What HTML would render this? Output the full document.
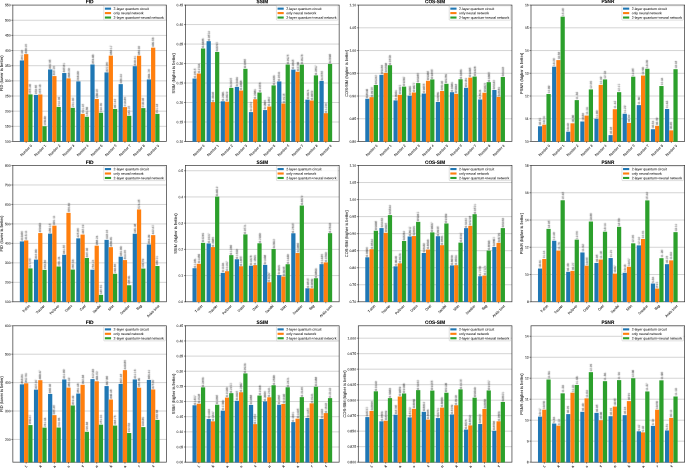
<!DOCTYPE html>
<html><head><meta charset="utf-8"><title>Metrics comparison</title>
<style>
html,body{margin:0;padding:0;background:#fff;}
body{width:685px;height:468px;overflow:hidden;font-family:"Liberation Sans",sans-serif;}
svg{display:block;will-change:transform;transform:translateZ(0);}
text{text-rendering:geometricPrecision;}
</style></head><body>
<svg width="685" height="468" viewBox="0 0 685 468" font-family="'Liberation Sans', sans-serif" fill="#111">
<defs><filter id="tb" x="-5%" y="-5%" width="110%" height="110%"><feConvolveMatrix order="3" kernelMatrix="0 1 0 1 5 1 0 1 0" edgeMode="none"/></filter></defs>
<g>
<line x1="12.85" x2="166.5" y1="126.34" y2="126.34" stroke="#000" stroke-opacity="0.25" stroke-width="0.7"/>
<line x1="12.85" x2="166.5" y1="111.18" y2="111.18" stroke="#000" stroke-opacity="0.25" stroke-width="0.7"/>
<line x1="12.85" x2="166.5" y1="96.03" y2="96.03" stroke="#000" stroke-opacity="0.25" stroke-width="0.7"/>
<line x1="12.85" x2="166.5" y1="80.87" y2="80.87" stroke="#000" stroke-opacity="0.25" stroke-width="0.7"/>
<line x1="12.85" x2="166.5" y1="65.71" y2="65.71" stroke="#000" stroke-opacity="0.25" stroke-width="0.7"/>
<line x1="12.85" x2="166.5" y1="50.55" y2="50.55" stroke="#000" stroke-opacity="0.25" stroke-width="0.7"/>
<line x1="12.85" x2="166.5" y1="35.4" y2="35.4" stroke="#000" stroke-opacity="0.25" stroke-width="0.7"/>
<line x1="12.85" x2="166.5" y1="20.24" y2="20.24" stroke="#000" stroke-opacity="0.25" stroke-width="0.7"/>
<rect x="12.85" y="5.08" width="153.65" height="136.42" fill="none" stroke="#000" stroke-opacity="0.8" stroke-width="0.7"/>
<rect x="19.83" y="60.43" width="4.23" height="81.32" fill="#1f77b4"/>
<rect x="24.07" y="54.14" width="4.23" height="87.61" fill="#ff7f0e"/>
<rect x="28.3" y="94.39" width="4.23" height="47.36" fill="#2ca02c"/>
<rect x="33.94" y="94.92" width="4.23" height="46.83" fill="#1f77b4"/>
<rect x="38.18" y="94.47" width="4.23" height="47.28" fill="#ff7f0e"/>
<rect x="42.41" y="126.24" width="4.23" height="15.51" fill="#2ca02c"/>
<rect x="48.05" y="69.46" width="4.23" height="72.29" fill="#1f77b4"/>
<rect x="52.29" y="76.09" width="4.23" height="65.66" fill="#ff7f0e"/>
<rect x="56.52" y="106.91" width="4.23" height="34.84" fill="#2ca02c"/>
<rect x="62.16" y="73.04" width="4.23" height="68.71" fill="#1f77b4"/>
<rect x="66.39" y="78.37" width="4.23" height="63.38" fill="#ff7f0e"/>
<rect x="70.63" y="107.82" width="4.23" height="33.93" fill="#2ca02c"/>
<rect x="76.27" y="81.38" width="4.23" height="60.37" fill="#1f77b4"/>
<rect x="80.5" y="113.87" width="4.23" height="27.88" fill="#ff7f0e"/>
<rect x="84.74" y="116.79" width="4.23" height="24.96" fill="#2ca02c"/>
<rect x="90.38" y="64.49" width="4.23" height="77.26" fill="#1f77b4"/>
<rect x="94.61" y="99.01" width="4.23" height="42.74" fill="#ff7f0e"/>
<rect x="98.85" y="112.76" width="4.23" height="28.99" fill="#2ca02c"/>
<rect x="104.49" y="72.42" width="4.23" height="69.33" fill="#1f77b4"/>
<rect x="108.72" y="55.66" width="4.23" height="86.09" fill="#ff7f0e"/>
<rect x="112.96" y="108.94" width="4.23" height="32.81" fill="#2ca02c"/>
<rect x="118.6" y="84.13" width="4.23" height="57.62" fill="#1f77b4"/>
<rect x="122.83" y="107.13" width="4.23" height="34.62" fill="#ff7f0e"/>
<rect x="127.06" y="115.81" width="4.23" height="25.94" fill="#2ca02c"/>
<rect x="132.71" y="66.19" width="4.23" height="75.56" fill="#1f77b4"/>
<rect x="136.94" y="55.73" width="4.23" height="86.02" fill="#ff7f0e"/>
<rect x="141.17" y="108.12" width="4.23" height="33.63" fill="#2ca02c"/>
<rect x="146.82" y="79.43" width="4.23" height="62.32" fill="#1f77b4"/>
<rect x="151.05" y="47.66" width="4.23" height="94.09" fill="#ff7f0e"/>
<rect x="155.28" y="113.87" width="4.23" height="27.88" fill="#2ca02c"/>
<line x1="11.35" x2="12.85" y1="141.5" y2="141.5" stroke="#000" stroke-width="0.45"/>
<line x1="11.35" x2="12.85" y1="126.34" y2="126.34" stroke="#000" stroke-width="0.45"/>
<line x1="11.35" x2="12.85" y1="111.18" y2="111.18" stroke="#000" stroke-width="0.45"/>
<line x1="11.35" x2="12.85" y1="96.03" y2="96.03" stroke="#000" stroke-width="0.45"/>
<line x1="11.35" x2="12.85" y1="80.87" y2="80.87" stroke="#000" stroke-width="0.45"/>
<line x1="11.35" x2="12.85" y1="65.71" y2="65.71" stroke="#000" stroke-width="0.45"/>
<line x1="11.35" x2="12.85" y1="50.55" y2="50.55" stroke="#000" stroke-width="0.45"/>
<line x1="11.35" x2="12.85" y1="35.4" y2="35.4" stroke="#000" stroke-width="0.45"/>
<line x1="11.35" x2="12.85" y1="20.24" y2="20.24" stroke="#000" stroke-width="0.45"/>
<line x1="11.35" x2="12.85" y1="5.08" y2="5.08" stroke="#000" stroke-width="0.45"/>
<line x1="26.18" x2="26.18" y1="141.5" y2="143" stroke="#000" stroke-width="0.45"/>
<line x1="40.29" x2="40.29" y1="141.5" y2="143" stroke="#000" stroke-width="0.45"/>
<line x1="54.4" x2="54.4" y1="141.5" y2="143" stroke="#000" stroke-width="0.45"/>
<line x1="68.51" x2="68.51" y1="141.5" y2="143" stroke="#000" stroke-width="0.45"/>
<line x1="82.62" x2="82.62" y1="141.5" y2="143" stroke="#000" stroke-width="0.45"/>
<line x1="96.73" x2="96.73" y1="141.5" y2="143" stroke="#000" stroke-width="0.45"/>
<line x1="110.84" x2="110.84" y1="141.5" y2="143" stroke="#000" stroke-width="0.45"/>
<line x1="124.95" x2="124.95" y1="141.5" y2="143" stroke="#000" stroke-width="0.45"/>
<line x1="139.06" x2="139.06" y1="141.5" y2="143" stroke="#000" stroke-width="0.45"/>
<line x1="153.17" x2="153.17" y1="141.5" y2="143" stroke="#000" stroke-width="0.45"/>
<text x="89.67" y="3.15" font-size="5.04" text-anchor="middle" textLength="7.92" lengthAdjust="spacingAndGlyphs" transform="rotate(0.03 89.67 3.15)" font-weight="bold" stroke="#000" stroke-width="0.1" fill="#000">FID</text>
<rect x="103.78" y="5.8" width="61.52" height="14.35" rx="0.6" fill="#fff" fill-opacity="0.8" stroke="#bbb" stroke-opacity="0.9" stroke-width="0.5"/>
<rect x="104.88" y="7.6" width="6.2" height="2.1" fill="#1f77b4"/>
<rect x="104.88" y="12.05" width="6.2" height="2.1" fill="#ff7f0e"/>
<rect x="104.88" y="16.5" width="6.2" height="2.1" fill="#2ca02c"/>
</g>
<g>
<line x1="185.5" x2="339.15" y1="122.01" y2="122.01" stroke="#000" stroke-opacity="0.25" stroke-width="0.7"/>
<line x1="185.5" x2="339.15" y1="102.52" y2="102.52" stroke="#000" stroke-opacity="0.25" stroke-width="0.7"/>
<line x1="185.5" x2="339.15" y1="83.03" y2="83.03" stroke="#000" stroke-opacity="0.25" stroke-width="0.7"/>
<line x1="185.5" x2="339.15" y1="63.55" y2="63.55" stroke="#000" stroke-opacity="0.25" stroke-width="0.7"/>
<line x1="185.5" x2="339.15" y1="44.06" y2="44.06" stroke="#000" stroke-opacity="0.25" stroke-width="0.7"/>
<line x1="185.5" x2="339.15" y1="24.57" y2="24.57" stroke="#000" stroke-opacity="0.25" stroke-width="0.7"/>
<rect x="185.5" y="5.08" width="153.65" height="136.42" fill="none" stroke="#000" stroke-opacity="0.8" stroke-width="0.7"/>
<rect x="192.48" y="78.55" width="4.23" height="63.2" fill="#1f77b4"/>
<rect x="196.72" y="73.52" width="4.23" height="68.23" fill="#ff7f0e"/>
<rect x="200.95" y="48.5" width="4.23" height="93.25" fill="#2ca02c"/>
<rect x="206.59" y="41.17" width="4.23" height="100.58" fill="#1f77b4"/>
<rect x="210.83" y="102.13" width="4.23" height="39.62" fill="#ff7f0e"/>
<rect x="215.06" y="51.97" width="4.23" height="89.78" fill="#2ca02c"/>
<rect x="220.7" y="101.31" width="4.23" height="40.44" fill="#1f77b4"/>
<rect x="224.94" y="101.67" width="4.23" height="40.08" fill="#ff7f0e"/>
<rect x="229.17" y="87.91" width="4.23" height="53.84" fill="#2ca02c"/>
<rect x="234.81" y="86.89" width="4.23" height="54.86" fill="#1f77b4"/>
<rect x="239.04" y="90.52" width="4.23" height="51.23" fill="#ff7f0e"/>
<rect x="243.28" y="68.81" width="4.23" height="72.94" fill="#2ca02c"/>
<rect x="248.92" y="112.11" width="4.23" height="29.64" fill="#1f77b4"/>
<rect x="253.15" y="99.25" width="4.23" height="42.5" fill="#ff7f0e"/>
<rect x="257.39" y="92.54" width="4.23" height="49.21" fill="#2ca02c"/>
<rect x="263.03" y="110.08" width="4.23" height="31.67" fill="#1f77b4"/>
<rect x="267.26" y="106.54" width="4.23" height="35.21" fill="#ff7f0e"/>
<rect x="271.5" y="85.41" width="4.23" height="56.34" fill="#2ca02c"/>
<rect x="277.14" y="81.44" width="4.23" height="60.31" fill="#1f77b4"/>
<rect x="281.37" y="103.5" width="4.23" height="38.25" fill="#ff7f0e"/>
<rect x="285.61" y="64.52" width="4.23" height="77.23" fill="#2ca02c"/>
<rect x="291.25" y="69.59" width="4.23" height="72.16" fill="#1f77b4"/>
<rect x="295.48" y="71.73" width="4.23" height="70.02" fill="#ff7f0e"/>
<rect x="299.71" y="64.6" width="4.23" height="77.15" fill="#2ca02c"/>
<rect x="305.36" y="99.64" width="4.23" height="42.11" fill="#1f77b4"/>
<rect x="309.59" y="100.5" width="4.23" height="41.25" fill="#ff7f0e"/>
<rect x="313.82" y="75.36" width="4.23" height="66.39" fill="#2ca02c"/>
<rect x="319.47" y="80.89" width="4.23" height="60.86" fill="#1f77b4"/>
<rect x="323.7" y="113.2" width="4.23" height="28.55" fill="#ff7f0e"/>
<rect x="327.93" y="63.94" width="4.23" height="77.81" fill="#2ca02c"/>
<line x1="184" x2="185.5" y1="141.5" y2="141.5" stroke="#000" stroke-width="0.45"/>
<line x1="184" x2="185.5" y1="122.01" y2="122.01" stroke="#000" stroke-width="0.45"/>
<line x1="184" x2="185.5" y1="102.52" y2="102.52" stroke="#000" stroke-width="0.45"/>
<line x1="184" x2="185.5" y1="83.03" y2="83.03" stroke="#000" stroke-width="0.45"/>
<line x1="184" x2="185.5" y1="63.55" y2="63.55" stroke="#000" stroke-width="0.45"/>
<line x1="184" x2="185.5" y1="44.06" y2="44.06" stroke="#000" stroke-width="0.45"/>
<line x1="184" x2="185.5" y1="24.57" y2="24.57" stroke="#000" stroke-width="0.45"/>
<line x1="184" x2="185.5" y1="5.08" y2="5.08" stroke="#000" stroke-width="0.45"/>
<line x1="198.83" x2="198.83" y1="141.5" y2="143" stroke="#000" stroke-width="0.45"/>
<line x1="212.94" x2="212.94" y1="141.5" y2="143" stroke="#000" stroke-width="0.45"/>
<line x1="227.05" x2="227.05" y1="141.5" y2="143" stroke="#000" stroke-width="0.45"/>
<line x1="241.16" x2="241.16" y1="141.5" y2="143" stroke="#000" stroke-width="0.45"/>
<line x1="255.27" x2="255.27" y1="141.5" y2="143" stroke="#000" stroke-width="0.45"/>
<line x1="269.38" x2="269.38" y1="141.5" y2="143" stroke="#000" stroke-width="0.45"/>
<line x1="283.49" x2="283.49" y1="141.5" y2="143" stroke="#000" stroke-width="0.45"/>
<line x1="297.6" x2="297.6" y1="141.5" y2="143" stroke="#000" stroke-width="0.45"/>
<line x1="311.71" x2="311.71" y1="141.5" y2="143" stroke="#000" stroke-width="0.45"/>
<line x1="325.82" x2="325.82" y1="141.5" y2="143" stroke="#000" stroke-width="0.45"/>
<text x="262.32" y="3.15" font-size="5.04" text-anchor="middle" textLength="11.6" lengthAdjust="spacingAndGlyphs" transform="rotate(0.03 262.32 3.15)" font-weight="bold" stroke="#000" stroke-width="0.1" fill="#000">SSIM</text>
<rect x="276.43" y="5.8" width="61.52" height="14.35" rx="0.6" fill="#fff" fill-opacity="0.8" stroke="#bbb" stroke-opacity="0.9" stroke-width="0.5"/>
<rect x="277.53" y="7.6" width="6.2" height="2.1" fill="#1f77b4"/>
<rect x="277.53" y="12.05" width="6.2" height="2.1" fill="#ff7f0e"/>
<rect x="277.53" y="16.5" width="6.2" height="2.1" fill="#2ca02c"/>
</g>
<g>
<line x1="358.3" x2="511.95" y1="118.76" y2="118.76" stroke="#000" stroke-opacity="0.25" stroke-width="0.7"/>
<line x1="358.3" x2="511.95" y1="96.03" y2="96.03" stroke="#000" stroke-opacity="0.25" stroke-width="0.7"/>
<line x1="358.3" x2="511.95" y1="73.29" y2="73.29" stroke="#000" stroke-opacity="0.25" stroke-width="0.7"/>
<line x1="358.3" x2="511.95" y1="50.55" y2="50.55" stroke="#000" stroke-opacity="0.25" stroke-width="0.7"/>
<line x1="358.3" x2="511.95" y1="27.82" y2="27.82" stroke="#000" stroke-opacity="0.25" stroke-width="0.7"/>
<rect x="358.3" y="5.08" width="153.65" height="136.42" fill="none" stroke="#000" stroke-opacity="0.8" stroke-width="0.7"/>
<rect x="365.28" y="98.76" width="4.23" height="42.99" fill="#1f77b4"/>
<rect x="369.52" y="97.16" width="4.23" height="44.59" fill="#ff7f0e"/>
<rect x="373.75" y="85.02" width="4.23" height="56.73" fill="#2ca02c"/>
<rect x="379.39" y="74.84" width="4.23" height="66.91" fill="#1f77b4"/>
<rect x="383.63" y="72.93" width="4.23" height="68.82" fill="#ff7f0e"/>
<rect x="387.86" y="65.2" width="4.23" height="76.55" fill="#2ca02c"/>
<rect x="393.5" y="100.39" width="4.23" height="41.36" fill="#1f77b4"/>
<rect x="397.74" y="94.8" width="4.23" height="46.95" fill="#ff7f0e"/>
<rect x="401.97" y="86.61" width="4.23" height="55.14" fill="#2ca02c"/>
<rect x="407.61" y="95.71" width="4.23" height="46.04" fill="#1f77b4"/>
<rect x="411.84" y="92.53" width="4.23" height="49.22" fill="#ff7f0e"/>
<rect x="416.08" y="83.07" width="4.23" height="58.68" fill="#2ca02c"/>
<rect x="421.72" y="93.53" width="4.23" height="48.22" fill="#1f77b4"/>
<rect x="425.95" y="80.79" width="4.23" height="60.96" fill="#ff7f0e"/>
<rect x="430.19" y="79.43" width="4.23" height="62.32" fill="#2ca02c"/>
<rect x="435.83" y="101.98" width="4.23" height="39.77" fill="#1f77b4"/>
<rect x="440.06" y="91.02" width="4.23" height="50.73" fill="#ff7f0e"/>
<rect x="444.3" y="83.79" width="4.23" height="57.96" fill="#2ca02c"/>
<rect x="449.94" y="92.21" width="4.23" height="49.54" fill="#1f77b4"/>
<rect x="454.17" y="93.84" width="4.23" height="47.91" fill="#ff7f0e"/>
<rect x="458.41" y="79.25" width="4.23" height="62.5" fill="#2ca02c"/>
<rect x="464.05" y="87.8" width="4.23" height="53.95" fill="#1f77b4"/>
<rect x="468.28" y="77.61" width="4.23" height="64.14" fill="#ff7f0e"/>
<rect x="472.51" y="76.56" width="4.23" height="65.19" fill="#2ca02c"/>
<rect x="478.16" y="99.48" width="4.23" height="42.27" fill="#1f77b4"/>
<rect x="482.39" y="92.75" width="4.23" height="49" fill="#ff7f0e"/>
<rect x="486.62" y="82.16" width="4.23" height="59.59" fill="#2ca02c"/>
<rect x="492.27" y="90.02" width="4.23" height="51.73" fill="#1f77b4"/>
<rect x="496.5" y="96.89" width="4.23" height="44.86" fill="#ff7f0e"/>
<rect x="500.73" y="77.02" width="4.23" height="64.73" fill="#2ca02c"/>
<line x1="356.8" x2="358.3" y1="141.5" y2="141.5" stroke="#000" stroke-width="0.45"/>
<line x1="356.8" x2="358.3" y1="118.76" y2="118.76" stroke="#000" stroke-width="0.45"/>
<line x1="356.8" x2="358.3" y1="96.03" y2="96.03" stroke="#000" stroke-width="0.45"/>
<line x1="356.8" x2="358.3" y1="73.29" y2="73.29" stroke="#000" stroke-width="0.45"/>
<line x1="356.8" x2="358.3" y1="50.55" y2="50.55" stroke="#000" stroke-width="0.45"/>
<line x1="356.8" x2="358.3" y1="27.82" y2="27.82" stroke="#000" stroke-width="0.45"/>
<line x1="356.8" x2="358.3" y1="5.08" y2="5.08" stroke="#000" stroke-width="0.45"/>
<line x1="371.63" x2="371.63" y1="141.5" y2="143" stroke="#000" stroke-width="0.45"/>
<line x1="385.74" x2="385.74" y1="141.5" y2="143" stroke="#000" stroke-width="0.45"/>
<line x1="399.85" x2="399.85" y1="141.5" y2="143" stroke="#000" stroke-width="0.45"/>
<line x1="413.96" x2="413.96" y1="141.5" y2="143" stroke="#000" stroke-width="0.45"/>
<line x1="428.07" x2="428.07" y1="141.5" y2="143" stroke="#000" stroke-width="0.45"/>
<line x1="442.18" x2="442.18" y1="141.5" y2="143" stroke="#000" stroke-width="0.45"/>
<line x1="456.29" x2="456.29" y1="141.5" y2="143" stroke="#000" stroke-width="0.45"/>
<line x1="470.4" x2="470.4" y1="141.5" y2="143" stroke="#000" stroke-width="0.45"/>
<line x1="484.51" x2="484.51" y1="141.5" y2="143" stroke="#000" stroke-width="0.45"/>
<line x1="498.62" x2="498.62" y1="141.5" y2="143" stroke="#000" stroke-width="0.45"/>
<text x="435.12" y="3.15" font-size="5.04" text-anchor="middle" textLength="20.19" lengthAdjust="spacingAndGlyphs" transform="rotate(0.03 435.12 3.15)" font-weight="bold" stroke="#000" stroke-width="0.1" fill="#000">COS-SIM</text>
<rect x="449.23" y="5.8" width="61.52" height="14.35" rx="0.6" fill="#fff" fill-opacity="0.8" stroke="#bbb" stroke-opacity="0.9" stroke-width="0.5"/>
<rect x="450.33" y="7.6" width="6.2" height="2.1" fill="#1f77b4"/>
<rect x="450.33" y="12.05" width="6.2" height="2.1" fill="#ff7f0e"/>
<rect x="450.33" y="16.5" width="6.2" height="2.1" fill="#2ca02c"/>
</g>
<g>
<line x1="531" x2="684.65" y1="118.76" y2="118.76" stroke="#000" stroke-opacity="0.25" stroke-width="0.7"/>
<line x1="531" x2="684.65" y1="96.03" y2="96.03" stroke="#000" stroke-opacity="0.25" stroke-width="0.7"/>
<line x1="531" x2="684.65" y1="73.29" y2="73.29" stroke="#000" stroke-opacity="0.25" stroke-width="0.7"/>
<line x1="531" x2="684.65" y1="50.55" y2="50.55" stroke="#000" stroke-opacity="0.25" stroke-width="0.7"/>
<line x1="531" x2="684.65" y1="27.82" y2="27.82" stroke="#000" stroke-opacity="0.25" stroke-width="0.7"/>
<rect x="531" y="5.08" width="153.65" height="136.42" fill="none" stroke="#000" stroke-opacity="0.8" stroke-width="0.7"/>
<rect x="537.98" y="126.27" width="4.23" height="15.48" fill="#1f77b4"/>
<rect x="542.22" y="124.67" width="4.23" height="17.08" fill="#ff7f0e"/>
<rect x="546.45" y="93.98" width="4.23" height="47.77" fill="#2ca02c"/>
<rect x="552.09" y="66.7" width="4.23" height="75.05" fill="#1f77b4"/>
<rect x="556.33" y="60.1" width="4.23" height="81.65" fill="#ff7f0e"/>
<rect x="560.56" y="16.68" width="4.23" height="125.07" fill="#2ca02c"/>
<rect x="566.2" y="131.72" width="4.23" height="10.03" fill="#1f77b4"/>
<rect x="570.44" y="123.31" width="4.23" height="18.44" fill="#ff7f0e"/>
<rect x="574.67" y="100.12" width="4.23" height="41.63" fill="#2ca02c"/>
<rect x="580.31" y="121.49" width="4.23" height="20.26" fill="#1f77b4"/>
<rect x="584.54" y="115.58" width="4.23" height="26.17" fill="#ff7f0e"/>
<rect x="588.78" y="89.43" width="4.23" height="52.32" fill="#2ca02c"/>
<rect x="594.42" y="118.76" width="4.23" height="22.99" fill="#1f77b4"/>
<rect x="598.65" y="84.89" width="4.23" height="56.86" fill="#ff7f0e"/>
<rect x="602.89" y="79.43" width="4.23" height="62.32" fill="#2ca02c"/>
<rect x="608.53" y="135.13" width="4.23" height="6.62" fill="#1f77b4"/>
<rect x="612.76" y="109.21" width="4.23" height="32.54" fill="#ff7f0e"/>
<rect x="617" y="92.16" width="4.23" height="49.59" fill="#2ca02c"/>
<rect x="622.64" y="113.76" width="4.23" height="27.99" fill="#1f77b4"/>
<rect x="626.87" y="122.86" width="4.23" height="18.89" fill="#ff7f0e"/>
<rect x="631.11" y="76.7" width="4.23" height="65.05" fill="#2ca02c"/>
<rect x="636.75" y="105.12" width="4.23" height="36.63" fill="#1f77b4"/>
<rect x="640.98" y="75.56" width="4.23" height="66.19" fill="#ff7f0e"/>
<rect x="645.21" y="68.74" width="4.23" height="73.01" fill="#2ca02c"/>
<rect x="650.86" y="129.22" width="4.23" height="12.53" fill="#1f77b4"/>
<rect x="655.09" y="125.81" width="4.23" height="15.94" fill="#ff7f0e"/>
<rect x="659.32" y="86.02" width="4.23" height="55.73" fill="#2ca02c"/>
<rect x="664.97" y="108.99" width="4.23" height="32.76" fill="#1f77b4"/>
<rect x="669.2" y="130.36" width="4.23" height="11.39" fill="#ff7f0e"/>
<rect x="673.43" y="69.2" width="4.23" height="72.55" fill="#2ca02c"/>
<line x1="529.5" x2="531" y1="141.5" y2="141.5" stroke="#000" stroke-width="0.45"/>
<line x1="529.5" x2="531" y1="118.76" y2="118.76" stroke="#000" stroke-width="0.45"/>
<line x1="529.5" x2="531" y1="96.03" y2="96.03" stroke="#000" stroke-width="0.45"/>
<line x1="529.5" x2="531" y1="73.29" y2="73.29" stroke="#000" stroke-width="0.45"/>
<line x1="529.5" x2="531" y1="50.55" y2="50.55" stroke="#000" stroke-width="0.45"/>
<line x1="529.5" x2="531" y1="27.82" y2="27.82" stroke="#000" stroke-width="0.45"/>
<line x1="529.5" x2="531" y1="5.08" y2="5.08" stroke="#000" stroke-width="0.45"/>
<line x1="544.33" x2="544.33" y1="141.5" y2="143" stroke="#000" stroke-width="0.45"/>
<line x1="558.44" x2="558.44" y1="141.5" y2="143" stroke="#000" stroke-width="0.45"/>
<line x1="572.55" x2="572.55" y1="141.5" y2="143" stroke="#000" stroke-width="0.45"/>
<line x1="586.66" x2="586.66" y1="141.5" y2="143" stroke="#000" stroke-width="0.45"/>
<line x1="600.77" x2="600.77" y1="141.5" y2="143" stroke="#000" stroke-width="0.45"/>
<line x1="614.88" x2="614.88" y1="141.5" y2="143" stroke="#000" stroke-width="0.45"/>
<line x1="628.99" x2="628.99" y1="141.5" y2="143" stroke="#000" stroke-width="0.45"/>
<line x1="643.1" x2="643.1" y1="141.5" y2="143" stroke="#000" stroke-width="0.45"/>
<line x1="657.21" x2="657.21" y1="141.5" y2="143" stroke="#000" stroke-width="0.45"/>
<line x1="671.32" x2="671.32" y1="141.5" y2="143" stroke="#000" stroke-width="0.45"/>
<text x="607.83" y="3.15" font-size="5.04" text-anchor="middle" textLength="12.85" lengthAdjust="spacingAndGlyphs" transform="rotate(0.03 607.83 3.15)" font-weight="bold" stroke="#000" stroke-width="0.1" fill="#000">PSNR</text>
<rect x="621.93" y="5.8" width="61.52" height="14.35" rx="0.6" fill="#fff" fill-opacity="0.8" stroke="#bbb" stroke-opacity="0.9" stroke-width="0.5"/>
<rect x="623.03" y="7.6" width="6.2" height="2.1" fill="#1f77b4"/>
<rect x="623.03" y="12.05" width="6.2" height="2.1" fill="#ff7f0e"/>
<rect x="623.03" y="16.5" width="6.2" height="2.1" fill="#2ca02c"/>
</g>
<g>
<line x1="12.85" x2="166.5" y1="282.33" y2="282.33" stroke="#000" stroke-opacity="0.25" stroke-width="0.7"/>
<line x1="12.85" x2="166.5" y1="262.86" y2="262.86" stroke="#000" stroke-opacity="0.25" stroke-width="0.7"/>
<line x1="12.85" x2="166.5" y1="243.39" y2="243.39" stroke="#000" stroke-opacity="0.25" stroke-width="0.7"/>
<line x1="12.85" x2="166.5" y1="223.91" y2="223.91" stroke="#000" stroke-opacity="0.25" stroke-width="0.7"/>
<line x1="12.85" x2="166.5" y1="204.44" y2="204.44" stroke="#000" stroke-opacity="0.25" stroke-width="0.7"/>
<line x1="12.85" x2="166.5" y1="184.97" y2="184.97" stroke="#000" stroke-opacity="0.25" stroke-width="0.7"/>
<rect x="12.85" y="165.5" width="153.65" height="136.3" fill="none" stroke="#000" stroke-opacity="0.8" stroke-width="0.7"/>
<rect x="19.83" y="241.43" width="4.23" height="60.62" fill="#1f77b4"/>
<rect x="24.07" y="240.44" width="4.23" height="61.61" fill="#ff7f0e"/>
<rect x="28.3" y="268.4" width="4.23" height="33.65" fill="#2ca02c"/>
<rect x="33.94" y="259.59" width="4.23" height="42.46" fill="#1f77b4"/>
<rect x="38.18" y="233.06" width="4.23" height="68.99" fill="#ff7f0e"/>
<rect x="42.41" y="269.9" width="4.23" height="32.15" fill="#2ca02c"/>
<rect x="48.05" y="233.62" width="4.23" height="68.43" fill="#1f77b4"/>
<rect x="52.29" y="225.65" width="4.23" height="76.4" fill="#ff7f0e"/>
<rect x="56.52" y="266.51" width="4.23" height="35.54" fill="#2ca02c"/>
<rect x="62.16" y="254.77" width="4.23" height="47.28" fill="#1f77b4"/>
<rect x="66.39" y="212.85" width="4.23" height="89.2" fill="#ff7f0e"/>
<rect x="70.63" y="269.57" width="4.23" height="32.48" fill="#2ca02c"/>
<rect x="76.27" y="238.35" width="4.23" height="63.7" fill="#1f77b4"/>
<rect x="80.5" y="234.59" width="4.23" height="67.46" fill="#ff7f0e"/>
<rect x="84.74" y="257.97" width="4.23" height="44.08" fill="#2ca02c"/>
<rect x="90.38" y="269.72" width="4.23" height="32.33" fill="#1f77b4"/>
<rect x="94.61" y="245.68" width="4.23" height="56.37" fill="#ff7f0e"/>
<rect x="98.85" y="294.85" width="4.23" height="7.2" fill="#2ca02c"/>
<rect x="104.49" y="239.85" width="4.23" height="62.2" fill="#1f77b4"/>
<rect x="108.72" y="247.18" width="4.23" height="54.87" fill="#ff7f0e"/>
<rect x="112.96" y="273.79" width="4.23" height="28.26" fill="#2ca02c"/>
<rect x="118.6" y="256.67" width="4.23" height="45.38" fill="#1f77b4"/>
<rect x="122.83" y="260.08" width="4.23" height="41.97" fill="#ff7f0e"/>
<rect x="127.06" y="285.25" width="4.23" height="16.8" fill="#2ca02c"/>
<rect x="132.71" y="233.75" width="4.23" height="68.3" fill="#1f77b4"/>
<rect x="136.94" y="209.46" width="4.23" height="92.59" fill="#ff7f0e"/>
<rect x="141.17" y="268.58" width="4.23" height="33.47" fill="#2ca02c"/>
<rect x="146.82" y="244.48" width="4.23" height="57.57" fill="#1f77b4"/>
<rect x="151.05" y="235.12" width="4.23" height="66.93" fill="#ff7f0e"/>
<rect x="155.28" y="266.03" width="4.23" height="36.02" fill="#2ca02c"/>
<line x1="11.35" x2="12.85" y1="301.8" y2="301.8" stroke="#000" stroke-width="0.45"/>
<line x1="11.35" x2="12.85" y1="282.33" y2="282.33" stroke="#000" stroke-width="0.45"/>
<line x1="11.35" x2="12.85" y1="262.86" y2="262.86" stroke="#000" stroke-width="0.45"/>
<line x1="11.35" x2="12.85" y1="243.39" y2="243.39" stroke="#000" stroke-width="0.45"/>
<line x1="11.35" x2="12.85" y1="223.91" y2="223.91" stroke="#000" stroke-width="0.45"/>
<line x1="11.35" x2="12.85" y1="204.44" y2="204.44" stroke="#000" stroke-width="0.45"/>
<line x1="11.35" x2="12.85" y1="184.97" y2="184.97" stroke="#000" stroke-width="0.45"/>
<line x1="11.35" x2="12.85" y1="165.5" y2="165.5" stroke="#000" stroke-width="0.45"/>
<line x1="26.18" x2="26.18" y1="301.8" y2="303.3" stroke="#000" stroke-width="0.45"/>
<line x1="40.29" x2="40.29" y1="301.8" y2="303.3" stroke="#000" stroke-width="0.45"/>
<line x1="54.4" x2="54.4" y1="301.8" y2="303.3" stroke="#000" stroke-width="0.45"/>
<line x1="68.51" x2="68.51" y1="301.8" y2="303.3" stroke="#000" stroke-width="0.45"/>
<line x1="82.62" x2="82.62" y1="301.8" y2="303.3" stroke="#000" stroke-width="0.45"/>
<line x1="96.73" x2="96.73" y1="301.8" y2="303.3" stroke="#000" stroke-width="0.45"/>
<line x1="110.84" x2="110.84" y1="301.8" y2="303.3" stroke="#000" stroke-width="0.45"/>
<line x1="124.95" x2="124.95" y1="301.8" y2="303.3" stroke="#000" stroke-width="0.45"/>
<line x1="139.06" x2="139.06" y1="301.8" y2="303.3" stroke="#000" stroke-width="0.45"/>
<line x1="153.17" x2="153.17" y1="301.8" y2="303.3" stroke="#000" stroke-width="0.45"/>
<text x="89.67" y="164" font-size="5.04" text-anchor="middle" textLength="7.92" lengthAdjust="spacingAndGlyphs" transform="rotate(0.03 89.67 164)" font-weight="bold" stroke="#000" stroke-width="0.1" fill="#000">FID</text>
<rect x="103.78" y="166.22" width="61.52" height="14.35" rx="0.6" fill="#fff" fill-opacity="0.8" stroke="#bbb" stroke-opacity="0.9" stroke-width="0.5"/>
<rect x="104.88" y="168.02" width="6.2" height="2.1" fill="#1f77b4"/>
<rect x="104.88" y="172.47" width="6.2" height="2.1" fill="#ff7f0e"/>
<rect x="104.88" y="176.92" width="6.2" height="2.1" fill="#2ca02c"/>
</g>
<g>
<line x1="185.5" x2="339.15" y1="275.59" y2="275.59" stroke="#000" stroke-opacity="0.25" stroke-width="0.7"/>
<line x1="185.5" x2="339.15" y1="249.38" y2="249.38" stroke="#000" stroke-opacity="0.25" stroke-width="0.7"/>
<line x1="185.5" x2="339.15" y1="223.17" y2="223.17" stroke="#000" stroke-opacity="0.25" stroke-width="0.7"/>
<line x1="185.5" x2="339.15" y1="196.95" y2="196.95" stroke="#000" stroke-opacity="0.25" stroke-width="0.7"/>
<line x1="185.5" x2="339.15" y1="170.74" y2="170.74" stroke="#000" stroke-opacity="0.25" stroke-width="0.7"/>
<rect x="185.5" y="165.5" width="153.65" height="136.3" fill="none" stroke="#000" stroke-opacity="0.8" stroke-width="0.7"/>
<rect x="192.48" y="268.22" width="4.23" height="33.83" fill="#1f77b4"/>
<rect x="196.72" y="263.79" width="4.23" height="38.26" fill="#ff7f0e"/>
<rect x="200.95" y="242.85" width="4.23" height="59.2" fill="#2ca02c"/>
<rect x="206.59" y="243.43" width="4.23" height="58.62" fill="#1f77b4"/>
<rect x="210.83" y="247.12" width="4.23" height="54.93" fill="#ff7f0e"/>
<rect x="215.06" y="196.64" width="4.23" height="105.41" fill="#2ca02c"/>
<rect x="220.7" y="272.86" width="4.23" height="29.19" fill="#1f77b4"/>
<rect x="224.94" y="271.21" width="4.23" height="30.84" fill="#ff7f0e"/>
<rect x="229.17" y="255.14" width="4.23" height="46.91" fill="#2ca02c"/>
<rect x="234.81" y="259.26" width="4.23" height="42.79" fill="#1f77b4"/>
<rect x="239.04" y="266.28" width="4.23" height="35.77" fill="#ff7f0e"/>
<rect x="243.28" y="234.41" width="4.23" height="67.64" fill="#2ca02c"/>
<rect x="248.92" y="265.68" width="4.23" height="36.37" fill="#1f77b4"/>
<rect x="253.15" y="265.13" width="4.23" height="36.92" fill="#ff7f0e"/>
<rect x="257.39" y="243.27" width="4.23" height="58.78" fill="#2ca02c"/>
<rect x="263.03" y="264.89" width="4.23" height="37.16" fill="#1f77b4"/>
<rect x="267.26" y="282.22" width="4.23" height="19.83" fill="#ff7f0e"/>
<rect x="271.5" y="249.06" width="4.23" height="52.99" fill="#2ca02c"/>
<rect x="277.14" y="275.09" width="4.23" height="26.96" fill="#1f77b4"/>
<rect x="281.37" y="276.51" width="4.23" height="25.54" fill="#ff7f0e"/>
<rect x="285.61" y="264.24" width="4.23" height="37.81" fill="#2ca02c"/>
<rect x="291.25" y="233.26" width="4.23" height="68.79" fill="#1f77b4"/>
<rect x="295.48" y="253.05" width="4.23" height="49" fill="#ff7f0e"/>
<rect x="299.71" y="205.55" width="4.23" height="96.5" fill="#2ca02c"/>
<rect x="305.36" y="288.3" width="4.23" height="13.75" fill="#1f77b4"/>
<rect x="309.59" y="288.46" width="4.23" height="13.59" fill="#ff7f0e"/>
<rect x="313.82" y="278.24" width="4.23" height="23.81" fill="#2ca02c"/>
<rect x="319.47" y="264.16" width="4.23" height="37.89" fill="#1f77b4"/>
<rect x="323.7" y="262.4" width="4.23" height="39.65" fill="#ff7f0e"/>
<rect x="327.93" y="233.18" width="4.23" height="68.87" fill="#2ca02c"/>
<line x1="184" x2="185.5" y1="301.8" y2="301.8" stroke="#000" stroke-width="0.45"/>
<line x1="184" x2="185.5" y1="275.59" y2="275.59" stroke="#000" stroke-width="0.45"/>
<line x1="184" x2="185.5" y1="249.38" y2="249.38" stroke="#000" stroke-width="0.45"/>
<line x1="184" x2="185.5" y1="223.17" y2="223.17" stroke="#000" stroke-width="0.45"/>
<line x1="184" x2="185.5" y1="196.95" y2="196.95" stroke="#000" stroke-width="0.45"/>
<line x1="184" x2="185.5" y1="170.74" y2="170.74" stroke="#000" stroke-width="0.45"/>
<line x1="198.83" x2="198.83" y1="301.8" y2="303.3" stroke="#000" stroke-width="0.45"/>
<line x1="212.94" x2="212.94" y1="301.8" y2="303.3" stroke="#000" stroke-width="0.45"/>
<line x1="227.05" x2="227.05" y1="301.8" y2="303.3" stroke="#000" stroke-width="0.45"/>
<line x1="241.16" x2="241.16" y1="301.8" y2="303.3" stroke="#000" stroke-width="0.45"/>
<line x1="255.27" x2="255.27" y1="301.8" y2="303.3" stroke="#000" stroke-width="0.45"/>
<line x1="269.38" x2="269.38" y1="301.8" y2="303.3" stroke="#000" stroke-width="0.45"/>
<line x1="283.49" x2="283.49" y1="301.8" y2="303.3" stroke="#000" stroke-width="0.45"/>
<line x1="297.6" x2="297.6" y1="301.8" y2="303.3" stroke="#000" stroke-width="0.45"/>
<line x1="311.71" x2="311.71" y1="301.8" y2="303.3" stroke="#000" stroke-width="0.45"/>
<line x1="325.82" x2="325.82" y1="301.8" y2="303.3" stroke="#000" stroke-width="0.45"/>
<text x="262.32" y="164" font-size="5.04" text-anchor="middle" textLength="11.6" lengthAdjust="spacingAndGlyphs" transform="rotate(0.03 262.32 164)" font-weight="bold" stroke="#000" stroke-width="0.1" fill="#000">SSIM</text>
<rect x="276.43" y="166.22" width="61.52" height="14.35" rx="0.6" fill="#fff" fill-opacity="0.8" stroke="#bbb" stroke-opacity="0.9" stroke-width="0.5"/>
<rect x="277.53" y="168.02" width="6.2" height="2.1" fill="#1f77b4"/>
<rect x="277.53" y="172.47" width="6.2" height="2.1" fill="#ff7f0e"/>
<rect x="277.53" y="176.92" width="6.2" height="2.1" fill="#2ca02c"/>
</g>
<g>
<line x1="358.3" x2="511.95" y1="284.76" y2="284.76" stroke="#000" stroke-opacity="0.25" stroke-width="0.7"/>
<line x1="358.3" x2="511.95" y1="267.72" y2="267.72" stroke="#000" stroke-opacity="0.25" stroke-width="0.7"/>
<line x1="358.3" x2="511.95" y1="250.69" y2="250.69" stroke="#000" stroke-opacity="0.25" stroke-width="0.7"/>
<line x1="358.3" x2="511.95" y1="233.65" y2="233.65" stroke="#000" stroke-opacity="0.25" stroke-width="0.7"/>
<line x1="358.3" x2="511.95" y1="216.61" y2="216.61" stroke="#000" stroke-opacity="0.25" stroke-width="0.7"/>
<line x1="358.3" x2="511.95" y1="199.58" y2="199.58" stroke="#000" stroke-opacity="0.25" stroke-width="0.7"/>
<line x1="358.3" x2="511.95" y1="182.54" y2="182.54" stroke="#000" stroke-opacity="0.25" stroke-width="0.7"/>
<rect x="358.3" y="165.5" width="153.65" height="136.3" fill="none" stroke="#000" stroke-opacity="0.8" stroke-width="0.7"/>
<rect x="365.28" y="257.3" width="4.23" height="44.75" fill="#1f77b4"/>
<rect x="369.52" y="249.19" width="4.23" height="52.86" fill="#ff7f0e"/>
<rect x="373.75" y="230.75" width="4.23" height="71.3" fill="#2ca02c"/>
<rect x="379.39" y="228.1" width="4.23" height="73.95" fill="#1f77b4"/>
<rect x="383.63" y="232.8" width="4.23" height="69.25" fill="#ff7f0e"/>
<rect x="387.86" y="215.11" width="4.23" height="86.94" fill="#2ca02c"/>
<rect x="393.5" y="266.36" width="4.23" height="35.69" fill="#1f77b4"/>
<rect x="397.74" y="263.33" width="4.23" height="38.72" fill="#ff7f0e"/>
<rect x="401.97" y="241.01" width="4.23" height="61.04" fill="#2ca02c"/>
<rect x="407.61" y="236.48" width="4.23" height="65.57" fill="#1f77b4"/>
<rect x="411.84" y="236.07" width="4.23" height="65.98" fill="#ff7f0e"/>
<rect x="416.08" y="221.83" width="4.23" height="80.22" fill="#2ca02c"/>
<rect x="421.72" y="253" width="4.23" height="49.05" fill="#1f77b4"/>
<rect x="425.95" y="249.56" width="4.23" height="52.49" fill="#ff7f0e"/>
<rect x="430.19" y="232.39" width="4.23" height="69.66" fill="#2ca02c"/>
<rect x="435.83" y="236.21" width="4.23" height="65.84" fill="#1f77b4"/>
<rect x="440.06" y="245.2" width="4.23" height="56.85" fill="#ff7f0e"/>
<rect x="444.3" y="223.46" width="4.23" height="78.59" fill="#2ca02c"/>
<rect x="449.94" y="265.41" width="4.23" height="36.64" fill="#1f77b4"/>
<rect x="454.17" y="265.2" width="4.23" height="36.85" fill="#ff7f0e"/>
<rect x="458.41" y="242.61" width="4.23" height="59.44" fill="#2ca02c"/>
<rect x="464.05" y="228.13" width="4.23" height="73.92" fill="#1f77b4"/>
<rect x="468.28" y="225.88" width="4.23" height="76.17" fill="#ff7f0e"/>
<rect x="472.51" y="214.19" width="4.23" height="87.86" fill="#2ca02c"/>
<rect x="478.16" y="276.24" width="4.23" height="25.81" fill="#1f77b4"/>
<rect x="482.39" y="275.53" width="4.23" height="26.52" fill="#ff7f0e"/>
<rect x="486.62" y="250.59" width="4.23" height="51.46" fill="#2ca02c"/>
<rect x="492.27" y="247.04" width="4.23" height="55.01" fill="#1f77b4"/>
<rect x="496.5" y="242.88" width="4.23" height="59.17" fill="#ff7f0e"/>
<rect x="500.73" y="228.1" width="4.23" height="73.95" fill="#2ca02c"/>
<line x1="356.8" x2="358.3" y1="301.8" y2="301.8" stroke="#000" stroke-width="0.45"/>
<line x1="356.8" x2="358.3" y1="284.76" y2="284.76" stroke="#000" stroke-width="0.45"/>
<line x1="356.8" x2="358.3" y1="267.72" y2="267.72" stroke="#000" stroke-width="0.45"/>
<line x1="356.8" x2="358.3" y1="250.69" y2="250.69" stroke="#000" stroke-width="0.45"/>
<line x1="356.8" x2="358.3" y1="233.65" y2="233.65" stroke="#000" stroke-width="0.45"/>
<line x1="356.8" x2="358.3" y1="216.61" y2="216.61" stroke="#000" stroke-width="0.45"/>
<line x1="356.8" x2="358.3" y1="199.58" y2="199.58" stroke="#000" stroke-width="0.45"/>
<line x1="356.8" x2="358.3" y1="182.54" y2="182.54" stroke="#000" stroke-width="0.45"/>
<line x1="356.8" x2="358.3" y1="165.5" y2="165.5" stroke="#000" stroke-width="0.45"/>
<line x1="371.63" x2="371.63" y1="301.8" y2="303.3" stroke="#000" stroke-width="0.45"/>
<line x1="385.74" x2="385.74" y1="301.8" y2="303.3" stroke="#000" stroke-width="0.45"/>
<line x1="399.85" x2="399.85" y1="301.8" y2="303.3" stroke="#000" stroke-width="0.45"/>
<line x1="413.96" x2="413.96" y1="301.8" y2="303.3" stroke="#000" stroke-width="0.45"/>
<line x1="428.07" x2="428.07" y1="301.8" y2="303.3" stroke="#000" stroke-width="0.45"/>
<line x1="442.18" x2="442.18" y1="301.8" y2="303.3" stroke="#000" stroke-width="0.45"/>
<line x1="456.29" x2="456.29" y1="301.8" y2="303.3" stroke="#000" stroke-width="0.45"/>
<line x1="470.4" x2="470.4" y1="301.8" y2="303.3" stroke="#000" stroke-width="0.45"/>
<line x1="484.51" x2="484.51" y1="301.8" y2="303.3" stroke="#000" stroke-width="0.45"/>
<line x1="498.62" x2="498.62" y1="301.8" y2="303.3" stroke="#000" stroke-width="0.45"/>
<text x="435.12" y="164" font-size="5.04" text-anchor="middle" textLength="20.19" lengthAdjust="spacingAndGlyphs" transform="rotate(0.03 435.12 164)" font-weight="bold" stroke="#000" stroke-width="0.1" fill="#000">COS-SIM</text>
<rect x="449.23" y="166.22" width="61.52" height="14.35" rx="0.6" fill="#fff" fill-opacity="0.8" stroke="#bbb" stroke-opacity="0.9" stroke-width="0.5"/>
<rect x="450.33" y="168.02" width="6.2" height="2.1" fill="#1f77b4"/>
<rect x="450.33" y="172.47" width="6.2" height="2.1" fill="#ff7f0e"/>
<rect x="450.33" y="176.92" width="6.2" height="2.1" fill="#2ca02c"/>
</g>
<g>
<line x1="531" x2="684.65" y1="274.54" y2="274.54" stroke="#000" stroke-opacity="0.25" stroke-width="0.7"/>
<line x1="531" x2="684.65" y1="247.28" y2="247.28" stroke="#000" stroke-opacity="0.25" stroke-width="0.7"/>
<line x1="531" x2="684.65" y1="220.02" y2="220.02" stroke="#000" stroke-opacity="0.25" stroke-width="0.7"/>
<line x1="531" x2="684.65" y1="192.76" y2="192.76" stroke="#000" stroke-opacity="0.25" stroke-width="0.7"/>
<rect x="531" y="165.5" width="153.65" height="136.3" fill="none" stroke="#000" stroke-opacity="0.8" stroke-width="0.7"/>
<rect x="537.98" y="268.54" width="4.23" height="33.51" fill="#1f77b4"/>
<rect x="542.22" y="259" width="4.23" height="43.05" fill="#ff7f0e"/>
<rect x="546.45" y="228.88" width="4.23" height="73.17" fill="#2ca02c"/>
<rect x="552.09" y="240.74" width="4.23" height="61.31" fill="#1f77b4"/>
<rect x="556.33" y="250.55" width="4.23" height="51.5" fill="#ff7f0e"/>
<rect x="560.56" y="200.26" width="4.23" height="101.79" fill="#2ca02c"/>
<rect x="566.2" y="271.81" width="4.23" height="30.24" fill="#1f77b4"/>
<rect x="570.44" y="270.86" width="4.23" height="31.19" fill="#ff7f0e"/>
<rect x="574.67" y="239.65" width="4.23" height="62.4" fill="#2ca02c"/>
<rect x="580.31" y="252.46" width="4.23" height="49.59" fill="#1f77b4"/>
<rect x="584.54" y="265.68" width="4.23" height="36.37" fill="#ff7f0e"/>
<rect x="588.78" y="221.52" width="4.23" height="80.53" fill="#2ca02c"/>
<rect x="594.42" y="262.95" width="4.23" height="39.1" fill="#1f77b4"/>
<rect x="598.65" y="259.55" width="4.23" height="42.5" fill="#ff7f0e"/>
<rect x="602.89" y="231.74" width="4.23" height="70.31" fill="#2ca02c"/>
<rect x="608.53" y="258.05" width="4.23" height="44" fill="#1f77b4"/>
<rect x="612.76" y="273.59" width="4.23" height="28.46" fill="#ff7f0e"/>
<rect x="617" y="226.84" width="4.23" height="75.22" fill="#2ca02c"/>
<rect x="622.64" y="272.77" width="4.23" height="29.28" fill="#1f77b4"/>
<rect x="626.87" y="266.77" width="4.23" height="35.28" fill="#ff7f0e"/>
<rect x="631.11" y="243.33" width="4.23" height="58.72" fill="#2ca02c"/>
<rect x="636.75" y="245.37" width="4.23" height="56.68" fill="#1f77b4"/>
<rect x="640.98" y="238.97" width="4.23" height="63.08" fill="#ff7f0e"/>
<rect x="645.21" y="200.39" width="4.23" height="101.66" fill="#2ca02c"/>
<rect x="650.86" y="283.54" width="4.23" height="18.51" fill="#1f77b4"/>
<rect x="655.09" y="288.58" width="4.23" height="13.47" fill="#ff7f0e"/>
<rect x="659.32" y="258.18" width="4.23" height="43.87" fill="#2ca02c"/>
<rect x="664.97" y="264.18" width="4.23" height="37.87" fill="#1f77b4"/>
<rect x="669.2" y="260.36" width="4.23" height="41.69" fill="#ff7f0e"/>
<rect x="673.43" y="232.15" width="4.23" height="69.9" fill="#2ca02c"/>
<line x1="529.5" x2="531" y1="301.8" y2="301.8" stroke="#000" stroke-width="0.45"/>
<line x1="529.5" x2="531" y1="274.54" y2="274.54" stroke="#000" stroke-width="0.45"/>
<line x1="529.5" x2="531" y1="247.28" y2="247.28" stroke="#000" stroke-width="0.45"/>
<line x1="529.5" x2="531" y1="220.02" y2="220.02" stroke="#000" stroke-width="0.45"/>
<line x1="529.5" x2="531" y1="192.76" y2="192.76" stroke="#000" stroke-width="0.45"/>
<line x1="529.5" x2="531" y1="165.5" y2="165.5" stroke="#000" stroke-width="0.45"/>
<line x1="544.33" x2="544.33" y1="301.8" y2="303.3" stroke="#000" stroke-width="0.45"/>
<line x1="558.44" x2="558.44" y1="301.8" y2="303.3" stroke="#000" stroke-width="0.45"/>
<line x1="572.55" x2="572.55" y1="301.8" y2="303.3" stroke="#000" stroke-width="0.45"/>
<line x1="586.66" x2="586.66" y1="301.8" y2="303.3" stroke="#000" stroke-width="0.45"/>
<line x1="600.77" x2="600.77" y1="301.8" y2="303.3" stroke="#000" stroke-width="0.45"/>
<line x1="614.88" x2="614.88" y1="301.8" y2="303.3" stroke="#000" stroke-width="0.45"/>
<line x1="628.99" x2="628.99" y1="301.8" y2="303.3" stroke="#000" stroke-width="0.45"/>
<line x1="643.1" x2="643.1" y1="301.8" y2="303.3" stroke="#000" stroke-width="0.45"/>
<line x1="657.21" x2="657.21" y1="301.8" y2="303.3" stroke="#000" stroke-width="0.45"/>
<line x1="671.32" x2="671.32" y1="301.8" y2="303.3" stroke="#000" stroke-width="0.45"/>
<text x="607.83" y="164" font-size="5.04" text-anchor="middle" textLength="12.85" lengthAdjust="spacingAndGlyphs" transform="rotate(0.03 607.83 164)" font-weight="bold" stroke="#000" stroke-width="0.1" fill="#000">PSNR</text>
<rect x="621.93" y="166.22" width="61.52" height="14.35" rx="0.6" fill="#fff" fill-opacity="0.8" stroke="#bbb" stroke-opacity="0.9" stroke-width="0.5"/>
<rect x="623.03" y="168.02" width="6.2" height="2.1" fill="#1f77b4"/>
<rect x="623.03" y="172.47" width="6.2" height="2.1" fill="#ff7f0e"/>
<rect x="623.03" y="176.92" width="6.2" height="2.1" fill="#2ca02c"/>
</g>
<g>
<line x1="12.85" x2="166.5" y1="439.42" y2="439.42" stroke="#000" stroke-opacity="0.25" stroke-width="0.7"/>
<line x1="12.85" x2="166.5" y1="411.02" y2="411.02" stroke="#000" stroke-opacity="0.25" stroke-width="0.7"/>
<line x1="12.85" x2="166.5" y1="382.61" y2="382.61" stroke="#000" stroke-opacity="0.25" stroke-width="0.7"/>
<line x1="12.85" x2="166.5" y1="354.21" y2="354.21" stroke="#000" stroke-opacity="0.25" stroke-width="0.7"/>
<rect x="12.85" y="325.8" width="153.65" height="136.35" fill="none" stroke="#000" stroke-opacity="0.8" stroke-width="0.7"/>
<rect x="19.83" y="384.36" width="4.23" height="78.04" fill="#1f77b4"/>
<rect x="24.07" y="383.28" width="4.23" height="79.12" fill="#ff7f0e"/>
<rect x="28.3" y="425.09" width="4.23" height="37.31" fill="#2ca02c"/>
<rect x="33.94" y="389.61" width="4.23" height="72.79" fill="#1f77b4"/>
<rect x="38.18" y="380.21" width="4.23" height="82.19" fill="#ff7f0e"/>
<rect x="42.41" y="427.65" width="4.23" height="34.75" fill="#2ca02c"/>
<rect x="48.05" y="393.95" width="4.23" height="68.45" fill="#1f77b4"/>
<rect x="52.29" y="415.15" width="4.23" height="47.25" fill="#ff7f0e"/>
<rect x="56.52" y="427.54" width="4.23" height="34.86" fill="#2ca02c"/>
<rect x="62.16" y="379.46" width="4.23" height="82.94" fill="#1f77b4"/>
<rect x="66.39" y="387.61" width="4.23" height="74.79" fill="#ff7f0e"/>
<rect x="70.63" y="405.48" width="4.23" height="56.92" fill="#2ca02c"/>
<rect x="76.27" y="393.55" width="4.23" height="68.85" fill="#1f77b4"/>
<rect x="80.5" y="384.79" width="4.23" height="77.61" fill="#ff7f0e"/>
<rect x="84.74" y="431.8" width="4.23" height="30.6" fill="#2ca02c"/>
<rect x="90.38" y="379.11" width="4.23" height="83.29" fill="#1f77b4"/>
<rect x="94.61" y="381.33" width="4.23" height="81.07" fill="#ff7f0e"/>
<rect x="98.85" y="424.68" width="4.23" height="37.72" fill="#2ca02c"/>
<rect x="104.49" y="386.08" width="4.23" height="76.32" fill="#1f77b4"/>
<rect x="108.72" y="399.52" width="4.23" height="62.88" fill="#ff7f0e"/>
<rect x="112.96" y="425.57" width="4.23" height="36.83" fill="#2ca02c"/>
<rect x="118.6" y="383.9" width="4.23" height="78.5" fill="#1f77b4"/>
<rect x="122.83" y="370.15" width="4.23" height="92.25" fill="#ff7f0e"/>
<rect x="127.06" y="433.03" width="4.23" height="29.37" fill="#2ca02c"/>
<rect x="132.71" y="379.44" width="4.23" height="82.96" fill="#1f77b4"/>
<rect x="136.94" y="387.7" width="4.23" height="74.7" fill="#ff7f0e"/>
<rect x="141.17" y="427.1" width="4.23" height="35.3" fill="#2ca02c"/>
<rect x="146.82" y="379.94" width="4.23" height="82.46" fill="#1f77b4"/>
<rect x="151.05" y="389.47" width="4.23" height="72.93" fill="#ff7f0e"/>
<rect x="155.28" y="419.92" width="4.23" height="42.48" fill="#2ca02c"/>
<line x1="11.35" x2="12.85" y1="439.42" y2="439.42" stroke="#000" stroke-width="0.45"/>
<line x1="11.35" x2="12.85" y1="411.02" y2="411.02" stroke="#000" stroke-width="0.45"/>
<line x1="11.35" x2="12.85" y1="382.61" y2="382.61" stroke="#000" stroke-width="0.45"/>
<line x1="11.35" x2="12.85" y1="354.21" y2="354.21" stroke="#000" stroke-width="0.45"/>
<line x1="11.35" x2="12.85" y1="325.8" y2="325.8" stroke="#000" stroke-width="0.45"/>
<line x1="26.18" x2="26.18" y1="462.15" y2="463.65" stroke="#000" stroke-width="0.45"/>
<line x1="40.29" x2="40.29" y1="462.15" y2="463.65" stroke="#000" stroke-width="0.45"/>
<line x1="54.4" x2="54.4" y1="462.15" y2="463.65" stroke="#000" stroke-width="0.45"/>
<line x1="68.51" x2="68.51" y1="462.15" y2="463.65" stroke="#000" stroke-width="0.45"/>
<line x1="82.62" x2="82.62" y1="462.15" y2="463.65" stroke="#000" stroke-width="0.45"/>
<line x1="96.73" x2="96.73" y1="462.15" y2="463.65" stroke="#000" stroke-width="0.45"/>
<line x1="110.84" x2="110.84" y1="462.15" y2="463.65" stroke="#000" stroke-width="0.45"/>
<line x1="124.95" x2="124.95" y1="462.15" y2="463.65" stroke="#000" stroke-width="0.45"/>
<line x1="139.06" x2="139.06" y1="462.15" y2="463.65" stroke="#000" stroke-width="0.45"/>
<line x1="153.17" x2="153.17" y1="462.15" y2="463.65" stroke="#000" stroke-width="0.45"/>
<text x="89.67" y="324.05" font-size="5.04" text-anchor="middle" textLength="7.92" lengthAdjust="spacingAndGlyphs" transform="rotate(0.03 89.67 324.05)" font-weight="bold" stroke="#000" stroke-width="0.1" fill="#000">FID</text>
<rect x="103.78" y="326.52" width="61.52" height="14.35" rx="0.6" fill="#fff" fill-opacity="0.8" stroke="#bbb" stroke-opacity="0.9" stroke-width="0.5"/>
<rect x="104.88" y="328.32" width="6.2" height="2.1" fill="#1f77b4"/>
<rect x="104.88" y="332.77" width="6.2" height="2.1" fill="#ff7f0e"/>
<rect x="104.88" y="337.22" width="6.2" height="2.1" fill="#2ca02c"/>
</g>
<g>
<line x1="185.5" x2="339.15" y1="447" y2="447" stroke="#000" stroke-opacity="0.25" stroke-width="0.7"/>
<line x1="185.5" x2="339.15" y1="431.85" y2="431.85" stroke="#000" stroke-opacity="0.25" stroke-width="0.7"/>
<line x1="185.5" x2="339.15" y1="416.7" y2="416.7" stroke="#000" stroke-opacity="0.25" stroke-width="0.7"/>
<line x1="185.5" x2="339.15" y1="401.55" y2="401.55" stroke="#000" stroke-opacity="0.25" stroke-width="0.7"/>
<line x1="185.5" x2="339.15" y1="386.4" y2="386.4" stroke="#000" stroke-opacity="0.25" stroke-width="0.7"/>
<line x1="185.5" x2="339.15" y1="371.25" y2="371.25" stroke="#000" stroke-opacity="0.25" stroke-width="0.7"/>
<line x1="185.5" x2="339.15" y1="356.1" y2="356.1" stroke="#000" stroke-opacity="0.25" stroke-width="0.7"/>
<line x1="185.5" x2="339.15" y1="340.95" y2="340.95" stroke="#000" stroke-opacity="0.25" stroke-width="0.7"/>
<rect x="185.5" y="325.8" width="153.65" height="136.35" fill="none" stroke="#000" stroke-opacity="0.8" stroke-width="0.7"/>
<rect x="192.48" y="405.28" width="4.23" height="57.12" fill="#1f77b4"/>
<rect x="196.72" y="403.73" width="4.23" height="58.67" fill="#ff7f0e"/>
<rect x="200.95" y="387.34" width="4.23" height="75.06" fill="#2ca02c"/>
<rect x="206.59" y="419.03" width="4.23" height="43.37" fill="#1f77b4"/>
<rect x="210.83" y="421.34" width="4.23" height="41.06" fill="#ff7f0e"/>
<rect x="215.06" y="404.73" width="4.23" height="57.67" fill="#2ca02c"/>
<rect x="220.7" y="410.64" width="4.23" height="51.76" fill="#1f77b4"/>
<rect x="224.94" y="397.61" width="4.23" height="64.79" fill="#ff7f0e"/>
<rect x="229.17" y="393.16" width="4.23" height="69.24" fill="#2ca02c"/>
<rect x="234.81" y="400.79" width="4.23" height="61.61" fill="#1f77b4"/>
<rect x="239.04" y="392.25" width="4.23" height="70.15" fill="#ff7f0e"/>
<rect x="243.28" y="373.4" width="4.23" height="89" fill="#2ca02c"/>
<rect x="248.92" y="404.94" width="4.23" height="57.46" fill="#1f77b4"/>
<rect x="253.15" y="424.15" width="4.23" height="38.25" fill="#ff7f0e"/>
<rect x="257.39" y="395.55" width="4.23" height="66.85" fill="#2ca02c"/>
<rect x="263.03" y="401.37" width="4.23" height="61.03" fill="#1f77b4"/>
<rect x="267.26" y="397.28" width="4.23" height="65.12" fill="#ff7f0e"/>
<rect x="271.5" y="385.25" width="4.23" height="77.15" fill="#2ca02c"/>
<rect x="277.14" y="404.73" width="4.23" height="57.67" fill="#1f77b4"/>
<rect x="281.37" y="403.97" width="4.23" height="58.43" fill="#ff7f0e"/>
<rect x="285.61" y="387.28" width="4.23" height="75.12" fill="#2ca02c"/>
<rect x="291.25" y="422.12" width="4.23" height="40.28" fill="#1f77b4"/>
<rect x="295.48" y="418.67" width="4.23" height="43.73" fill="#ff7f0e"/>
<rect x="299.71" y="397.13" width="4.23" height="65.27" fill="#2ca02c"/>
<rect x="305.36" y="418" width="4.23" height="44.4" fill="#1f77b4"/>
<rect x="309.59" y="403.34" width="4.23" height="59.06" fill="#ff7f0e"/>
<rect x="313.82" y="386.76" width="4.23" height="75.64" fill="#2ca02c"/>
<rect x="319.47" y="419.03" width="4.23" height="43.37" fill="#1f77b4"/>
<rect x="323.7" y="413.12" width="4.23" height="49.28" fill="#ff7f0e"/>
<rect x="327.93" y="398.13" width="4.23" height="64.27" fill="#2ca02c"/>
<line x1="184" x2="185.5" y1="462.15" y2="462.15" stroke="#000" stroke-width="0.45"/>
<line x1="184" x2="185.5" y1="447" y2="447" stroke="#000" stroke-width="0.45"/>
<line x1="184" x2="185.5" y1="431.85" y2="431.85" stroke="#000" stroke-width="0.45"/>
<line x1="184" x2="185.5" y1="416.7" y2="416.7" stroke="#000" stroke-width="0.45"/>
<line x1="184" x2="185.5" y1="401.55" y2="401.55" stroke="#000" stroke-width="0.45"/>
<line x1="184" x2="185.5" y1="386.4" y2="386.4" stroke="#000" stroke-width="0.45"/>
<line x1="184" x2="185.5" y1="371.25" y2="371.25" stroke="#000" stroke-width="0.45"/>
<line x1="184" x2="185.5" y1="356.1" y2="356.1" stroke="#000" stroke-width="0.45"/>
<line x1="184" x2="185.5" y1="340.95" y2="340.95" stroke="#000" stroke-width="0.45"/>
<line x1="184" x2="185.5" y1="325.8" y2="325.8" stroke="#000" stroke-width="0.45"/>
<line x1="198.83" x2="198.83" y1="462.15" y2="463.65" stroke="#000" stroke-width="0.45"/>
<line x1="212.94" x2="212.94" y1="462.15" y2="463.65" stroke="#000" stroke-width="0.45"/>
<line x1="227.05" x2="227.05" y1="462.15" y2="463.65" stroke="#000" stroke-width="0.45"/>
<line x1="241.16" x2="241.16" y1="462.15" y2="463.65" stroke="#000" stroke-width="0.45"/>
<line x1="255.27" x2="255.27" y1="462.15" y2="463.65" stroke="#000" stroke-width="0.45"/>
<line x1="269.38" x2="269.38" y1="462.15" y2="463.65" stroke="#000" stroke-width="0.45"/>
<line x1="283.49" x2="283.49" y1="462.15" y2="463.65" stroke="#000" stroke-width="0.45"/>
<line x1="297.6" x2="297.6" y1="462.15" y2="463.65" stroke="#000" stroke-width="0.45"/>
<line x1="311.71" x2="311.71" y1="462.15" y2="463.65" stroke="#000" stroke-width="0.45"/>
<line x1="325.82" x2="325.82" y1="462.15" y2="463.65" stroke="#000" stroke-width="0.45"/>
<text x="262.32" y="324.05" font-size="5.04" text-anchor="middle" textLength="11.6" lengthAdjust="spacingAndGlyphs" transform="rotate(0.03 262.32 324.05)" font-weight="bold" stroke="#000" stroke-width="0.1" fill="#000">SSIM</text>
<rect x="276.43" y="326.52" width="61.52" height="14.35" rx="0.6" fill="#fff" fill-opacity="0.8" stroke="#bbb" stroke-opacity="0.9" stroke-width="0.5"/>
<rect x="277.53" y="328.32" width="6.2" height="2.1" fill="#1f77b4"/>
<rect x="277.53" y="332.77" width="6.2" height="2.1" fill="#ff7f0e"/>
<rect x="277.53" y="337.22" width="6.2" height="2.1" fill="#2ca02c"/>
</g>
<g>
<line x1="358.3" x2="511.95" y1="446.66" y2="446.66" stroke="#000" stroke-opacity="0.25" stroke-width="0.7"/>
<line x1="358.3" x2="511.95" y1="431.16" y2="431.16" stroke="#000" stroke-opacity="0.25" stroke-width="0.7"/>
<line x1="358.3" x2="511.95" y1="415.67" y2="415.67" stroke="#000" stroke-opacity="0.25" stroke-width="0.7"/>
<line x1="358.3" x2="511.95" y1="400.17" y2="400.17" stroke="#000" stroke-opacity="0.25" stroke-width="0.7"/>
<line x1="358.3" x2="511.95" y1="384.68" y2="384.68" stroke="#000" stroke-opacity="0.25" stroke-width="0.7"/>
<line x1="358.3" x2="511.95" y1="369.18" y2="369.18" stroke="#000" stroke-opacity="0.25" stroke-width="0.7"/>
<line x1="358.3" x2="511.95" y1="353.69" y2="353.69" stroke="#000" stroke-opacity="0.25" stroke-width="0.7"/>
<line x1="358.3" x2="511.95" y1="338.2" y2="338.2" stroke="#000" stroke-opacity="0.25" stroke-width="0.7"/>
<rect x="358.3" y="325.8" width="153.65" height="136.35" fill="none" stroke="#000" stroke-opacity="0.8" stroke-width="0.7"/>
<rect x="365.28" y="417.09" width="4.23" height="45.31" fill="#1f77b4"/>
<rect x="369.52" y="410.96" width="4.23" height="51.44" fill="#ff7f0e"/>
<rect x="373.75" y="391.31" width="4.23" height="71.09" fill="#2ca02c"/>
<rect x="379.39" y="421.31" width="4.23" height="41.09" fill="#1f77b4"/>
<rect x="383.63" y="420.69" width="4.23" height="41.71" fill="#ff7f0e"/>
<rect x="387.86" y="398.13" width="4.23" height="64.27" fill="#2ca02c"/>
<rect x="393.5" y="414.74" width="4.23" height="47.66" fill="#1f77b4"/>
<rect x="397.74" y="396.52" width="4.23" height="65.88" fill="#ff7f0e"/>
<rect x="401.97" y="393.48" width="4.23" height="68.92" fill="#2ca02c"/>
<rect x="407.61" y="417.4" width="4.23" height="45" fill="#1f77b4"/>
<rect x="411.84" y="408.85" width="4.23" height="53.55" fill="#ff7f0e"/>
<rect x="416.08" y="390.13" width="4.23" height="72.27" fill="#2ca02c"/>
<rect x="421.72" y="411.82" width="4.23" height="50.58" fill="#1f77b4"/>
<rect x="425.95" y="419.63" width="4.23" height="42.77" fill="#ff7f0e"/>
<rect x="430.19" y="390.57" width="4.23" height="71.83" fill="#2ca02c"/>
<rect x="435.83" y="418.08" width="4.23" height="44.32" fill="#1f77b4"/>
<rect x="440.06" y="407.61" width="4.23" height="54.79" fill="#ff7f0e"/>
<rect x="444.3" y="392.74" width="4.23" height="69.66" fill="#2ca02c"/>
<rect x="449.94" y="414.49" width="4.23" height="47.91" fill="#1f77b4"/>
<rect x="454.17" y="405.25" width="4.23" height="57.15" fill="#ff7f0e"/>
<rect x="458.41" y="389.33" width="4.23" height="73.07" fill="#2ca02c"/>
<rect x="464.05" y="429.55" width="4.23" height="32.85" fill="#1f77b4"/>
<rect x="468.28" y="425.4" width="4.23" height="37" fill="#ff7f0e"/>
<rect x="472.51" y="397.69" width="4.23" height="64.71" fill="#2ca02c"/>
<rect x="478.16" y="424.03" width="4.23" height="38.37" fill="#1f77b4"/>
<rect x="482.39" y="408.97" width="4.23" height="53.43" fill="#ff7f0e"/>
<rect x="486.62" y="390.44" width="4.23" height="71.96" fill="#2ca02c"/>
<rect x="492.27" y="430.79" width="4.23" height="31.61" fill="#1f77b4"/>
<rect x="496.5" y="421.31" width="4.23" height="41.09" fill="#ff7f0e"/>
<rect x="500.73" y="401.97" width="4.23" height="60.43" fill="#2ca02c"/>
<line x1="356.8" x2="358.3" y1="462.15" y2="462.15" stroke="#000" stroke-width="0.45"/>
<line x1="356.8" x2="358.3" y1="446.66" y2="446.66" stroke="#000" stroke-width="0.45"/>
<line x1="356.8" x2="358.3" y1="431.16" y2="431.16" stroke="#000" stroke-width="0.45"/>
<line x1="356.8" x2="358.3" y1="415.67" y2="415.67" stroke="#000" stroke-width="0.45"/>
<line x1="356.8" x2="358.3" y1="400.17" y2="400.17" stroke="#000" stroke-width="0.45"/>
<line x1="356.8" x2="358.3" y1="384.68" y2="384.68" stroke="#000" stroke-width="0.45"/>
<line x1="356.8" x2="358.3" y1="369.18" y2="369.18" stroke="#000" stroke-width="0.45"/>
<line x1="356.8" x2="358.3" y1="353.69" y2="353.69" stroke="#000" stroke-width="0.45"/>
<line x1="356.8" x2="358.3" y1="338.2" y2="338.2" stroke="#000" stroke-width="0.45"/>
<line x1="371.63" x2="371.63" y1="462.15" y2="463.65" stroke="#000" stroke-width="0.45"/>
<line x1="385.74" x2="385.74" y1="462.15" y2="463.65" stroke="#000" stroke-width="0.45"/>
<line x1="399.85" x2="399.85" y1="462.15" y2="463.65" stroke="#000" stroke-width="0.45"/>
<line x1="413.96" x2="413.96" y1="462.15" y2="463.65" stroke="#000" stroke-width="0.45"/>
<line x1="428.07" x2="428.07" y1="462.15" y2="463.65" stroke="#000" stroke-width="0.45"/>
<line x1="442.18" x2="442.18" y1="462.15" y2="463.65" stroke="#000" stroke-width="0.45"/>
<line x1="456.29" x2="456.29" y1="462.15" y2="463.65" stroke="#000" stroke-width="0.45"/>
<line x1="470.4" x2="470.4" y1="462.15" y2="463.65" stroke="#000" stroke-width="0.45"/>
<line x1="484.51" x2="484.51" y1="462.15" y2="463.65" stroke="#000" stroke-width="0.45"/>
<line x1="498.62" x2="498.62" y1="462.15" y2="463.65" stroke="#000" stroke-width="0.45"/>
<text x="435.12" y="324.05" font-size="5.04" text-anchor="middle" textLength="20.19" lengthAdjust="spacingAndGlyphs" transform="rotate(0.03 435.12 324.05)" font-weight="bold" stroke="#000" stroke-width="0.1" fill="#000">COS-SIM</text>
<rect x="449.23" y="326.52" width="61.52" height="14.35" rx="0.6" fill="#fff" fill-opacity="0.8" stroke="#bbb" stroke-opacity="0.9" stroke-width="0.5"/>
<rect x="450.33" y="328.32" width="6.2" height="2.1" fill="#1f77b4"/>
<rect x="450.33" y="332.77" width="6.2" height="2.1" fill="#ff7f0e"/>
<rect x="450.33" y="337.22" width="6.2" height="2.1" fill="#2ca02c"/>
</g>
<g>
<line x1="531" x2="684.65" y1="441.17" y2="441.17" stroke="#000" stroke-opacity="0.25" stroke-width="0.7"/>
<line x1="531" x2="684.65" y1="420.2" y2="420.2" stroke="#000" stroke-opacity="0.25" stroke-width="0.7"/>
<line x1="531" x2="684.65" y1="399.22" y2="399.22" stroke="#000" stroke-opacity="0.25" stroke-width="0.7"/>
<line x1="531" x2="684.65" y1="378.24" y2="378.24" stroke="#000" stroke-opacity="0.25" stroke-width="0.7"/>
<line x1="531" x2="684.65" y1="357.27" y2="357.27" stroke="#000" stroke-opacity="0.25" stroke-width="0.7"/>
<line x1="531" x2="684.65" y1="336.29" y2="336.29" stroke="#000" stroke-opacity="0.25" stroke-width="0.7"/>
<rect x="531" y="325.8" width="153.65" height="136.35" fill="none" stroke="#000" stroke-opacity="0.8" stroke-width="0.7"/>
<rect x="537.98" y="416.63" width="4.23" height="45.77" fill="#1f77b4"/>
<rect x="542.22" y="409.71" width="4.23" height="52.69" fill="#ff7f0e"/>
<rect x="546.45" y="379.5" width="4.23" height="82.9" fill="#2ca02c"/>
<rect x="552.09" y="423.55" width="4.23" height="38.85" fill="#1f77b4"/>
<rect x="556.33" y="425.65" width="4.23" height="36.75" fill="#ff7f0e"/>
<rect x="560.56" y="393.35" width="4.23" height="69.05" fill="#2ca02c"/>
<rect x="566.2" y="414.11" width="4.23" height="48.29" fill="#1f77b4"/>
<rect x="570.44" y="392.72" width="4.23" height="69.68" fill="#ff7f0e"/>
<rect x="574.67" y="384.95" width="4.23" height="77.45" fill="#2ca02c"/>
<rect x="580.31" y="411.81" width="4.23" height="50.59" fill="#1f77b4"/>
<rect x="584.54" y="398.38" width="4.23" height="64.02" fill="#ff7f0e"/>
<rect x="588.78" y="372.16" width="4.23" height="90.24" fill="#2ca02c"/>
<rect x="594.42" y="412.85" width="4.23" height="49.55" fill="#1f77b4"/>
<rect x="598.65" y="420.2" width="4.23" height="42.2" fill="#ff7f0e"/>
<rect x="602.89" y="381.18" width="4.23" height="81.22" fill="#2ca02c"/>
<rect x="608.53" y="416.21" width="4.23" height="46.19" fill="#1f77b4"/>
<rect x="612.76" y="406.56" width="4.23" height="55.84" fill="#ff7f0e"/>
<rect x="617" y="380.13" width="4.23" height="82.27" fill="#2ca02c"/>
<rect x="622.64" y="415.16" width="4.23" height="47.24" fill="#1f77b4"/>
<rect x="626.87" y="401.11" width="4.23" height="61.29" fill="#ff7f0e"/>
<rect x="631.11" y="378.24" width="4.23" height="84.16" fill="#2ca02c"/>
<rect x="636.75" y="431.31" width="4.23" height="31.09" fill="#1f77b4"/>
<rect x="640.98" y="432.36" width="4.23" height="30.04" fill="#ff7f0e"/>
<rect x="645.21" y="391.46" width="4.23" height="70.94" fill="#2ca02c"/>
<rect x="650.86" y="425.86" width="4.23" height="36.54" fill="#1f77b4"/>
<rect x="655.09" y="409.71" width="4.23" height="52.69" fill="#ff7f0e"/>
<rect x="659.32" y="380.34" width="4.23" height="82.06" fill="#2ca02c"/>
<rect x="664.97" y="430.47" width="4.23" height="31.93" fill="#1f77b4"/>
<rect x="669.2" y="417.89" width="4.23" height="44.51" fill="#ff7f0e"/>
<rect x="673.43" y="396.49" width="4.23" height="65.91" fill="#2ca02c"/>
<line x1="529.5" x2="531" y1="462.15" y2="462.15" stroke="#000" stroke-width="0.45"/>
<line x1="529.5" x2="531" y1="441.17" y2="441.17" stroke="#000" stroke-width="0.45"/>
<line x1="529.5" x2="531" y1="420.2" y2="420.2" stroke="#000" stroke-width="0.45"/>
<line x1="529.5" x2="531" y1="399.22" y2="399.22" stroke="#000" stroke-width="0.45"/>
<line x1="529.5" x2="531" y1="378.24" y2="378.24" stroke="#000" stroke-width="0.45"/>
<line x1="529.5" x2="531" y1="357.27" y2="357.27" stroke="#000" stroke-width="0.45"/>
<line x1="529.5" x2="531" y1="336.29" y2="336.29" stroke="#000" stroke-width="0.45"/>
<line x1="544.33" x2="544.33" y1="462.15" y2="463.65" stroke="#000" stroke-width="0.45"/>
<line x1="558.44" x2="558.44" y1="462.15" y2="463.65" stroke="#000" stroke-width="0.45"/>
<line x1="572.55" x2="572.55" y1="462.15" y2="463.65" stroke="#000" stroke-width="0.45"/>
<line x1="586.66" x2="586.66" y1="462.15" y2="463.65" stroke="#000" stroke-width="0.45"/>
<line x1="600.77" x2="600.77" y1="462.15" y2="463.65" stroke="#000" stroke-width="0.45"/>
<line x1="614.88" x2="614.88" y1="462.15" y2="463.65" stroke="#000" stroke-width="0.45"/>
<line x1="628.99" x2="628.99" y1="462.15" y2="463.65" stroke="#000" stroke-width="0.45"/>
<line x1="643.1" x2="643.1" y1="462.15" y2="463.65" stroke="#000" stroke-width="0.45"/>
<line x1="657.21" x2="657.21" y1="462.15" y2="463.65" stroke="#000" stroke-width="0.45"/>
<line x1="671.32" x2="671.32" y1="462.15" y2="463.65" stroke="#000" stroke-width="0.45"/>
<text x="607.83" y="324.05" font-size="5.04" text-anchor="middle" textLength="12.85" lengthAdjust="spacingAndGlyphs" transform="rotate(0.03 607.83 324.05)" font-weight="bold" stroke="#000" stroke-width="0.1" fill="#000">PSNR</text>
<rect x="621.93" y="326.52" width="61.52" height="14.35" rx="0.6" fill="#fff" fill-opacity="0.8" stroke="#bbb" stroke-opacity="0.9" stroke-width="0.5"/>
<rect x="623.03" y="328.32" width="6.2" height="2.1" fill="#1f77b4"/>
<rect x="623.03" y="332.77" width="6.2" height="2.1" fill="#ff7f0e"/>
<rect x="623.03" y="337.22" width="6.2" height="2.1" fill="#2ca02c"/>
</g>
<g filter="url(#tb)" stroke="#3a3a3a" stroke-width="0.06">
<text x="23.04" y="59.68" font-size="3.02" text-anchor="start" textLength="9.27" lengthAdjust="spacingAndGlyphs" transform="rotate(-90 23.04 59.68)" fill="#3a3a3a">367.43</text>
<text x="27.27" y="53.39" font-size="3.02" text-anchor="start" textLength="9.27" lengthAdjust="spacingAndGlyphs" transform="rotate(-90 27.27 53.39)" fill="#3a3a3a">388.16</text>
<text x="31.5" y="93.64" font-size="3.02" text-anchor="start" textLength="9.27" lengthAdjust="spacingAndGlyphs" transform="rotate(-90 31.5 93.64)" fill="#3a3a3a">255.40</text>
<text x="37.15" y="94.17" font-size="3.02" text-anchor="start" textLength="9.27" lengthAdjust="spacingAndGlyphs" transform="rotate(-90 37.15 94.17)" fill="#3a3a3a">253.65</text>
<text x="41.38" y="93.72" font-size="3.02" text-anchor="start" textLength="9.27" lengthAdjust="spacingAndGlyphs" transform="rotate(-90 41.38 93.72)" fill="#3a3a3a">255.13</text>
<text x="45.61" y="125.49" font-size="3.02" text-anchor="start" textLength="9.27" lengthAdjust="spacingAndGlyphs" transform="rotate(-90 45.61 125.49)" fill="#3a3a3a">150.33</text>
<text x="51.26" y="68.71" font-size="3.02" text-anchor="start" textLength="9.27" lengthAdjust="spacingAndGlyphs" transform="rotate(-90 51.26 68.71)" fill="#3a3a3a">337.65</text>
<text x="55.49" y="75.34" font-size="3.02" text-anchor="start" textLength="9.27" lengthAdjust="spacingAndGlyphs" transform="rotate(-90 55.49 75.34)" fill="#3a3a3a">315.76</text>
<text x="59.72" y="106.16" font-size="3.02" text-anchor="start" textLength="9.27" lengthAdjust="spacingAndGlyphs" transform="rotate(-90 59.72 106.16)" fill="#3a3a3a">214.10</text>
<text x="65.37" y="72.29" font-size="3.02" text-anchor="start" textLength="9.27" lengthAdjust="spacingAndGlyphs" transform="rotate(-90 65.37 72.29)" fill="#3a3a3a">325.81</text>
<text x="69.6" y="77.62" font-size="3.02" text-anchor="start" textLength="9.27" lengthAdjust="spacingAndGlyphs" transform="rotate(-90 69.6 77.62)" fill="#3a3a3a">308.23</text>
<text x="73.83" y="107.07" font-size="3.02" text-anchor="start" textLength="9.27" lengthAdjust="spacingAndGlyphs" transform="rotate(-90 73.83 107.07)" fill="#3a3a3a">211.10</text>
<text x="79.48" y="80.63" font-size="3.02" text-anchor="start" textLength="9.27" lengthAdjust="spacingAndGlyphs" transform="rotate(-90 79.48 80.63)" fill="#3a3a3a">298.33</text>
<text x="83.71" y="113.12" font-size="3.02" text-anchor="start" textLength="9.27" lengthAdjust="spacingAndGlyphs" transform="rotate(-90 83.71 113.12)" fill="#3a3a3a">191.15</text>
<text x="87.94" y="116.04" font-size="3.02" text-anchor="start" textLength="9.27" lengthAdjust="spacingAndGlyphs" transform="rotate(-90 87.94 116.04)" fill="#3a3a3a">181.50</text>
<text x="93.58" y="63.74" font-size="3.02" text-anchor="start" textLength="9.27" lengthAdjust="spacingAndGlyphs" transform="rotate(-90 93.58 63.74)" fill="#3a3a3a">354.03</text>
<text x="97.82" y="98.26" font-size="3.02" text-anchor="start" textLength="9.27" lengthAdjust="spacingAndGlyphs" transform="rotate(-90 97.82 98.26)" fill="#3a3a3a">240.15</text>
<text x="102.05" y="112.01" font-size="3.02" text-anchor="start" textLength="9.27" lengthAdjust="spacingAndGlyphs" transform="rotate(-90 102.05 112.01)" fill="#3a3a3a">194.81</text>
<text x="107.69" y="71.67" font-size="3.02" text-anchor="start" textLength="9.27" lengthAdjust="spacingAndGlyphs" transform="rotate(-90 107.69 71.67)" fill="#3a3a3a">327.86</text>
<text x="111.93" y="54.91" font-size="3.02" text-anchor="start" textLength="9.27" lengthAdjust="spacingAndGlyphs" transform="rotate(-90 111.93 54.91)" fill="#3a3a3a">383.17</text>
<text x="116.16" y="108.19" font-size="3.02" text-anchor="start" textLength="9.27" lengthAdjust="spacingAndGlyphs" transform="rotate(-90 116.16 108.19)" fill="#3a3a3a">207.42</text>
<text x="121.8" y="83.38" font-size="3.02" text-anchor="start" textLength="9.27" lengthAdjust="spacingAndGlyphs" transform="rotate(-90 121.8 83.38)" fill="#3a3a3a">289.24</text>
<text x="126.04" y="106.38" font-size="3.02" text-anchor="start" textLength="9.27" lengthAdjust="spacingAndGlyphs" transform="rotate(-90 126.04 106.38)" fill="#3a3a3a">213.36</text>
<text x="130.27" y="115.06" font-size="3.02" text-anchor="start" textLength="9.27" lengthAdjust="spacingAndGlyphs" transform="rotate(-90 130.27 115.06)" fill="#3a3a3a">184.75</text>
<text x="135.91" y="65.44" font-size="3.02" text-anchor="start" textLength="9.27" lengthAdjust="spacingAndGlyphs" transform="rotate(-90 135.91 65.44)" fill="#3a3a3a">348.41</text>
<text x="140.15" y="54.98" font-size="3.02" text-anchor="start" textLength="9.27" lengthAdjust="spacingAndGlyphs" transform="rotate(-90 140.15 54.98)" fill="#3a3a3a">382.92</text>
<text x="144.38" y="107.37" font-size="3.02" text-anchor="start" textLength="9.27" lengthAdjust="spacingAndGlyphs" transform="rotate(-90 144.38 107.37)" fill="#3a3a3a">210.10</text>
<text x="150.02" y="78.68" font-size="3.02" text-anchor="start" textLength="9.27" lengthAdjust="spacingAndGlyphs" transform="rotate(-90 150.02 78.68)" fill="#3a3a3a">304.76</text>
<text x="154.25" y="46.91" font-size="3.02" text-anchor="start" textLength="9.27" lengthAdjust="spacingAndGlyphs" transform="rotate(-90 154.25 46.91)" fill="#3a3a3a">409.53</text>
<text x="158.49" y="113.12" font-size="3.02" text-anchor="start" textLength="9.27" lengthAdjust="spacingAndGlyphs" transform="rotate(-90 158.49 113.12)" fill="#3a3a3a">191.13</text>
<text x="195.69" y="77.8" font-size="3.02" text-anchor="start" textLength="9.27" lengthAdjust="spacingAndGlyphs" transform="rotate(-90 195.69 77.8)" fill="#3a3a3a">0.2615</text>
<text x="199.92" y="72.77" font-size="3.02" text-anchor="start" textLength="9.27" lengthAdjust="spacingAndGlyphs" transform="rotate(-90 199.92 72.77)" fill="#3a3a3a">0.2744</text>
<text x="204.15" y="47.75" font-size="3.02" text-anchor="start" textLength="9.27" lengthAdjust="spacingAndGlyphs" transform="rotate(-90 204.15 47.75)" fill="#3a3a3a">0.3386</text>
<text x="209.8" y="40.42" font-size="3.02" text-anchor="start" textLength="9.27" lengthAdjust="spacingAndGlyphs" transform="rotate(-90 209.8 40.42)" fill="#3a3a3a">0.3574</text>
<text x="214.03" y="101.38" font-size="3.02" text-anchor="start" textLength="9.27" lengthAdjust="spacingAndGlyphs" transform="rotate(-90 214.03 101.38)" fill="#3a3a3a">0.2010</text>
<text x="218.26" y="51.22" font-size="3.02" text-anchor="start" textLength="9.27" lengthAdjust="spacingAndGlyphs" transform="rotate(-90 218.26 51.22)" fill="#3a3a3a">0.3297</text>
<text x="223.91" y="100.56" font-size="3.02" text-anchor="start" textLength="9.27" lengthAdjust="spacingAndGlyphs" transform="rotate(-90 223.91 100.56)" fill="#3a3a3a">0.2031</text>
<text x="228.14" y="100.92" font-size="3.02" text-anchor="start" textLength="9.27" lengthAdjust="spacingAndGlyphs" transform="rotate(-90 228.14 100.92)" fill="#3a3a3a">0.2022</text>
<text x="232.37" y="87.16" font-size="3.02" text-anchor="start" textLength="9.27" lengthAdjust="spacingAndGlyphs" transform="rotate(-90 232.37 87.16)" fill="#3a3a3a">0.2375</text>
<text x="238.02" y="86.14" font-size="3.02" text-anchor="start" textLength="9.27" lengthAdjust="spacingAndGlyphs" transform="rotate(-90 238.02 86.14)" fill="#3a3a3a">0.2401</text>
<text x="242.25" y="89.77" font-size="3.02" text-anchor="start" textLength="9.27" lengthAdjust="spacingAndGlyphs" transform="rotate(-90 242.25 89.77)" fill="#3a3a3a">0.2308</text>
<text x="246.48" y="68.06" font-size="3.02" text-anchor="start" textLength="9.27" lengthAdjust="spacingAndGlyphs" transform="rotate(-90 246.48 68.06)" fill="#3a3a3a">0.2865</text>
<text x="252.13" y="111.36" font-size="3.02" text-anchor="start" textLength="9.27" lengthAdjust="spacingAndGlyphs" transform="rotate(-90 252.13 111.36)" fill="#3a3a3a">0.1754</text>
<text x="256.36" y="98.5" font-size="3.02" text-anchor="start" textLength="9.27" lengthAdjust="spacingAndGlyphs" transform="rotate(-90 256.36 98.5)" fill="#3a3a3a">0.2084</text>
<text x="260.59" y="91.79" font-size="3.02" text-anchor="start" textLength="9.27" lengthAdjust="spacingAndGlyphs" transform="rotate(-90 260.59 91.79)" fill="#3a3a3a">0.2256</text>
<text x="266.23" y="109.33" font-size="3.02" text-anchor="start" textLength="9.27" lengthAdjust="spacingAndGlyphs" transform="rotate(-90 266.23 109.33)" fill="#3a3a3a">0.1806</text>
<text x="270.47" y="105.79" font-size="3.02" text-anchor="start" textLength="9.27" lengthAdjust="spacingAndGlyphs" transform="rotate(-90 270.47 105.79)" fill="#3a3a3a">0.1897</text>
<text x="274.7" y="84.66" font-size="3.02" text-anchor="start" textLength="9.27" lengthAdjust="spacingAndGlyphs" transform="rotate(-90 274.7 84.66)" fill="#3a3a3a">0.2439</text>
<text x="280.34" y="80.69" font-size="3.02" text-anchor="start" textLength="9.27" lengthAdjust="spacingAndGlyphs" transform="rotate(-90 280.34 80.69)" fill="#3a3a3a">0.2541</text>
<text x="284.58" y="102.75" font-size="3.02" text-anchor="start" textLength="9.27" lengthAdjust="spacingAndGlyphs" transform="rotate(-90 284.58 102.75)" fill="#3a3a3a">0.1975</text>
<text x="288.81" y="63.77" font-size="3.02" text-anchor="start" textLength="9.27" lengthAdjust="spacingAndGlyphs" transform="rotate(-90 288.81 63.77)" fill="#3a3a3a">0.2975</text>
<text x="294.45" y="68.84" font-size="3.02" text-anchor="start" textLength="9.27" lengthAdjust="spacingAndGlyphs" transform="rotate(-90 294.45 68.84)" fill="#3a3a3a">0.2845</text>
<text x="298.69" y="70.98" font-size="3.02" text-anchor="start" textLength="9.27" lengthAdjust="spacingAndGlyphs" transform="rotate(-90 298.69 70.98)" fill="#3a3a3a">0.2790</text>
<text x="302.92" y="63.85" font-size="3.02" text-anchor="start" textLength="9.27" lengthAdjust="spacingAndGlyphs" transform="rotate(-90 302.92 63.85)" fill="#3a3a3a">0.2973</text>
<text x="308.56" y="98.89" font-size="3.02" text-anchor="start" textLength="9.27" lengthAdjust="spacingAndGlyphs" transform="rotate(-90 308.56 98.89)" fill="#3a3a3a">0.2074</text>
<text x="312.8" y="99.75" font-size="3.02" text-anchor="start" textLength="9.27" lengthAdjust="spacingAndGlyphs" transform="rotate(-90 312.8 99.75)" fill="#3a3a3a">0.2052</text>
<text x="317.03" y="74.61" font-size="3.02" text-anchor="start" textLength="9.27" lengthAdjust="spacingAndGlyphs" transform="rotate(-90 317.03 74.61)" fill="#3a3a3a">0.2697</text>
<text x="322.67" y="80.14" font-size="3.02" text-anchor="start" textLength="9.27" lengthAdjust="spacingAndGlyphs" transform="rotate(-90 322.67 80.14)" fill="#3a3a3a">0.2555</text>
<text x="326.9" y="112.45" font-size="3.02" text-anchor="start" textLength="9.27" lengthAdjust="spacingAndGlyphs" transform="rotate(-90 326.9 112.45)" fill="#3a3a3a">0.1726</text>
<text x="331.14" y="63.19" font-size="3.02" text-anchor="start" textLength="9.27" lengthAdjust="spacingAndGlyphs" transform="rotate(-90 331.14 63.19)" fill="#3a3a3a">0.2990</text>
<text x="368.49" y="98.01" font-size="3.02" text-anchor="start" textLength="9.27" lengthAdjust="spacingAndGlyphs" transform="rotate(-90 368.49 98.01)" fill="#3a3a3a">0.8940</text>
<text x="372.72" y="96.41" font-size="3.02" text-anchor="start" textLength="9.27" lengthAdjust="spacingAndGlyphs" transform="rotate(-90 372.72 96.41)" fill="#3a3a3a">0.8975</text>
<text x="376.95" y="84.27" font-size="3.02" text-anchor="start" textLength="9.27" lengthAdjust="spacingAndGlyphs" transform="rotate(-90 376.95 84.27)" fill="#3a3a3a">0.9242</text>
<text x="382.6" y="74.09" font-size="3.02" text-anchor="start" textLength="9.27" lengthAdjust="spacingAndGlyphs" transform="rotate(-90 382.6 74.09)" fill="#3a3a3a">0.9466</text>
<text x="386.83" y="72.18" font-size="3.02" text-anchor="start" textLength="9.27" lengthAdjust="spacingAndGlyphs" transform="rotate(-90 386.83 72.18)" fill="#3a3a3a">0.9508</text>
<text x="391.06" y="64.45" font-size="3.02" text-anchor="start" textLength="9.27" lengthAdjust="spacingAndGlyphs" transform="rotate(-90 391.06 64.45)" fill="#3a3a3a">0.9678</text>
<text x="396.71" y="99.64" font-size="3.02" text-anchor="start" textLength="9.27" lengthAdjust="spacingAndGlyphs" transform="rotate(-90 396.71 99.64)" fill="#3a3a3a">0.8904</text>
<text x="400.94" y="94.05" font-size="3.02" text-anchor="start" textLength="9.27" lengthAdjust="spacingAndGlyphs" transform="rotate(-90 400.94 94.05)" fill="#3a3a3a">0.9027</text>
<text x="405.17" y="85.86" font-size="3.02" text-anchor="start" textLength="9.27" lengthAdjust="spacingAndGlyphs" transform="rotate(-90 405.17 85.86)" fill="#3a3a3a">0.9207</text>
<text x="410.82" y="94.96" font-size="3.02" text-anchor="start" textLength="9.27" lengthAdjust="spacingAndGlyphs" transform="rotate(-90 410.82 94.96)" fill="#3a3a3a">0.9007</text>
<text x="415.05" y="91.78" font-size="3.02" text-anchor="start" textLength="9.27" lengthAdjust="spacingAndGlyphs" transform="rotate(-90 415.05 91.78)" fill="#3a3a3a">0.9077</text>
<text x="419.28" y="82.32" font-size="3.02" text-anchor="start" textLength="9.27" lengthAdjust="spacingAndGlyphs" transform="rotate(-90 419.28 82.32)" fill="#3a3a3a">0.9285</text>
<text x="424.93" y="92.78" font-size="3.02" text-anchor="start" textLength="9.27" lengthAdjust="spacingAndGlyphs" transform="rotate(-90 424.93 92.78)" fill="#3a3a3a">0.9055</text>
<text x="429.16" y="80.04" font-size="3.02" text-anchor="start" textLength="9.27" lengthAdjust="spacingAndGlyphs" transform="rotate(-90 429.16 80.04)" fill="#3a3a3a">0.9335</text>
<text x="433.39" y="78.68" font-size="3.02" text-anchor="start" textLength="9.27" lengthAdjust="spacingAndGlyphs" transform="rotate(-90 433.39 78.68)" fill="#3a3a3a">0.9365</text>
<text x="439.03" y="101.23" font-size="3.02" text-anchor="start" textLength="9.27" lengthAdjust="spacingAndGlyphs" transform="rotate(-90 439.03 101.23)" fill="#3a3a3a">0.8869</text>
<text x="443.27" y="90.27" font-size="3.02" text-anchor="start" textLength="9.27" lengthAdjust="spacingAndGlyphs" transform="rotate(-90 443.27 90.27)" fill="#3a3a3a">0.9110</text>
<text x="447.5" y="83.04" font-size="3.02" text-anchor="start" textLength="9.27" lengthAdjust="spacingAndGlyphs" transform="rotate(-90 447.5 83.04)" fill="#3a3a3a">0.9269</text>
<text x="453.14" y="91.46" font-size="3.02" text-anchor="start" textLength="9.27" lengthAdjust="spacingAndGlyphs" transform="rotate(-90 453.14 91.46)" fill="#3a3a3a">0.9084</text>
<text x="457.38" y="93.09" font-size="3.02" text-anchor="start" textLength="9.27" lengthAdjust="spacingAndGlyphs" transform="rotate(-90 457.38 93.09)" fill="#3a3a3a">0.9048</text>
<text x="461.61" y="78.5" font-size="3.02" text-anchor="start" textLength="9.27" lengthAdjust="spacingAndGlyphs" transform="rotate(-90 461.61 78.5)" fill="#3a3a3a">0.9369</text>
<text x="467.25" y="87.05" font-size="3.02" text-anchor="start" textLength="9.27" lengthAdjust="spacingAndGlyphs" transform="rotate(-90 467.25 87.05)" fill="#3a3a3a">0.9181</text>
<text x="471.49" y="76.86" font-size="3.02" text-anchor="start" textLength="9.27" lengthAdjust="spacingAndGlyphs" transform="rotate(-90 471.49 76.86)" fill="#3a3a3a">0.9405</text>
<text x="475.72" y="75.81" font-size="3.02" text-anchor="start" textLength="9.27" lengthAdjust="spacingAndGlyphs" transform="rotate(-90 475.72 75.81)" fill="#3a3a3a">0.9428</text>
<text x="481.36" y="98.73" font-size="3.02" text-anchor="start" textLength="9.27" lengthAdjust="spacingAndGlyphs" transform="rotate(-90 481.36 98.73)" fill="#3a3a3a">0.8924</text>
<text x="485.6" y="92" font-size="3.02" text-anchor="start" textLength="9.27" lengthAdjust="spacingAndGlyphs" transform="rotate(-90 485.6 92)" fill="#3a3a3a">0.9072</text>
<text x="489.83" y="81.41" font-size="3.02" text-anchor="start" textLength="9.27" lengthAdjust="spacingAndGlyphs" transform="rotate(-90 489.83 81.41)" fill="#3a3a3a">0.9305</text>
<text x="495.47" y="89.27" font-size="3.02" text-anchor="start" textLength="9.27" lengthAdjust="spacingAndGlyphs" transform="rotate(-90 495.47 89.27)" fill="#3a3a3a">0.9132</text>
<text x="499.7" y="96.14" font-size="3.02" text-anchor="start" textLength="9.27" lengthAdjust="spacingAndGlyphs" transform="rotate(-90 499.7 96.14)" fill="#3a3a3a">0.8981</text>
<text x="503.94" y="76.27" font-size="3.02" text-anchor="start" textLength="9.27" lengthAdjust="spacingAndGlyphs" transform="rotate(-90 503.94 76.27)" fill="#3a3a3a">0.9418</text>
<text x="541.19" y="125.52" font-size="3.02" text-anchor="start" textLength="7.59" lengthAdjust="spacingAndGlyphs" transform="rotate(-90 541.19 125.52)" fill="#3a3a3a">10.67</text>
<text x="545.42" y="123.92" font-size="3.02" text-anchor="start" textLength="7.59" lengthAdjust="spacingAndGlyphs" transform="rotate(-90 545.42 123.92)" fill="#3a3a3a">10.74</text>
<text x="549.65" y="93.23" font-size="3.02" text-anchor="start" textLength="7.59" lengthAdjust="spacingAndGlyphs" transform="rotate(-90 549.65 93.23)" fill="#3a3a3a">12.09</text>
<text x="555.3" y="65.95" font-size="3.02" text-anchor="start" textLength="7.59" lengthAdjust="spacingAndGlyphs" transform="rotate(-90 555.3 65.95)" fill="#3a3a3a">13.29</text>
<text x="559.53" y="59.35" font-size="3.02" text-anchor="start" textLength="7.59" lengthAdjust="spacingAndGlyphs" transform="rotate(-90 559.53 59.35)" fill="#3a3a3a">13.58</text>
<text x="563.76" y="15.93" font-size="3.02" text-anchor="start" textLength="7.59" lengthAdjust="spacingAndGlyphs" transform="rotate(-90 563.76 15.93)" fill="#3a3a3a">15.49</text>
<text x="569.41" y="130.97" font-size="3.02" text-anchor="start" textLength="7.59" lengthAdjust="spacingAndGlyphs" transform="rotate(-90 569.41 130.97)" fill="#3a3a3a">10.43</text>
<text x="573.64" y="122.56" font-size="3.02" text-anchor="start" textLength="7.59" lengthAdjust="spacingAndGlyphs" transform="rotate(-90 573.64 122.56)" fill="#3a3a3a">10.80</text>
<text x="577.87" y="99.37" font-size="3.02" text-anchor="start" textLength="7.59" lengthAdjust="spacingAndGlyphs" transform="rotate(-90 577.87 99.37)" fill="#3a3a3a">11.82</text>
<text x="583.52" y="120.74" font-size="3.02" text-anchor="start" textLength="7.59" lengthAdjust="spacingAndGlyphs" transform="rotate(-90 583.52 120.74)" fill="#3a3a3a">10.88</text>
<text x="587.75" y="114.83" font-size="3.02" text-anchor="start" textLength="7.59" lengthAdjust="spacingAndGlyphs" transform="rotate(-90 587.75 114.83)" fill="#3a3a3a">11.14</text>
<text x="591.98" y="88.68" font-size="3.02" text-anchor="start" textLength="7.59" lengthAdjust="spacingAndGlyphs" transform="rotate(-90 591.98 88.68)" fill="#3a3a3a">12.29</text>
<text x="597.63" y="118.01" font-size="3.02" text-anchor="start" textLength="7.59" lengthAdjust="spacingAndGlyphs" transform="rotate(-90 597.63 118.01)" fill="#3a3a3a">11.00</text>
<text x="601.86" y="84.14" font-size="3.02" text-anchor="start" textLength="7.59" lengthAdjust="spacingAndGlyphs" transform="rotate(-90 601.86 84.14)" fill="#3a3a3a">12.49</text>
<text x="606.09" y="78.68" font-size="3.02" text-anchor="start" textLength="7.59" lengthAdjust="spacingAndGlyphs" transform="rotate(-90 606.09 78.68)" fill="#3a3a3a">12.73</text>
<text x="611.73" y="134.38" font-size="3.02" text-anchor="start" textLength="7.59" lengthAdjust="spacingAndGlyphs" transform="rotate(-90 611.73 134.38)" fill="#3a3a3a">10.28</text>
<text x="615.97" y="108.46" font-size="3.02" text-anchor="start" textLength="7.59" lengthAdjust="spacingAndGlyphs" transform="rotate(-90 615.97 108.46)" fill="#3a3a3a">11.42</text>
<text x="620.2" y="91.41" font-size="3.02" text-anchor="start" textLength="7.59" lengthAdjust="spacingAndGlyphs" transform="rotate(-90 620.2 91.41)" fill="#3a3a3a">12.17</text>
<text x="625.84" y="113.01" font-size="3.02" text-anchor="start" textLength="7.59" lengthAdjust="spacingAndGlyphs" transform="rotate(-90 625.84 113.01)" fill="#3a3a3a">11.22</text>
<text x="630.08" y="122.11" font-size="3.02" text-anchor="start" textLength="7.59" lengthAdjust="spacingAndGlyphs" transform="rotate(-90 630.08 122.11)" fill="#3a3a3a">10.82</text>
<text x="634.31" y="75.95" font-size="3.02" text-anchor="start" textLength="7.59" lengthAdjust="spacingAndGlyphs" transform="rotate(-90 634.31 75.95)" fill="#3a3a3a">12.85</text>
<text x="639.95" y="104.37" font-size="3.02" text-anchor="start" textLength="7.59" lengthAdjust="spacingAndGlyphs" transform="rotate(-90 639.95 104.37)" fill="#3a3a3a">11.60</text>
<text x="644.19" y="74.81" font-size="3.02" text-anchor="start" textLength="7.59" lengthAdjust="spacingAndGlyphs" transform="rotate(-90 644.19 74.81)" fill="#3a3a3a">12.90</text>
<text x="648.42" y="67.99" font-size="3.02" text-anchor="start" textLength="7.59" lengthAdjust="spacingAndGlyphs" transform="rotate(-90 648.42 67.99)" fill="#3a3a3a">13.20</text>
<text x="654.06" y="128.47" font-size="3.02" text-anchor="start" textLength="7.59" lengthAdjust="spacingAndGlyphs" transform="rotate(-90 654.06 128.47)" fill="#3a3a3a">10.54</text>
<text x="658.3" y="125.06" font-size="3.02" text-anchor="start" textLength="7.59" lengthAdjust="spacingAndGlyphs" transform="rotate(-90 658.3 125.06)" fill="#3a3a3a">10.69</text>
<text x="662.53" y="85.27" font-size="3.02" text-anchor="start" textLength="7.59" lengthAdjust="spacingAndGlyphs" transform="rotate(-90 662.53 85.27)" fill="#3a3a3a">12.44</text>
<text x="668.17" y="108.24" font-size="3.02" text-anchor="start" textLength="7.59" lengthAdjust="spacingAndGlyphs" transform="rotate(-90 668.17 108.24)" fill="#3a3a3a">11.43</text>
<text x="672.4" y="129.61" font-size="3.02" text-anchor="start" textLength="7.59" lengthAdjust="spacingAndGlyphs" transform="rotate(-90 672.4 129.61)" fill="#3a3a3a">10.49</text>
<text x="676.64" y="68.45" font-size="3.02" text-anchor="start" textLength="7.59" lengthAdjust="spacingAndGlyphs" transform="rotate(-90 676.64 68.45)" fill="#3a3a3a">13.18</text>
<text x="23.04" y="240.68" font-size="3.02" text-anchor="start" textLength="9.27" lengthAdjust="spacingAndGlyphs" transform="rotate(-90 23.04 240.68)" fill="#3a3a3a">410.06</text>
<text x="27.27" y="239.69" font-size="3.02" text-anchor="start" textLength="9.27" lengthAdjust="spacingAndGlyphs" transform="rotate(-90 27.27 239.69)" fill="#3a3a3a">415.11</text>
<text x="31.5" y="267.65" font-size="3.02" text-anchor="start" textLength="9.27" lengthAdjust="spacingAndGlyphs" transform="rotate(-90 31.5 267.65)" fill="#3a3a3a">271.55</text>
<text x="37.15" y="258.84" font-size="3.02" text-anchor="start" textLength="9.27" lengthAdjust="spacingAndGlyphs" transform="rotate(-90 37.15 258.84)" fill="#3a3a3a">316.80</text>
<text x="41.38" y="232.31" font-size="3.02" text-anchor="start" textLength="9.27" lengthAdjust="spacingAndGlyphs" transform="rotate(-90 41.38 232.31)" fill="#3a3a3a">453.03</text>
<text x="45.61" y="269.15" font-size="3.02" text-anchor="start" textLength="9.27" lengthAdjust="spacingAndGlyphs" transform="rotate(-90 45.61 269.15)" fill="#3a3a3a">263.82</text>
<text x="51.26" y="232.87" font-size="3.02" text-anchor="start" textLength="9.27" lengthAdjust="spacingAndGlyphs" transform="rotate(-90 51.26 232.87)" fill="#3a3a3a">450.15</text>
<text x="55.49" y="224.9" font-size="3.02" text-anchor="start" textLength="9.27" lengthAdjust="spacingAndGlyphs" transform="rotate(-90 55.49 224.9)" fill="#3a3a3a">491.11</text>
<text x="59.72" y="265.76" font-size="3.02" text-anchor="start" textLength="9.27" lengthAdjust="spacingAndGlyphs" transform="rotate(-90 59.72 265.76)" fill="#3a3a3a">281.24</text>
<text x="65.37" y="254.02" font-size="3.02" text-anchor="start" textLength="9.27" lengthAdjust="spacingAndGlyphs" transform="rotate(-90 65.37 254.02)" fill="#3a3a3a">341.55</text>
<text x="69.6" y="212.1" font-size="3.02" text-anchor="start" textLength="9.27" lengthAdjust="spacingAndGlyphs" transform="rotate(-90 69.6 212.1)" fill="#3a3a3a">556.82</text>
<text x="73.83" y="268.82" font-size="3.02" text-anchor="start" textLength="9.27" lengthAdjust="spacingAndGlyphs" transform="rotate(-90 73.83 268.82)" fill="#3a3a3a">265.53</text>
<text x="79.48" y="237.6" font-size="3.02" text-anchor="start" textLength="9.27" lengthAdjust="spacingAndGlyphs" transform="rotate(-90 79.48 237.6)" fill="#3a3a3a">425.86</text>
<text x="83.71" y="233.84" font-size="3.02" text-anchor="start" textLength="9.27" lengthAdjust="spacingAndGlyphs" transform="rotate(-90 83.71 233.84)" fill="#3a3a3a">445.19</text>
<text x="87.94" y="257.22" font-size="3.02" text-anchor="start" textLength="9.27" lengthAdjust="spacingAndGlyphs" transform="rotate(-90 87.94 257.22)" fill="#3a3a3a">325.10</text>
<text x="93.58" y="268.97" font-size="3.02" text-anchor="start" textLength="9.27" lengthAdjust="spacingAndGlyphs" transform="rotate(-90 93.58 268.97)" fill="#3a3a3a">264.74</text>
<text x="97.82" y="244.93" font-size="3.02" text-anchor="start" textLength="9.27" lengthAdjust="spacingAndGlyphs" transform="rotate(-90 97.82 244.93)" fill="#3a3a3a">388.24</text>
<text x="102.05" y="294.1" font-size="3.02" text-anchor="start" textLength="9.27" lengthAdjust="spacingAndGlyphs" transform="rotate(-90 102.05 294.1)" fill="#3a3a3a">135.67</text>
<text x="107.69" y="239.1" font-size="3.02" text-anchor="start" textLength="9.27" lengthAdjust="spacingAndGlyphs" transform="rotate(-90 107.69 239.1)" fill="#3a3a3a">418.16</text>
<text x="111.93" y="246.43" font-size="3.02" text-anchor="start" textLength="9.27" lengthAdjust="spacingAndGlyphs" transform="rotate(-90 111.93 246.43)" fill="#3a3a3a">380.49</text>
<text x="116.16" y="273.04" font-size="3.02" text-anchor="start" textLength="9.27" lengthAdjust="spacingAndGlyphs" transform="rotate(-90 116.16 273.04)" fill="#3a3a3a">243.86</text>
<text x="121.8" y="255.92" font-size="3.02" text-anchor="start" textLength="9.27" lengthAdjust="spacingAndGlyphs" transform="rotate(-90 121.8 255.92)" fill="#3a3a3a">331.80</text>
<text x="126.04" y="259.33" font-size="3.02" text-anchor="start" textLength="9.27" lengthAdjust="spacingAndGlyphs" transform="rotate(-90 126.04 259.33)" fill="#3a3a3a">314.26</text>
<text x="130.27" y="284.5" font-size="3.02" text-anchor="start" textLength="9.27" lengthAdjust="spacingAndGlyphs" transform="rotate(-90 130.27 284.5)" fill="#3a3a3a">185.01</text>
<text x="135.91" y="233" font-size="3.02" text-anchor="start" textLength="9.27" lengthAdjust="spacingAndGlyphs" transform="rotate(-90 135.91 233)" fill="#3a3a3a">449.48</text>
<text x="140.15" y="208.71" font-size="3.02" text-anchor="start" textLength="9.27" lengthAdjust="spacingAndGlyphs" transform="rotate(-90 140.15 208.71)" fill="#3a3a3a">574.25</text>
<text x="144.38" y="267.83" font-size="3.02" text-anchor="start" textLength="9.27" lengthAdjust="spacingAndGlyphs" transform="rotate(-90 144.38 267.83)" fill="#3a3a3a">270.59</text>
<text x="150.02" y="243.73" font-size="3.02" text-anchor="start" textLength="9.27" lengthAdjust="spacingAndGlyphs" transform="rotate(-90 150.02 243.73)" fill="#3a3a3a">394.39</text>
<text x="154.25" y="234.37" font-size="3.02" text-anchor="start" textLength="9.27" lengthAdjust="spacingAndGlyphs" transform="rotate(-90 154.25 234.37)" fill="#3a3a3a">442.47</text>
<text x="158.49" y="265.28" font-size="3.02" text-anchor="start" textLength="9.27" lengthAdjust="spacingAndGlyphs" transform="rotate(-90 158.49 265.28)" fill="#3a3a3a">283.71</text>
<text x="195.69" y="267.47" font-size="3.02" text-anchor="start" textLength="9.27" lengthAdjust="spacingAndGlyphs" transform="rotate(-90 195.69 267.47)" fill="#3a3a3a">0.1281</text>
<text x="199.92" y="263.04" font-size="3.02" text-anchor="start" textLength="9.27" lengthAdjust="spacingAndGlyphs" transform="rotate(-90 199.92 263.04)" fill="#3a3a3a">0.1450</text>
<text x="204.15" y="242.1" font-size="3.02" text-anchor="start" textLength="9.27" lengthAdjust="spacingAndGlyphs" transform="rotate(-90 204.15 242.1)" fill="#3a3a3a">0.2249</text>
<text x="209.8" y="242.68" font-size="3.02" text-anchor="start" textLength="9.27" lengthAdjust="spacingAndGlyphs" transform="rotate(-90 209.8 242.68)" fill="#3a3a3a">0.2227</text>
<text x="214.03" y="246.37" font-size="3.02" text-anchor="start" textLength="9.27" lengthAdjust="spacingAndGlyphs" transform="rotate(-90 214.03 246.37)" fill="#3a3a3a">0.2086</text>
<text x="218.26" y="195.89" font-size="3.02" text-anchor="start" textLength="9.27" lengthAdjust="spacingAndGlyphs" transform="rotate(-90 218.26 195.89)" fill="#3a3a3a">0.4012</text>
<text x="223.91" y="272.11" font-size="3.02" text-anchor="start" textLength="9.27" lengthAdjust="spacingAndGlyphs" transform="rotate(-90 223.91 272.11)" fill="#3a3a3a">0.1104</text>
<text x="228.14" y="270.46" font-size="3.02" text-anchor="start" textLength="9.27" lengthAdjust="spacingAndGlyphs" transform="rotate(-90 228.14 270.46)" fill="#3a3a3a">0.1167</text>
<text x="232.37" y="254.39" font-size="3.02" text-anchor="start" textLength="9.27" lengthAdjust="spacingAndGlyphs" transform="rotate(-90 232.37 254.39)" fill="#3a3a3a">0.1780</text>
<text x="238.02" y="258.51" font-size="3.02" text-anchor="start" textLength="9.27" lengthAdjust="spacingAndGlyphs" transform="rotate(-90 238.02 258.51)" fill="#3a3a3a">0.1623</text>
<text x="242.25" y="265.53" font-size="3.02" text-anchor="start" textLength="9.27" lengthAdjust="spacingAndGlyphs" transform="rotate(-90 242.25 265.53)" fill="#3a3a3a">0.1355</text>
<text x="246.48" y="233.66" font-size="3.02" text-anchor="start" textLength="9.27" lengthAdjust="spacingAndGlyphs" transform="rotate(-90 246.48 233.66)" fill="#3a3a3a">0.2571</text>
<text x="252.13" y="264.93" font-size="3.02" text-anchor="start" textLength="9.27" lengthAdjust="spacingAndGlyphs" transform="rotate(-90 252.13 264.93)" fill="#3a3a3a">0.1378</text>
<text x="256.36" y="264.38" font-size="3.02" text-anchor="start" textLength="9.27" lengthAdjust="spacingAndGlyphs" transform="rotate(-90 256.36 264.38)" fill="#3a3a3a">0.1399</text>
<text x="260.59" y="242.52" font-size="3.02" text-anchor="start" textLength="9.27" lengthAdjust="spacingAndGlyphs" transform="rotate(-90 260.59 242.52)" fill="#3a3a3a">0.2233</text>
<text x="266.23" y="264.14" font-size="3.02" text-anchor="start" textLength="9.27" lengthAdjust="spacingAndGlyphs" transform="rotate(-90 266.23 264.14)" fill="#3a3a3a">0.1408</text>
<text x="270.47" y="281.47" font-size="3.02" text-anchor="start" textLength="9.27" lengthAdjust="spacingAndGlyphs" transform="rotate(-90 270.47 281.47)" fill="#3a3a3a">0.0747</text>
<text x="274.7" y="248.31" font-size="3.02" text-anchor="start" textLength="9.27" lengthAdjust="spacingAndGlyphs" transform="rotate(-90 274.7 248.31)" fill="#3a3a3a">0.2012</text>
<text x="280.34" y="274.34" font-size="3.02" text-anchor="start" textLength="9.27" lengthAdjust="spacingAndGlyphs" transform="rotate(-90 280.34 274.34)" fill="#3a3a3a">0.1019</text>
<text x="284.58" y="275.76" font-size="3.02" text-anchor="start" textLength="9.27" lengthAdjust="spacingAndGlyphs" transform="rotate(-90 284.58 275.76)" fill="#3a3a3a">0.0965</text>
<text x="288.81" y="263.49" font-size="3.02" text-anchor="start" textLength="9.27" lengthAdjust="spacingAndGlyphs" transform="rotate(-90 288.81 263.49)" fill="#3a3a3a">0.1433</text>
<text x="294.45" y="232.51" font-size="3.02" text-anchor="start" textLength="9.27" lengthAdjust="spacingAndGlyphs" transform="rotate(-90 294.45 232.51)" fill="#3a3a3a">0.2615</text>
<text x="298.69" y="252.3" font-size="3.02" text-anchor="start" textLength="9.27" lengthAdjust="spacingAndGlyphs" transform="rotate(-90 298.69 252.3)" fill="#3a3a3a">0.1860</text>
<text x="302.92" y="204.8" font-size="3.02" text-anchor="start" textLength="9.27" lengthAdjust="spacingAndGlyphs" transform="rotate(-90 302.92 204.8)" fill="#3a3a3a">0.3672</text>
<text x="308.56" y="287.55" font-size="3.02" text-anchor="start" textLength="9.27" lengthAdjust="spacingAndGlyphs" transform="rotate(-90 308.56 287.55)" fill="#3a3a3a">0.0515</text>
<text x="312.8" y="287.71" font-size="3.02" text-anchor="start" textLength="9.27" lengthAdjust="spacingAndGlyphs" transform="rotate(-90 312.8 287.71)" fill="#3a3a3a">0.0509</text>
<text x="317.03" y="277.49" font-size="3.02" text-anchor="start" textLength="9.27" lengthAdjust="spacingAndGlyphs" transform="rotate(-90 317.03 277.49)" fill="#3a3a3a">0.0899</text>
<text x="322.67" y="263.41" font-size="3.02" text-anchor="start" textLength="9.27" lengthAdjust="spacingAndGlyphs" transform="rotate(-90 322.67 263.41)" fill="#3a3a3a">0.1436</text>
<text x="326.9" y="261.65" font-size="3.02" text-anchor="start" textLength="9.27" lengthAdjust="spacingAndGlyphs" transform="rotate(-90 326.9 261.65)" fill="#3a3a3a">0.1503</text>
<text x="331.14" y="232.43" font-size="3.02" text-anchor="start" textLength="9.27" lengthAdjust="spacingAndGlyphs" transform="rotate(-90 331.14 232.43)" fill="#3a3a3a">0.2618</text>
<text x="368.49" y="256.55" font-size="3.02" text-anchor="start" textLength="9.27" lengthAdjust="spacingAndGlyphs" transform="rotate(-90 368.49 256.55)" fill="#3a3a3a">0.8306</text>
<text x="372.72" y="248.44" font-size="3.02" text-anchor="start" textLength="9.27" lengthAdjust="spacingAndGlyphs" transform="rotate(-90 372.72 248.44)" fill="#3a3a3a">0.8544</text>
<text x="376.95" y="230" font-size="3.02" text-anchor="start" textLength="9.27" lengthAdjust="spacingAndGlyphs" transform="rotate(-90 376.95 230)" fill="#3a3a3a">0.9085</text>
<text x="382.6" y="227.35" font-size="3.02" text-anchor="start" textLength="9.27" lengthAdjust="spacingAndGlyphs" transform="rotate(-90 382.6 227.35)" fill="#3a3a3a">0.9163</text>
<text x="386.83" y="232.05" font-size="3.02" text-anchor="start" textLength="9.27" lengthAdjust="spacingAndGlyphs" transform="rotate(-90 386.83 232.05)" fill="#3a3a3a">0.9025</text>
<text x="391.06" y="214.36" font-size="3.02" text-anchor="start" textLength="9.27" lengthAdjust="spacingAndGlyphs" transform="rotate(-90 391.06 214.36)" fill="#3a3a3a">0.9544</text>
<text x="396.71" y="265.61" font-size="3.02" text-anchor="start" textLength="9.27" lengthAdjust="spacingAndGlyphs" transform="rotate(-90 396.71 265.61)" fill="#3a3a3a">0.8040</text>
<text x="400.94" y="262.58" font-size="3.02" text-anchor="start" textLength="9.27" lengthAdjust="spacingAndGlyphs" transform="rotate(-90 400.94 262.58)" fill="#3a3a3a">0.8129</text>
<text x="405.17" y="240.26" font-size="3.02" text-anchor="start" textLength="9.27" lengthAdjust="spacingAndGlyphs" transform="rotate(-90 405.17 240.26)" fill="#3a3a3a">0.8784</text>
<text x="410.82" y="235.73" font-size="3.02" text-anchor="start" textLength="9.27" lengthAdjust="spacingAndGlyphs" transform="rotate(-90 410.82 235.73)" fill="#3a3a3a">0.8917</text>
<text x="415.05" y="235.32" font-size="3.02" text-anchor="start" textLength="9.27" lengthAdjust="spacingAndGlyphs" transform="rotate(-90 415.05 235.32)" fill="#3a3a3a">0.8929</text>
<text x="419.28" y="221.08" font-size="3.02" text-anchor="start" textLength="9.27" lengthAdjust="spacingAndGlyphs" transform="rotate(-90 419.28 221.08)" fill="#3a3a3a">0.9347</text>
<text x="424.93" y="252.25" font-size="3.02" text-anchor="start" textLength="9.27" lengthAdjust="spacingAndGlyphs" transform="rotate(-90 424.93 252.25)" fill="#3a3a3a">0.8432</text>
<text x="429.16" y="248.81" font-size="3.02" text-anchor="start" textLength="9.27" lengthAdjust="spacingAndGlyphs" transform="rotate(-90 429.16 248.81)" fill="#3a3a3a">0.8533</text>
<text x="433.39" y="231.64" font-size="3.02" text-anchor="start" textLength="9.27" lengthAdjust="spacingAndGlyphs" transform="rotate(-90 433.39 231.64)" fill="#3a3a3a">0.9037</text>
<text x="439.03" y="235.46" font-size="3.02" text-anchor="start" textLength="9.27" lengthAdjust="spacingAndGlyphs" transform="rotate(-90 439.03 235.46)" fill="#3a3a3a">0.8925</text>
<text x="443.27" y="244.45" font-size="3.02" text-anchor="start" textLength="9.27" lengthAdjust="spacingAndGlyphs" transform="rotate(-90 443.27 244.45)" fill="#3a3a3a">0.8661</text>
<text x="447.5" y="222.71" font-size="3.02" text-anchor="start" textLength="9.27" lengthAdjust="spacingAndGlyphs" transform="rotate(-90 447.5 222.71)" fill="#3a3a3a">0.9299</text>
<text x="453.14" y="264.66" font-size="3.02" text-anchor="start" textLength="9.27" lengthAdjust="spacingAndGlyphs" transform="rotate(-90 453.14 264.66)" fill="#3a3a3a">0.8068</text>
<text x="457.38" y="264.45" font-size="3.02" text-anchor="start" textLength="9.27" lengthAdjust="spacingAndGlyphs" transform="rotate(-90 457.38 264.45)" fill="#3a3a3a">0.8074</text>
<text x="461.61" y="241.86" font-size="3.02" text-anchor="start" textLength="9.27" lengthAdjust="spacingAndGlyphs" transform="rotate(-90 461.61 241.86)" fill="#3a3a3a">0.8737</text>
<text x="467.25" y="227.38" font-size="3.02" text-anchor="start" textLength="9.27" lengthAdjust="spacingAndGlyphs" transform="rotate(-90 467.25 227.38)" fill="#3a3a3a">0.9162</text>
<text x="471.49" y="225.13" font-size="3.02" text-anchor="start" textLength="9.27" lengthAdjust="spacingAndGlyphs" transform="rotate(-90 471.49 225.13)" fill="#3a3a3a">0.9228</text>
<text x="475.72" y="213.44" font-size="3.02" text-anchor="start" textLength="9.27" lengthAdjust="spacingAndGlyphs" transform="rotate(-90 475.72 213.44)" fill="#3a3a3a">0.9571</text>
<text x="481.36" y="275.49" font-size="3.02" text-anchor="start" textLength="9.27" lengthAdjust="spacingAndGlyphs" transform="rotate(-90 481.36 275.49)" fill="#3a3a3a">0.7750</text>
<text x="485.6" y="274.78" font-size="3.02" text-anchor="start" textLength="9.27" lengthAdjust="spacingAndGlyphs" transform="rotate(-90 485.6 274.78)" fill="#3a3a3a">0.7771</text>
<text x="489.83" y="249.84" font-size="3.02" text-anchor="start" textLength="9.27" lengthAdjust="spacingAndGlyphs" transform="rotate(-90 489.83 249.84)" fill="#3a3a3a">0.8503</text>
<text x="495.47" y="246.29" font-size="3.02" text-anchor="start" textLength="9.27" lengthAdjust="spacingAndGlyphs" transform="rotate(-90 495.47 246.29)" fill="#3a3a3a">0.8607</text>
<text x="499.7" y="242.13" font-size="3.02" text-anchor="start" textLength="9.27" lengthAdjust="spacingAndGlyphs" transform="rotate(-90 499.7 242.13)" fill="#3a3a3a">0.8729</text>
<text x="503.94" y="227.35" font-size="3.02" text-anchor="start" textLength="9.27" lengthAdjust="spacingAndGlyphs" transform="rotate(-90 503.94 227.35)" fill="#3a3a3a">0.9163</text>
<text x="541.19" y="267.79" font-size="3.02" text-anchor="start" textLength="7.59" lengthAdjust="spacingAndGlyphs" transform="rotate(-90 541.19 267.79)" fill="#3a3a3a">10.44</text>
<text x="545.42" y="258.25" font-size="3.02" text-anchor="start" textLength="7.59" lengthAdjust="spacingAndGlyphs" transform="rotate(-90 545.42 258.25)" fill="#3a3a3a">11.14</text>
<text x="549.65" y="228.13" font-size="3.02" text-anchor="start" textLength="7.59" lengthAdjust="spacingAndGlyphs" transform="rotate(-90 549.65 228.13)" fill="#3a3a3a">13.35</text>
<text x="555.3" y="239.99" font-size="3.02" text-anchor="start" textLength="7.59" lengthAdjust="spacingAndGlyphs" transform="rotate(-90 555.3 239.99)" fill="#3a3a3a">12.48</text>
<text x="559.53" y="249.8" font-size="3.02" text-anchor="start" textLength="7.59" lengthAdjust="spacingAndGlyphs" transform="rotate(-90 559.53 249.8)" fill="#3a3a3a">11.76</text>
<text x="563.76" y="199.51" font-size="3.02" text-anchor="start" textLength="7.59" lengthAdjust="spacingAndGlyphs" transform="rotate(-90 563.76 199.51)" fill="#3a3a3a">15.45</text>
<text x="569.41" y="271.06" font-size="3.02" text-anchor="start" textLength="7.59" lengthAdjust="spacingAndGlyphs" transform="rotate(-90 569.41 271.06)" fill="#3a3a3a">10.20</text>
<text x="573.64" y="270.11" font-size="3.02" text-anchor="start" textLength="7.59" lengthAdjust="spacingAndGlyphs" transform="rotate(-90 573.64 270.11)" fill="#3a3a3a">10.27</text>
<text x="577.87" y="238.9" font-size="3.02" text-anchor="start" textLength="7.59" lengthAdjust="spacingAndGlyphs" transform="rotate(-90 577.87 238.9)" fill="#3a3a3a">12.56</text>
<text x="583.52" y="251.71" font-size="3.02" text-anchor="start" textLength="7.59" lengthAdjust="spacingAndGlyphs" transform="rotate(-90 583.52 251.71)" fill="#3a3a3a">11.62</text>
<text x="587.75" y="264.93" font-size="3.02" text-anchor="start" textLength="7.59" lengthAdjust="spacingAndGlyphs" transform="rotate(-90 587.75 264.93)" fill="#3a3a3a">10.65</text>
<text x="591.98" y="220.77" font-size="3.02" text-anchor="start" textLength="7.59" lengthAdjust="spacingAndGlyphs" transform="rotate(-90 591.98 220.77)" fill="#3a3a3a">13.89</text>
<text x="597.63" y="262.2" font-size="3.02" text-anchor="start" textLength="7.59" lengthAdjust="spacingAndGlyphs" transform="rotate(-90 597.63 262.2)" fill="#3a3a3a">10.85</text>
<text x="601.86" y="258.8" font-size="3.02" text-anchor="start" textLength="7.59" lengthAdjust="spacingAndGlyphs" transform="rotate(-90 601.86 258.8)" fill="#3a3a3a">11.10</text>
<text x="606.09" y="230.99" font-size="3.02" text-anchor="start" textLength="7.59" lengthAdjust="spacingAndGlyphs" transform="rotate(-90 606.09 230.99)" fill="#3a3a3a">13.14</text>
<text x="611.73" y="257.3" font-size="3.02" text-anchor="start" textLength="7.59" lengthAdjust="spacingAndGlyphs" transform="rotate(-90 611.73 257.3)" fill="#3a3a3a">11.21</text>
<text x="615.97" y="272.84" font-size="3.02" text-anchor="start" textLength="7.59" lengthAdjust="spacingAndGlyphs" transform="rotate(-90 615.97 272.84)" fill="#3a3a3a">10.07</text>
<text x="620.2" y="226.09" font-size="3.02" text-anchor="start" textLength="7.59" lengthAdjust="spacingAndGlyphs" transform="rotate(-90 620.2 226.09)" fill="#3a3a3a">13.50</text>
<text x="625.84" y="272.02" font-size="3.02" text-anchor="start" textLength="7.59" lengthAdjust="spacingAndGlyphs" transform="rotate(-90 625.84 272.02)" fill="#3a3a3a">10.13</text>
<text x="630.08" y="266.02" font-size="3.02" text-anchor="start" textLength="7.59" lengthAdjust="spacingAndGlyphs" transform="rotate(-90 630.08 266.02)" fill="#3a3a3a">10.57</text>
<text x="634.31" y="242.58" font-size="3.02" text-anchor="start" textLength="7.59" lengthAdjust="spacingAndGlyphs" transform="rotate(-90 634.31 242.58)" fill="#3a3a3a">12.29</text>
<text x="639.95" y="244.62" font-size="3.02" text-anchor="start" textLength="7.59" lengthAdjust="spacingAndGlyphs" transform="rotate(-90 639.95 244.62)" fill="#3a3a3a">12.14</text>
<text x="644.19" y="238.22" font-size="3.02" text-anchor="start" textLength="7.59" lengthAdjust="spacingAndGlyphs" transform="rotate(-90 644.19 238.22)" fill="#3a3a3a">12.61</text>
<text x="648.42" y="199.64" font-size="3.02" text-anchor="start" textLength="7.59" lengthAdjust="spacingAndGlyphs" transform="rotate(-90 648.42 199.64)" fill="#3a3a3a">15.44</text>
<text x="654.06" y="282.79" font-size="3.02" text-anchor="start" textLength="5.9" lengthAdjust="spacingAndGlyphs" transform="rotate(-90 654.06 282.79)" fill="#3a3a3a">9.34</text>
<text x="658.3" y="287.83" font-size="3.02" text-anchor="start" textLength="5.9" lengthAdjust="spacingAndGlyphs" transform="rotate(-90 658.3 287.83)" fill="#3a3a3a">8.97</text>
<text x="662.53" y="257.43" font-size="3.02" text-anchor="start" textLength="7.59" lengthAdjust="spacingAndGlyphs" transform="rotate(-90 662.53 257.43)" fill="#3a3a3a">11.20</text>
<text x="668.17" y="263.43" font-size="3.02" text-anchor="start" textLength="7.59" lengthAdjust="spacingAndGlyphs" transform="rotate(-90 668.17 263.43)" fill="#3a3a3a">10.76</text>
<text x="672.4" y="259.61" font-size="3.02" text-anchor="start" textLength="7.59" lengthAdjust="spacingAndGlyphs" transform="rotate(-90 672.4 259.61)" fill="#3a3a3a">11.04</text>
<text x="676.64" y="231.4" font-size="3.02" text-anchor="start" textLength="7.59" lengthAdjust="spacingAndGlyphs" transform="rotate(-90 676.64 231.4)" fill="#3a3a3a">13.11</text>
<text x="23.04" y="383.61" font-size="3.02" text-anchor="start" textLength="9.27" lengthAdjust="spacingAndGlyphs" transform="rotate(-90 23.04 383.61)" fill="#3a3a3a">393.84</text>
<text x="27.27" y="382.53" font-size="3.02" text-anchor="start" textLength="9.27" lengthAdjust="spacingAndGlyphs" transform="rotate(-90 27.27 382.53)" fill="#3a3a3a">397.64</text>
<text x="31.5" y="424.34" font-size="3.02" text-anchor="start" textLength="9.27" lengthAdjust="spacingAndGlyphs" transform="rotate(-90 31.5 424.34)" fill="#3a3a3a">250.47</text>
<text x="37.15" y="388.86" font-size="3.02" text-anchor="start" textLength="9.27" lengthAdjust="spacingAndGlyphs" transform="rotate(-90 37.15 388.86)" fill="#3a3a3a">375.37</text>
<text x="41.38" y="379.46" font-size="3.02" text-anchor="start" textLength="9.27" lengthAdjust="spacingAndGlyphs" transform="rotate(-90 41.38 379.46)" fill="#3a3a3a">408.47</text>
<text x="45.61" y="426.9" font-size="3.02" text-anchor="start" textLength="9.27" lengthAdjust="spacingAndGlyphs" transform="rotate(-90 45.61 426.9)" fill="#3a3a3a">241.44</text>
<text x="51.26" y="393.2" font-size="3.02" text-anchor="start" textLength="9.27" lengthAdjust="spacingAndGlyphs" transform="rotate(-90 51.26 393.2)" fill="#3a3a3a">360.10</text>
<text x="55.49" y="414.4" font-size="3.02" text-anchor="start" textLength="9.27" lengthAdjust="spacingAndGlyphs" transform="rotate(-90 55.49 414.4)" fill="#3a3a3a">285.45</text>
<text x="59.72" y="426.79" font-size="3.02" text-anchor="start" textLength="9.27" lengthAdjust="spacingAndGlyphs" transform="rotate(-90 59.72 426.79)" fill="#3a3a3a">241.84</text>
<text x="65.37" y="378.71" font-size="3.02" text-anchor="start" textLength="9.27" lengthAdjust="spacingAndGlyphs" transform="rotate(-90 65.37 378.71)" fill="#3a3a3a">411.09</text>
<text x="69.6" y="386.86" font-size="3.02" text-anchor="start" textLength="9.27" lengthAdjust="spacingAndGlyphs" transform="rotate(-90 69.6 386.86)" fill="#3a3a3a">382.42</text>
<text x="73.83" y="404.73" font-size="3.02" text-anchor="start" textLength="9.27" lengthAdjust="spacingAndGlyphs" transform="rotate(-90 73.83 404.73)" fill="#3a3a3a">319.49</text>
<text x="79.48" y="392.8" font-size="3.02" text-anchor="start" textLength="9.27" lengthAdjust="spacingAndGlyphs" transform="rotate(-90 79.48 392.8)" fill="#3a3a3a">361.48</text>
<text x="83.71" y="384.04" font-size="3.02" text-anchor="start" textLength="9.27" lengthAdjust="spacingAndGlyphs" transform="rotate(-90 83.71 384.04)" fill="#3a3a3a">392.33</text>
<text x="87.94" y="431.05" font-size="3.02" text-anchor="start" textLength="9.27" lengthAdjust="spacingAndGlyphs" transform="rotate(-90 87.94 431.05)" fill="#3a3a3a">226.83</text>
<text x="93.58" y="378.36" font-size="3.02" text-anchor="start" textLength="9.27" lengthAdjust="spacingAndGlyphs" transform="rotate(-90 93.58 378.36)" fill="#3a3a3a">412.33</text>
<text x="97.82" y="380.58" font-size="3.02" text-anchor="start" textLength="9.27" lengthAdjust="spacingAndGlyphs" transform="rotate(-90 97.82 380.58)" fill="#3a3a3a">404.52</text>
<text x="102.05" y="423.93" font-size="3.02" text-anchor="start" textLength="9.27" lengthAdjust="spacingAndGlyphs" transform="rotate(-90 102.05 423.93)" fill="#3a3a3a">251.91</text>
<text x="107.69" y="385.33" font-size="3.02" text-anchor="start" textLength="9.27" lengthAdjust="spacingAndGlyphs" transform="rotate(-90 107.69 385.33)" fill="#3a3a3a">387.80</text>
<text x="111.93" y="398.77" font-size="3.02" text-anchor="start" textLength="9.27" lengthAdjust="spacingAndGlyphs" transform="rotate(-90 111.93 398.77)" fill="#3a3a3a">340.48</text>
<text x="116.16" y="424.82" font-size="3.02" text-anchor="start" textLength="9.27" lengthAdjust="spacingAndGlyphs" transform="rotate(-90 116.16 424.82)" fill="#3a3a3a">248.76</text>
<text x="121.8" y="383.15" font-size="3.02" text-anchor="start" textLength="9.27" lengthAdjust="spacingAndGlyphs" transform="rotate(-90 121.8 383.15)" fill="#3a3a3a">395.48</text>
<text x="126.04" y="369.4" font-size="3.02" text-anchor="start" textLength="9.27" lengthAdjust="spacingAndGlyphs" transform="rotate(-90 126.04 369.4)" fill="#3a3a3a">443.86</text>
<text x="130.27" y="432.28" font-size="3.02" text-anchor="start" textLength="9.27" lengthAdjust="spacingAndGlyphs" transform="rotate(-90 130.27 432.28)" fill="#3a3a3a">222.53</text>
<text x="135.91" y="378.69" font-size="3.02" text-anchor="start" textLength="9.27" lengthAdjust="spacingAndGlyphs" transform="rotate(-90 135.91 378.69)" fill="#3a3a3a">411.16</text>
<text x="140.15" y="386.95" font-size="3.02" text-anchor="start" textLength="9.27" lengthAdjust="spacingAndGlyphs" transform="rotate(-90 140.15 386.95)" fill="#3a3a3a">382.09</text>
<text x="144.38" y="426.35" font-size="3.02" text-anchor="start" textLength="9.27" lengthAdjust="spacingAndGlyphs" transform="rotate(-90 144.38 426.35)" fill="#3a3a3a">243.39</text>
<text x="150.02" y="379.19" font-size="3.02" text-anchor="start" textLength="9.27" lengthAdjust="spacingAndGlyphs" transform="rotate(-90 150.02 379.19)" fill="#3a3a3a">409.41</text>
<text x="154.25" y="388.72" font-size="3.02" text-anchor="start" textLength="9.27" lengthAdjust="spacingAndGlyphs" transform="rotate(-90 154.25 388.72)" fill="#3a3a3a">375.87</text>
<text x="158.49" y="419.17" font-size="3.02" text-anchor="start" textLength="9.27" lengthAdjust="spacingAndGlyphs" transform="rotate(-90 158.49 419.17)" fill="#3a3a3a">268.68</text>
<text x="195.69" y="404.53" font-size="3.02" text-anchor="start" textLength="9.27" lengthAdjust="spacingAndGlyphs" transform="rotate(-90 195.69 404.53)" fill="#3a3a3a">0.1877</text>
<text x="199.92" y="402.98" font-size="3.02" text-anchor="start" textLength="9.27" lengthAdjust="spacingAndGlyphs" transform="rotate(-90 199.92 402.98)" fill="#3a3a3a">0.1928</text>
<text x="204.15" y="386.59" font-size="3.02" text-anchor="start" textLength="9.27" lengthAdjust="spacingAndGlyphs" transform="rotate(-90 204.15 386.59)" fill="#3a3a3a">0.2469</text>
<text x="209.8" y="418.28" font-size="3.02" text-anchor="start" textLength="9.27" lengthAdjust="spacingAndGlyphs" transform="rotate(-90 209.8 418.28)" fill="#3a3a3a">0.1423</text>
<text x="214.03" y="420.59" font-size="3.02" text-anchor="start" textLength="9.27" lengthAdjust="spacingAndGlyphs" transform="rotate(-90 214.03 420.59)" fill="#3a3a3a">0.1347</text>
<text x="218.26" y="403.98" font-size="3.02" text-anchor="start" textLength="9.27" lengthAdjust="spacingAndGlyphs" transform="rotate(-90 218.26 403.98)" fill="#3a3a3a">0.1895</text>
<text x="223.91" y="409.89" font-size="3.02" text-anchor="start" textLength="9.27" lengthAdjust="spacingAndGlyphs" transform="rotate(-90 223.91 409.89)" fill="#3a3a3a">0.1700</text>
<text x="228.14" y="396.86" font-size="3.02" text-anchor="start" textLength="9.27" lengthAdjust="spacingAndGlyphs" transform="rotate(-90 228.14 396.86)" fill="#3a3a3a">0.2130</text>
<text x="232.37" y="392.41" font-size="3.02" text-anchor="start" textLength="9.27" lengthAdjust="spacingAndGlyphs" transform="rotate(-90 232.37 392.41)" fill="#3a3a3a">0.2277</text>
<text x="238.02" y="400.04" font-size="3.02" text-anchor="start" textLength="9.27" lengthAdjust="spacingAndGlyphs" transform="rotate(-90 238.02 400.04)" fill="#3a3a3a">0.2025</text>
<text x="242.25" y="391.5" font-size="3.02" text-anchor="start" textLength="9.27" lengthAdjust="spacingAndGlyphs" transform="rotate(-90 242.25 391.5)" fill="#3a3a3a">0.2307</text>
<text x="246.48" y="372.65" font-size="3.02" text-anchor="start" textLength="9.27" lengthAdjust="spacingAndGlyphs" transform="rotate(-90 246.48 372.65)" fill="#3a3a3a">0.2929</text>
<text x="252.13" y="404.19" font-size="3.02" text-anchor="start" textLength="9.27" lengthAdjust="spacingAndGlyphs" transform="rotate(-90 252.13 404.19)" fill="#3a3a3a">0.1888</text>
<text x="256.36" y="423.4" font-size="3.02" text-anchor="start" textLength="9.27" lengthAdjust="spacingAndGlyphs" transform="rotate(-90 256.36 423.4)" fill="#3a3a3a">0.1254</text>
<text x="260.59" y="394.8" font-size="3.02" text-anchor="start" textLength="9.27" lengthAdjust="spacingAndGlyphs" transform="rotate(-90 260.59 394.8)" fill="#3a3a3a">0.2198</text>
<text x="266.23" y="400.62" font-size="3.02" text-anchor="start" textLength="9.27" lengthAdjust="spacingAndGlyphs" transform="rotate(-90 266.23 400.62)" fill="#3a3a3a">0.2006</text>
<text x="270.47" y="396.53" font-size="3.02" text-anchor="start" textLength="9.27" lengthAdjust="spacingAndGlyphs" transform="rotate(-90 270.47 396.53)" fill="#3a3a3a">0.2141</text>
<text x="274.7" y="384.5" font-size="3.02" text-anchor="start" textLength="9.27" lengthAdjust="spacingAndGlyphs" transform="rotate(-90 274.7 384.5)" fill="#3a3a3a">0.2538</text>
<text x="280.34" y="403.98" font-size="3.02" text-anchor="start" textLength="9.27" lengthAdjust="spacingAndGlyphs" transform="rotate(-90 280.34 403.98)" fill="#3a3a3a">0.1895</text>
<text x="284.58" y="403.22" font-size="3.02" text-anchor="start" textLength="9.27" lengthAdjust="spacingAndGlyphs" transform="rotate(-90 284.58 403.22)" fill="#3a3a3a">0.1920</text>
<text x="288.81" y="386.53" font-size="3.02" text-anchor="start" textLength="9.27" lengthAdjust="spacingAndGlyphs" transform="rotate(-90 288.81 386.53)" fill="#3a3a3a">0.2471</text>
<text x="294.45" y="421.37" font-size="3.02" text-anchor="start" textLength="9.27" lengthAdjust="spacingAndGlyphs" transform="rotate(-90 294.45 421.37)" fill="#3a3a3a">0.1321</text>
<text x="298.69" y="417.92" font-size="3.02" text-anchor="start" textLength="9.27" lengthAdjust="spacingAndGlyphs" transform="rotate(-90 298.69 417.92)" fill="#3a3a3a">0.1435</text>
<text x="302.92" y="396.38" font-size="3.02" text-anchor="start" textLength="9.27" lengthAdjust="spacingAndGlyphs" transform="rotate(-90 302.92 396.38)" fill="#3a3a3a">0.2146</text>
<text x="308.56" y="417.25" font-size="3.02" text-anchor="start" textLength="9.27" lengthAdjust="spacingAndGlyphs" transform="rotate(-90 308.56 417.25)" fill="#3a3a3a">0.1457</text>
<text x="312.8" y="402.59" font-size="3.02" text-anchor="start" textLength="9.27" lengthAdjust="spacingAndGlyphs" transform="rotate(-90 312.8 402.59)" fill="#3a3a3a">0.1941</text>
<text x="317.03" y="386.01" font-size="3.02" text-anchor="start" textLength="9.27" lengthAdjust="spacingAndGlyphs" transform="rotate(-90 317.03 386.01)" fill="#3a3a3a">0.2488</text>
<text x="322.67" y="418.28" font-size="3.02" text-anchor="start" textLength="9.27" lengthAdjust="spacingAndGlyphs" transform="rotate(-90 322.67 418.28)" fill="#3a3a3a">0.1423</text>
<text x="326.9" y="412.37" font-size="3.02" text-anchor="start" textLength="9.27" lengthAdjust="spacingAndGlyphs" transform="rotate(-90 326.9 412.37)" fill="#3a3a3a">0.1618</text>
<text x="331.14" y="397.38" font-size="3.02" text-anchor="start" textLength="9.27" lengthAdjust="spacingAndGlyphs" transform="rotate(-90 331.14 397.38)" fill="#3a3a3a">0.2113</text>
<text x="368.49" y="416.34" font-size="3.02" text-anchor="start" textLength="9.27" lengthAdjust="spacingAndGlyphs" transform="rotate(-90 368.49 416.34)" fill="#3a3a3a">0.8727</text>
<text x="372.72" y="410.21" font-size="3.02" text-anchor="start" textLength="9.27" lengthAdjust="spacingAndGlyphs" transform="rotate(-90 372.72 410.21)" fill="#3a3a3a">0.8826</text>
<text x="376.95" y="390.56" font-size="3.02" text-anchor="start" textLength="9.27" lengthAdjust="spacingAndGlyphs" transform="rotate(-90 376.95 390.56)" fill="#3a3a3a">0.9143</text>
<text x="382.6" y="420.56" font-size="3.02" text-anchor="start" textLength="9.27" lengthAdjust="spacingAndGlyphs" transform="rotate(-90 382.6 420.56)" fill="#3a3a3a">0.8659</text>
<text x="386.83" y="419.94" font-size="3.02" text-anchor="start" textLength="9.27" lengthAdjust="spacingAndGlyphs" transform="rotate(-90 386.83 419.94)" fill="#3a3a3a">0.8669</text>
<text x="391.06" y="397.38" font-size="3.02" text-anchor="start" textLength="9.27" lengthAdjust="spacingAndGlyphs" transform="rotate(-90 391.06 397.38)" fill="#3a3a3a">0.9033</text>
<text x="396.71" y="413.99" font-size="3.02" text-anchor="start" textLength="9.27" lengthAdjust="spacingAndGlyphs" transform="rotate(-90 396.71 413.99)" fill="#3a3a3a">0.8765</text>
<text x="400.94" y="395.77" font-size="3.02" text-anchor="start" textLength="9.27" lengthAdjust="spacingAndGlyphs" transform="rotate(-90 400.94 395.77)" fill="#3a3a3a">0.9059</text>
<text x="405.17" y="392.73" font-size="3.02" text-anchor="start" textLength="9.27" lengthAdjust="spacingAndGlyphs" transform="rotate(-90 405.17 392.73)" fill="#3a3a3a">0.9108</text>
<text x="410.82" y="416.65" font-size="3.02" text-anchor="start" textLength="9.27" lengthAdjust="spacingAndGlyphs" transform="rotate(-90 410.82 416.65)" fill="#3a3a3a">0.8722</text>
<text x="415.05" y="408.1" font-size="3.02" text-anchor="start" textLength="9.27" lengthAdjust="spacingAndGlyphs" transform="rotate(-90 415.05 408.1)" fill="#3a3a3a">0.8860</text>
<text x="419.28" y="389.38" font-size="3.02" text-anchor="start" textLength="9.27" lengthAdjust="spacingAndGlyphs" transform="rotate(-90 419.28 389.38)" fill="#3a3a3a">0.9162</text>
<text x="424.93" y="411.07" font-size="3.02" text-anchor="start" textLength="9.27" lengthAdjust="spacingAndGlyphs" transform="rotate(-90 424.93 411.07)" fill="#3a3a3a">0.8812</text>
<text x="429.16" y="418.88" font-size="3.02" text-anchor="start" textLength="9.27" lengthAdjust="spacingAndGlyphs" transform="rotate(-90 429.16 418.88)" fill="#3a3a3a">0.8686</text>
<text x="433.39" y="389.82" font-size="3.02" text-anchor="start" textLength="9.27" lengthAdjust="spacingAndGlyphs" transform="rotate(-90 433.39 389.82)" fill="#3a3a3a">0.9155</text>
<text x="439.03" y="417.33" font-size="3.02" text-anchor="start" textLength="9.27" lengthAdjust="spacingAndGlyphs" transform="rotate(-90 439.03 417.33)" fill="#3a3a3a">0.8711</text>
<text x="443.27" y="406.86" font-size="3.02" text-anchor="start" textLength="9.27" lengthAdjust="spacingAndGlyphs" transform="rotate(-90 443.27 406.86)" fill="#3a3a3a">0.8880</text>
<text x="447.5" y="391.99" font-size="3.02" text-anchor="start" textLength="9.27" lengthAdjust="spacingAndGlyphs" transform="rotate(-90 447.5 391.99)" fill="#3a3a3a">0.9120</text>
<text x="453.14" y="413.74" font-size="3.02" text-anchor="start" textLength="9.27" lengthAdjust="spacingAndGlyphs" transform="rotate(-90 453.14 413.74)" fill="#3a3a3a">0.8769</text>
<text x="457.38" y="404.5" font-size="3.02" text-anchor="start" textLength="9.27" lengthAdjust="spacingAndGlyphs" transform="rotate(-90 457.38 404.5)" fill="#3a3a3a">0.8918</text>
<text x="461.61" y="388.58" font-size="3.02" text-anchor="start" textLength="9.27" lengthAdjust="spacingAndGlyphs" transform="rotate(-90 461.61 388.58)" fill="#3a3a3a">0.9175</text>
<text x="467.25" y="428.8" font-size="3.02" text-anchor="start" textLength="9.27" lengthAdjust="spacingAndGlyphs" transform="rotate(-90 467.25 428.8)" fill="#3a3a3a">0.8526</text>
<text x="471.49" y="424.65" font-size="3.02" text-anchor="start" textLength="9.27" lengthAdjust="spacingAndGlyphs" transform="rotate(-90 471.49 424.65)" fill="#3a3a3a">0.8593</text>
<text x="475.72" y="396.94" font-size="3.02" text-anchor="start" textLength="9.27" lengthAdjust="spacingAndGlyphs" transform="rotate(-90 475.72 396.94)" fill="#3a3a3a">0.9040</text>
<text x="481.36" y="423.28" font-size="3.02" text-anchor="start" textLength="9.27" lengthAdjust="spacingAndGlyphs" transform="rotate(-90 481.36 423.28)" fill="#3a3a3a">0.8615</text>
<text x="485.6" y="408.22" font-size="3.02" text-anchor="start" textLength="9.27" lengthAdjust="spacingAndGlyphs" transform="rotate(-90 485.6 408.22)" fill="#3a3a3a">0.8858</text>
<text x="489.83" y="389.69" font-size="3.02" text-anchor="start" textLength="9.27" lengthAdjust="spacingAndGlyphs" transform="rotate(-90 489.83 389.69)" fill="#3a3a3a">0.9157</text>
<text x="495.47" y="430.04" font-size="3.02" text-anchor="start" textLength="9.27" lengthAdjust="spacingAndGlyphs" transform="rotate(-90 495.47 430.04)" fill="#3a3a3a">0.8506</text>
<text x="499.7" y="420.56" font-size="3.02" text-anchor="start" textLength="9.27" lengthAdjust="spacingAndGlyphs" transform="rotate(-90 499.7 420.56)" fill="#3a3a3a">0.8659</text>
<text x="503.94" y="401.22" font-size="3.02" text-anchor="start" textLength="9.27" lengthAdjust="spacingAndGlyphs" transform="rotate(-90 503.94 401.22)" fill="#3a3a3a">0.8971</text>
<text x="541.19" y="415.88" font-size="3.02" text-anchor="start" textLength="7.59" lengthAdjust="spacingAndGlyphs" transform="rotate(-90 541.19 415.88)" fill="#3a3a3a">10.17</text>
<text x="545.42" y="408.96" font-size="3.02" text-anchor="start" textLength="7.59" lengthAdjust="spacingAndGlyphs" transform="rotate(-90 545.42 408.96)" fill="#3a3a3a">10.50</text>
<text x="549.65" y="378.75" font-size="3.02" text-anchor="start" textLength="7.59" lengthAdjust="spacingAndGlyphs" transform="rotate(-90 549.65 378.75)" fill="#3a3a3a">11.94</text>
<text x="555.3" y="422.8" font-size="3.02" text-anchor="start" textLength="5.9" lengthAdjust="spacingAndGlyphs" transform="rotate(-90 555.3 422.8)" fill="#3a3a3a">9.84</text>
<text x="559.53" y="424.9" font-size="3.02" text-anchor="start" textLength="5.9" lengthAdjust="spacingAndGlyphs" transform="rotate(-90 559.53 424.9)" fill="#3a3a3a">9.74</text>
<text x="563.76" y="392.6" font-size="3.02" text-anchor="start" textLength="7.59" lengthAdjust="spacingAndGlyphs" transform="rotate(-90 563.76 392.6)" fill="#3a3a3a">11.28</text>
<text x="569.41" y="413.36" font-size="3.02" text-anchor="start" textLength="7.59" lengthAdjust="spacingAndGlyphs" transform="rotate(-90 569.41 413.36)" fill="#3a3a3a">10.29</text>
<text x="573.64" y="391.97" font-size="3.02" text-anchor="start" textLength="7.59" lengthAdjust="spacingAndGlyphs" transform="rotate(-90 573.64 391.97)" fill="#3a3a3a">11.31</text>
<text x="577.87" y="384.2" font-size="3.02" text-anchor="start" textLength="7.59" lengthAdjust="spacingAndGlyphs" transform="rotate(-90 577.87 384.2)" fill="#3a3a3a">11.68</text>
<text x="583.52" y="411.06" font-size="3.02" text-anchor="start" textLength="7.59" lengthAdjust="spacingAndGlyphs" transform="rotate(-90 583.52 411.06)" fill="#3a3a3a">10.40</text>
<text x="587.75" y="397.63" font-size="3.02" text-anchor="start" textLength="7.59" lengthAdjust="spacingAndGlyphs" transform="rotate(-90 587.75 397.63)" fill="#3a3a3a">11.04</text>
<text x="591.98" y="371.41" font-size="3.02" text-anchor="start" textLength="7.59" lengthAdjust="spacingAndGlyphs" transform="rotate(-90 591.98 371.41)" fill="#3a3a3a">12.29</text>
<text x="597.63" y="412.1" font-size="3.02" text-anchor="start" textLength="7.59" lengthAdjust="spacingAndGlyphs" transform="rotate(-90 597.63 412.1)" fill="#3a3a3a">10.35</text>
<text x="601.86" y="419.45" font-size="3.02" text-anchor="start" textLength="7.59" lengthAdjust="spacingAndGlyphs" transform="rotate(-90 601.86 419.45)" fill="#3a3a3a">10.00</text>
<text x="606.09" y="380.43" font-size="3.02" text-anchor="start" textLength="7.59" lengthAdjust="spacingAndGlyphs" transform="rotate(-90 606.09 380.43)" fill="#3a3a3a">11.86</text>
<text x="611.73" y="415.46" font-size="3.02" text-anchor="start" textLength="7.59" lengthAdjust="spacingAndGlyphs" transform="rotate(-90 611.73 415.46)" fill="#3a3a3a">10.19</text>
<text x="615.97" y="405.81" font-size="3.02" text-anchor="start" textLength="7.59" lengthAdjust="spacingAndGlyphs" transform="rotate(-90 615.97 405.81)" fill="#3a3a3a">10.65</text>
<text x="620.2" y="379.38" font-size="3.02" text-anchor="start" textLength="7.59" lengthAdjust="spacingAndGlyphs" transform="rotate(-90 620.2 379.38)" fill="#3a3a3a">11.91</text>
<text x="625.84" y="414.41" font-size="3.02" text-anchor="start" textLength="7.59" lengthAdjust="spacingAndGlyphs" transform="rotate(-90 625.84 414.41)" fill="#3a3a3a">10.24</text>
<text x="630.08" y="400.36" font-size="3.02" text-anchor="start" textLength="7.59" lengthAdjust="spacingAndGlyphs" transform="rotate(-90 630.08 400.36)" fill="#3a3a3a">10.91</text>
<text x="634.31" y="377.49" font-size="3.02" text-anchor="start" textLength="7.59" lengthAdjust="spacingAndGlyphs" transform="rotate(-90 634.31 377.49)" fill="#3a3a3a">12.00</text>
<text x="639.95" y="430.56" font-size="3.02" text-anchor="start" textLength="5.9" lengthAdjust="spacingAndGlyphs" transform="rotate(-90 639.95 430.56)" fill="#3a3a3a">9.47</text>
<text x="644.19" y="431.61" font-size="3.02" text-anchor="start" textLength="5.9" lengthAdjust="spacingAndGlyphs" transform="rotate(-90 644.19 431.61)" fill="#3a3a3a">9.42</text>
<text x="648.42" y="390.71" font-size="3.02" text-anchor="start" textLength="7.59" lengthAdjust="spacingAndGlyphs" transform="rotate(-90 648.42 390.71)" fill="#3a3a3a">11.37</text>
<text x="654.06" y="425.11" font-size="3.02" text-anchor="start" textLength="5.9" lengthAdjust="spacingAndGlyphs" transform="rotate(-90 654.06 425.11)" fill="#3a3a3a">9.73</text>
<text x="658.3" y="408.96" font-size="3.02" text-anchor="start" textLength="7.59" lengthAdjust="spacingAndGlyphs" transform="rotate(-90 658.3 408.96)" fill="#3a3a3a">10.50</text>
<text x="662.53" y="379.59" font-size="3.02" text-anchor="start" textLength="7.59" lengthAdjust="spacingAndGlyphs" transform="rotate(-90 662.53 379.59)" fill="#3a3a3a">11.90</text>
<text x="668.17" y="429.72" font-size="3.02" text-anchor="start" textLength="5.9" lengthAdjust="spacingAndGlyphs" transform="rotate(-90 668.17 429.72)" fill="#3a3a3a">9.51</text>
<text x="672.4" y="417.14" font-size="3.02" text-anchor="start" textLength="7.59" lengthAdjust="spacingAndGlyphs" transform="rotate(-90 672.4 417.14)" fill="#3a3a3a">10.11</text>
<text x="676.64" y="395.74" font-size="3.02" text-anchor="start" textLength="7.59" lengthAdjust="spacingAndGlyphs" transform="rotate(-90 676.64 395.74)" fill="#3a3a3a">11.13</text>
</g>
<g fill="#333" stroke="#333" stroke-width="0.08">
<text x="10.65" y="142.73" font-size="3.42" text-anchor="end" textLength="5.73" lengthAdjust="spacingAndGlyphs" transform="rotate(0.03 10.65 142.73)">100</text>
<text x="10.65" y="127.57" font-size="3.42" text-anchor="end" textLength="5.73" lengthAdjust="spacingAndGlyphs" transform="rotate(0.03 10.65 127.57)">150</text>
<text x="10.65" y="112.42" font-size="3.42" text-anchor="end" textLength="5.73" lengthAdjust="spacingAndGlyphs" transform="rotate(0.03 10.65 112.42)">200</text>
<text x="10.65" y="97.26" font-size="3.42" text-anchor="end" textLength="5.73" lengthAdjust="spacingAndGlyphs" transform="rotate(0.03 10.65 97.26)">250</text>
<text x="10.65" y="82.1" font-size="3.42" text-anchor="end" textLength="5.73" lengthAdjust="spacingAndGlyphs" transform="rotate(0.03 10.65 82.1)">300</text>
<text x="10.65" y="66.94" font-size="3.42" text-anchor="end" textLength="5.73" lengthAdjust="spacingAndGlyphs" transform="rotate(0.03 10.65 66.94)">350</text>
<text x="10.65" y="51.78" font-size="3.42" text-anchor="end" textLength="5.73" lengthAdjust="spacingAndGlyphs" transform="rotate(0.03 10.65 51.78)">400</text>
<text x="10.65" y="36.63" font-size="3.42" text-anchor="end" textLength="5.73" lengthAdjust="spacingAndGlyphs" transform="rotate(0.03 10.65 36.63)">450</text>
<text x="10.65" y="21.47" font-size="3.42" text-anchor="end" textLength="5.73" lengthAdjust="spacingAndGlyphs" transform="rotate(0.03 10.65 21.47)">500</text>
<text x="10.65" y="6.31" font-size="3.42" text-anchor="end" textLength="5.73" lengthAdjust="spacingAndGlyphs" transform="rotate(0.03 10.65 6.31)">550</text>
<text x="3.2" y="73.29" font-size="4.1" text-anchor="middle" textLength="35.88" lengthAdjust="spacingAndGlyphs" transform="rotate(-90 3.2 73.29)">FID (lower is better)</text>
<g transform="translate(26.18 150.35) rotate(-45)">
<text x="0" y="1.16" font-size="3.42" text-anchor="middle" textLength="14.91" lengthAdjust="spacingAndGlyphs" transform="rotate(0.03 0 1.16)">Number 0</text>
</g>
<g transform="translate(40.29 150.35) rotate(-45)">
<text x="0" y="1.16" font-size="3.42" text-anchor="middle" textLength="14.91" lengthAdjust="spacingAndGlyphs" transform="rotate(0.03 0 1.16)">Number 1</text>
</g>
<g transform="translate(54.4 150.35) rotate(-45)">
<text x="0" y="1.16" font-size="3.42" text-anchor="middle" textLength="14.91" lengthAdjust="spacingAndGlyphs" transform="rotate(0.03 0 1.16)">Number 2</text>
</g>
<g transform="translate(68.51 150.35) rotate(-45)">
<text x="0" y="1.16" font-size="3.42" text-anchor="middle" textLength="14.91" lengthAdjust="spacingAndGlyphs" transform="rotate(0.03 0 1.16)">Number 3</text>
</g>
<g transform="translate(82.62 150.35) rotate(-45)">
<text x="0" y="1.16" font-size="3.42" text-anchor="middle" textLength="14.91" lengthAdjust="spacingAndGlyphs" transform="rotate(0.03 0 1.16)">Number 4</text>
</g>
<g transform="translate(96.73 150.35) rotate(-45)">
<text x="0" y="1.16" font-size="3.42" text-anchor="middle" textLength="14.91" lengthAdjust="spacingAndGlyphs" transform="rotate(0.03 0 1.16)">Number 5</text>
</g>
<g transform="translate(110.84 150.35) rotate(-45)">
<text x="0" y="1.16" font-size="3.42" text-anchor="middle" textLength="14.91" lengthAdjust="spacingAndGlyphs" transform="rotate(0.03 0 1.16)">Number 6</text>
</g>
<g transform="translate(124.95 150.35) rotate(-45)">
<text x="0" y="1.16" font-size="3.42" text-anchor="middle" textLength="14.91" lengthAdjust="spacingAndGlyphs" transform="rotate(0.03 0 1.16)">Number 7</text>
</g>
<g transform="translate(139.06 150.35) rotate(-45)">
<text x="0" y="1.16" font-size="3.42" text-anchor="middle" textLength="14.91" lengthAdjust="spacingAndGlyphs" transform="rotate(0.03 0 1.16)">Number 8</text>
</g>
<g transform="translate(153.17 150.35) rotate(-45)">
<text x="0" y="1.16" font-size="3.42" text-anchor="middle" textLength="14.91" lengthAdjust="spacingAndGlyphs" transform="rotate(0.03 0 1.16)">Number 9</text>
</g>
<text x="113.58" y="9.88" font-size="3.42" text-anchor="start" textLength="35.18" lengthAdjust="spacingAndGlyphs" transform="rotate(0.03 113.58 9.88)">2-layer quantum circuit</text>
<text x="113.58" y="14.33" font-size="3.42" text-anchor="start" textLength="29.99" lengthAdjust="spacingAndGlyphs" transform="rotate(0.03 113.58 14.33)">only neural network</text>
<text x="113.58" y="18.78" font-size="3.42" text-anchor="start" textLength="50.22" lengthAdjust="spacingAndGlyphs" transform="rotate(0.03 113.58 18.78)">2-layer quantum+neural network</text>
<text x="183.3" y="142.73" font-size="3.42" text-anchor="end" textLength="6.68" lengthAdjust="spacingAndGlyphs" transform="rotate(0.03 183.3 142.73)">0.10</text>
<text x="183.3" y="123.24" font-size="3.42" text-anchor="end" textLength="6.68" lengthAdjust="spacingAndGlyphs" transform="rotate(0.03 183.3 123.24)">0.15</text>
<text x="183.3" y="103.75" font-size="3.42" text-anchor="end" textLength="6.68" lengthAdjust="spacingAndGlyphs" transform="rotate(0.03 183.3 103.75)">0.20</text>
<text x="183.3" y="84.27" font-size="3.42" text-anchor="end" textLength="6.68" lengthAdjust="spacingAndGlyphs" transform="rotate(0.03 183.3 84.27)">0.25</text>
<text x="183.3" y="64.78" font-size="3.42" text-anchor="end" textLength="6.68" lengthAdjust="spacingAndGlyphs" transform="rotate(0.03 183.3 64.78)">0.30</text>
<text x="183.3" y="45.29" font-size="3.42" text-anchor="end" textLength="6.68" lengthAdjust="spacingAndGlyphs" transform="rotate(0.03 183.3 45.29)">0.35</text>
<text x="183.3" y="25.8" font-size="3.42" text-anchor="end" textLength="6.68" lengthAdjust="spacingAndGlyphs" transform="rotate(0.03 183.3 25.8)">0.40</text>
<text x="183.3" y="6.31" font-size="3.42" text-anchor="end" textLength="6.68" lengthAdjust="spacingAndGlyphs" transform="rotate(0.03 183.3 6.31)">0.45</text>
<text x="174.9" y="73.29" font-size="4.1" text-anchor="middle" textLength="40.42" lengthAdjust="spacingAndGlyphs" transform="rotate(-90 174.9 73.29)">SSIM (higher is better)</text>
<g transform="translate(198.83 150.35) rotate(-45)">
<text x="0" y="1.16" font-size="3.42" text-anchor="middle" textLength="14.91" lengthAdjust="spacingAndGlyphs" transform="rotate(0.03 0 1.16)">Number 0</text>
</g>
<g transform="translate(212.94 150.35) rotate(-45)">
<text x="0" y="1.16" font-size="3.42" text-anchor="middle" textLength="14.91" lengthAdjust="spacingAndGlyphs" transform="rotate(0.03 0 1.16)">Number 1</text>
</g>
<g transform="translate(227.05 150.35) rotate(-45)">
<text x="0" y="1.16" font-size="3.42" text-anchor="middle" textLength="14.91" lengthAdjust="spacingAndGlyphs" transform="rotate(0.03 0 1.16)">Number 2</text>
</g>
<g transform="translate(241.16 150.35) rotate(-45)">
<text x="0" y="1.16" font-size="3.42" text-anchor="middle" textLength="14.91" lengthAdjust="spacingAndGlyphs" transform="rotate(0.03 0 1.16)">Number 3</text>
</g>
<g transform="translate(255.27 150.35) rotate(-45)">
<text x="0" y="1.16" font-size="3.42" text-anchor="middle" textLength="14.91" lengthAdjust="spacingAndGlyphs" transform="rotate(0.03 0 1.16)">Number 4</text>
</g>
<g transform="translate(269.38 150.35) rotate(-45)">
<text x="0" y="1.16" font-size="3.42" text-anchor="middle" textLength="14.91" lengthAdjust="spacingAndGlyphs" transform="rotate(0.03 0 1.16)">Number 5</text>
</g>
<g transform="translate(283.49 150.35) rotate(-45)">
<text x="0" y="1.16" font-size="3.42" text-anchor="middle" textLength="14.91" lengthAdjust="spacingAndGlyphs" transform="rotate(0.03 0 1.16)">Number 6</text>
</g>
<g transform="translate(297.6 150.35) rotate(-45)">
<text x="0" y="1.16" font-size="3.42" text-anchor="middle" textLength="14.91" lengthAdjust="spacingAndGlyphs" transform="rotate(0.03 0 1.16)">Number 7</text>
</g>
<g transform="translate(311.71 150.35) rotate(-45)">
<text x="0" y="1.16" font-size="3.42" text-anchor="middle" textLength="14.91" lengthAdjust="spacingAndGlyphs" transform="rotate(0.03 0 1.16)">Number 8</text>
</g>
<g transform="translate(325.82 150.35) rotate(-45)">
<text x="0" y="1.16" font-size="3.42" text-anchor="middle" textLength="14.91" lengthAdjust="spacingAndGlyphs" transform="rotate(0.03 0 1.16)">Number 9</text>
</g>
<text x="286.23" y="9.88" font-size="3.42" text-anchor="start" textLength="35.18" lengthAdjust="spacingAndGlyphs" transform="rotate(0.03 286.23 9.88)">2-layer quantum circuit</text>
<text x="286.23" y="14.33" font-size="3.42" text-anchor="start" textLength="29.99" lengthAdjust="spacingAndGlyphs" transform="rotate(0.03 286.23 14.33)">only neural network</text>
<text x="286.23" y="18.78" font-size="3.42" text-anchor="start" textLength="50.22" lengthAdjust="spacingAndGlyphs" transform="rotate(0.03 286.23 18.78)">2-layer quantum+neural network</text>
<text x="356.1" y="142.73" font-size="3.42" text-anchor="end" textLength="6.68" lengthAdjust="spacingAndGlyphs" transform="rotate(0.03 356.1 142.73)">0.80</text>
<text x="356.1" y="119.99" font-size="3.42" text-anchor="end" textLength="6.68" lengthAdjust="spacingAndGlyphs" transform="rotate(0.03 356.1 119.99)">0.85</text>
<text x="356.1" y="97.26" font-size="3.42" text-anchor="end" textLength="6.68" lengthAdjust="spacingAndGlyphs" transform="rotate(0.03 356.1 97.26)">0.90</text>
<text x="356.1" y="74.52" font-size="3.42" text-anchor="end" textLength="6.68" lengthAdjust="spacingAndGlyphs" transform="rotate(0.03 356.1 74.52)">0.95</text>
<text x="356.1" y="51.78" font-size="3.42" text-anchor="end" textLength="6.68" lengthAdjust="spacingAndGlyphs" transform="rotate(0.03 356.1 51.78)">1.00</text>
<text x="356.1" y="29.05" font-size="3.42" text-anchor="end" textLength="6.68" lengthAdjust="spacingAndGlyphs" transform="rotate(0.03 356.1 29.05)">1.05</text>
<text x="356.1" y="6.31" font-size="3.42" text-anchor="end" textLength="6.68" lengthAdjust="spacingAndGlyphs" transform="rotate(0.03 356.1 6.31)">1.10</text>
<text x="347.7" y="73.29" font-size="4.1" text-anchor="middle" textLength="47.06" lengthAdjust="spacingAndGlyphs" transform="rotate(-90 347.7 73.29)">COS-SIM (higher is better)</text>
<g transform="translate(371.63 150.35) rotate(-45)">
<text x="0" y="1.16" font-size="3.42" text-anchor="middle" textLength="14.91" lengthAdjust="spacingAndGlyphs" transform="rotate(0.03 0 1.16)">Number 0</text>
</g>
<g transform="translate(385.74 150.35) rotate(-45)">
<text x="0" y="1.16" font-size="3.42" text-anchor="middle" textLength="14.91" lengthAdjust="spacingAndGlyphs" transform="rotate(0.03 0 1.16)">Number 1</text>
</g>
<g transform="translate(399.85 150.35) rotate(-45)">
<text x="0" y="1.16" font-size="3.42" text-anchor="middle" textLength="14.91" lengthAdjust="spacingAndGlyphs" transform="rotate(0.03 0 1.16)">Number 2</text>
</g>
<g transform="translate(413.96 150.35) rotate(-45)">
<text x="0" y="1.16" font-size="3.42" text-anchor="middle" textLength="14.91" lengthAdjust="spacingAndGlyphs" transform="rotate(0.03 0 1.16)">Number 3</text>
</g>
<g transform="translate(428.07 150.35) rotate(-45)">
<text x="0" y="1.16" font-size="3.42" text-anchor="middle" textLength="14.91" lengthAdjust="spacingAndGlyphs" transform="rotate(0.03 0 1.16)">Number 4</text>
</g>
<g transform="translate(442.18 150.35) rotate(-45)">
<text x="0" y="1.16" font-size="3.42" text-anchor="middle" textLength="14.91" lengthAdjust="spacingAndGlyphs" transform="rotate(0.03 0 1.16)">Number 5</text>
</g>
<g transform="translate(456.29 150.35) rotate(-45)">
<text x="0" y="1.16" font-size="3.42" text-anchor="middle" textLength="14.91" lengthAdjust="spacingAndGlyphs" transform="rotate(0.03 0 1.16)">Number 6</text>
</g>
<g transform="translate(470.4 150.35) rotate(-45)">
<text x="0" y="1.16" font-size="3.42" text-anchor="middle" textLength="14.91" lengthAdjust="spacingAndGlyphs" transform="rotate(0.03 0 1.16)">Number 7</text>
</g>
<g transform="translate(484.51 150.35) rotate(-45)">
<text x="0" y="1.16" font-size="3.42" text-anchor="middle" textLength="14.91" lengthAdjust="spacingAndGlyphs" transform="rotate(0.03 0 1.16)">Number 8</text>
</g>
<g transform="translate(498.62 150.35) rotate(-45)">
<text x="0" y="1.16" font-size="3.42" text-anchor="middle" textLength="14.91" lengthAdjust="spacingAndGlyphs" transform="rotate(0.03 0 1.16)">Number 9</text>
</g>
<text x="459.03" y="9.88" font-size="3.42" text-anchor="start" textLength="35.18" lengthAdjust="spacingAndGlyphs" transform="rotate(0.03 459.03 9.88)">2-layer quantum circuit</text>
<text x="459.03" y="14.33" font-size="3.42" text-anchor="start" textLength="29.99" lengthAdjust="spacingAndGlyphs" transform="rotate(0.03 459.03 14.33)">only neural network</text>
<text x="459.03" y="18.78" font-size="3.42" text-anchor="start" textLength="50.22" lengthAdjust="spacingAndGlyphs" transform="rotate(0.03 459.03 18.78)">2-layer quantum+neural network</text>
<text x="528.8" y="142.73" font-size="3.42" text-anchor="end" textLength="3.82" lengthAdjust="spacingAndGlyphs" transform="rotate(0.03 528.8 142.73)">10</text>
<text x="528.8" y="119.99" font-size="3.42" text-anchor="end" textLength="3.82" lengthAdjust="spacingAndGlyphs" transform="rotate(0.03 528.8 119.99)">11</text>
<text x="528.8" y="97.26" font-size="3.42" text-anchor="end" textLength="3.82" lengthAdjust="spacingAndGlyphs" transform="rotate(0.03 528.8 97.26)">12</text>
<text x="528.8" y="74.52" font-size="3.42" text-anchor="end" textLength="3.82" lengthAdjust="spacingAndGlyphs" transform="rotate(0.03 528.8 74.52)">13</text>
<text x="528.8" y="51.78" font-size="3.42" text-anchor="end" textLength="3.82" lengthAdjust="spacingAndGlyphs" transform="rotate(0.03 528.8 51.78)">14</text>
<text x="528.8" y="29.05" font-size="3.42" text-anchor="end" textLength="3.82" lengthAdjust="spacingAndGlyphs" transform="rotate(0.03 528.8 29.05)">15</text>
<text x="528.8" y="6.31" font-size="3.42" text-anchor="end" textLength="3.82" lengthAdjust="spacingAndGlyphs" transform="rotate(0.03 528.8 6.31)">16</text>
<text x="523.26" y="73.29" font-size="4.1" text-anchor="middle" textLength="41.33" lengthAdjust="spacingAndGlyphs" transform="rotate(-90 523.26 73.29)">PSNR (higher is better)</text>
<g transform="translate(544.33 150.35) rotate(-45)">
<text x="0" y="1.16" font-size="3.42" text-anchor="middle" textLength="14.91" lengthAdjust="spacingAndGlyphs" transform="rotate(0.03 0 1.16)">Number 0</text>
</g>
<g transform="translate(558.44 150.35) rotate(-45)">
<text x="0" y="1.16" font-size="3.42" text-anchor="middle" textLength="14.91" lengthAdjust="spacingAndGlyphs" transform="rotate(0.03 0 1.16)">Number 1</text>
</g>
<g transform="translate(572.55 150.35) rotate(-45)">
<text x="0" y="1.16" font-size="3.42" text-anchor="middle" textLength="14.91" lengthAdjust="spacingAndGlyphs" transform="rotate(0.03 0 1.16)">Number 2</text>
</g>
<g transform="translate(586.66 150.35) rotate(-45)">
<text x="0" y="1.16" font-size="3.42" text-anchor="middle" textLength="14.91" lengthAdjust="spacingAndGlyphs" transform="rotate(0.03 0 1.16)">Number 3</text>
</g>
<g transform="translate(600.77 150.35) rotate(-45)">
<text x="0" y="1.16" font-size="3.42" text-anchor="middle" textLength="14.91" lengthAdjust="spacingAndGlyphs" transform="rotate(0.03 0 1.16)">Number 4</text>
</g>
<g transform="translate(614.88 150.35) rotate(-45)">
<text x="0" y="1.16" font-size="3.42" text-anchor="middle" textLength="14.91" lengthAdjust="spacingAndGlyphs" transform="rotate(0.03 0 1.16)">Number 5</text>
</g>
<g transform="translate(628.99 150.35) rotate(-45)">
<text x="0" y="1.16" font-size="3.42" text-anchor="middle" textLength="14.91" lengthAdjust="spacingAndGlyphs" transform="rotate(0.03 0 1.16)">Number 6</text>
</g>
<g transform="translate(643.1 150.35) rotate(-45)">
<text x="0" y="1.16" font-size="3.42" text-anchor="middle" textLength="14.91" lengthAdjust="spacingAndGlyphs" transform="rotate(0.03 0 1.16)">Number 7</text>
</g>
<g transform="translate(657.21 150.35) rotate(-45)">
<text x="0" y="1.16" font-size="3.42" text-anchor="middle" textLength="14.91" lengthAdjust="spacingAndGlyphs" transform="rotate(0.03 0 1.16)">Number 8</text>
</g>
<g transform="translate(671.32 150.35) rotate(-45)">
<text x="0" y="1.16" font-size="3.42" text-anchor="middle" textLength="14.91" lengthAdjust="spacingAndGlyphs" transform="rotate(0.03 0 1.16)">Number 9</text>
</g>
<text x="631.73" y="9.88" font-size="3.42" text-anchor="start" textLength="35.18" lengthAdjust="spacingAndGlyphs" transform="rotate(0.03 631.73 9.88)">2-layer quantum circuit</text>
<text x="631.73" y="14.33" font-size="3.42" text-anchor="start" textLength="29.99" lengthAdjust="spacingAndGlyphs" transform="rotate(0.03 631.73 14.33)">only neural network</text>
<text x="631.73" y="18.78" font-size="3.42" text-anchor="start" textLength="50.22" lengthAdjust="spacingAndGlyphs" transform="rotate(0.03 631.73 18.78)">2-layer quantum+neural network</text>
<text x="10.65" y="303.03" font-size="3.42" text-anchor="end" textLength="5.73" lengthAdjust="spacingAndGlyphs" transform="rotate(0.03 10.65 303.03)">100</text>
<text x="10.65" y="283.56" font-size="3.42" text-anchor="end" textLength="5.73" lengthAdjust="spacingAndGlyphs" transform="rotate(0.03 10.65 283.56)">200</text>
<text x="10.65" y="264.09" font-size="3.42" text-anchor="end" textLength="5.73" lengthAdjust="spacingAndGlyphs" transform="rotate(0.03 10.65 264.09)">300</text>
<text x="10.65" y="244.62" font-size="3.42" text-anchor="end" textLength="5.73" lengthAdjust="spacingAndGlyphs" transform="rotate(0.03 10.65 244.62)">400</text>
<text x="10.65" y="225.15" font-size="3.42" text-anchor="end" textLength="5.73" lengthAdjust="spacingAndGlyphs" transform="rotate(0.03 10.65 225.15)">500</text>
<text x="10.65" y="205.67" font-size="3.42" text-anchor="end" textLength="5.73" lengthAdjust="spacingAndGlyphs" transform="rotate(0.03 10.65 205.67)">600</text>
<text x="10.65" y="186.2" font-size="3.42" text-anchor="end" textLength="5.73" lengthAdjust="spacingAndGlyphs" transform="rotate(0.03 10.65 186.2)">700</text>
<text x="10.65" y="166.73" font-size="3.42" text-anchor="end" textLength="5.73" lengthAdjust="spacingAndGlyphs" transform="rotate(0.03 10.65 166.73)">800</text>
<text x="3.2" y="233.65" font-size="4.1" text-anchor="middle" textLength="35.88" lengthAdjust="spacingAndGlyphs" transform="rotate(-90 3.2 233.65)">FID (lower is better)</text>
<g transform="translate(26.18 308.69) rotate(-45)">
<text x="0" y="1.16" font-size="3.42" text-anchor="middle" textLength="9.35" lengthAdjust="spacingAndGlyphs" transform="rotate(0.03 0 1.16)">T-shirt</text>
</g>
<g transform="translate(40.29 309.25) rotate(-45)">
<text x="0" y="1.16" font-size="3.42" text-anchor="middle" textLength="10.94" lengthAdjust="spacingAndGlyphs" transform="rotate(0.03 0 1.16)">Trouser</text>
</g>
<g transform="translate(54.4 309.63) rotate(-45)">
<text x="0" y="1.16" font-size="3.42" text-anchor="middle" textLength="12.01" lengthAdjust="spacingAndGlyphs" transform="rotate(0.03 0 1.16)">Pullover</text>
</g>
<g transform="translate(68.51 308.37) rotate(-45)">
<text x="0" y="1.16" font-size="3.42" text-anchor="middle" textLength="8.45" lengthAdjust="spacingAndGlyphs" transform="rotate(0.03 0 1.16)">Dress</text>
</g>
<g transform="translate(82.62 307.84) rotate(-45)">
<text x="0" y="1.16" font-size="3.42" text-anchor="middle" textLength="6.94" lengthAdjust="spacingAndGlyphs" transform="rotate(0.03 0 1.16)">Coat</text>
</g>
<g transform="translate(96.73 308.99) rotate(-45)">
<text x="0" y="1.16" font-size="3.42" text-anchor="middle" textLength="10.22" lengthAdjust="spacingAndGlyphs" transform="rotate(0.03 0 1.16)">Sandal</text>
</g>
<g transform="translate(110.84 307.87) rotate(-45)">
<text x="0" y="1.16" font-size="3.42" text-anchor="middle" textLength="7.05" lengthAdjust="spacingAndGlyphs" transform="rotate(0.03 0 1.16)">Shirt</text>
</g>
<g transform="translate(124.95 309.69) rotate(-45)">
<text x="0" y="1.16" font-size="3.42" text-anchor="middle" textLength="12.2" lengthAdjust="spacingAndGlyphs" transform="rotate(0.03 0 1.16)">Sneaker</text>
</g>
<g transform="translate(139.06 307.43) rotate(-45)">
<text x="0" y="1.16" font-size="3.42" text-anchor="middle" textLength="5.8" lengthAdjust="spacingAndGlyphs" transform="rotate(0.03 0 1.16)">Bag</text>
</g>
<g transform="translate(153.17 311.06) rotate(-45)">
<text x="0" y="1.16" font-size="3.42" text-anchor="middle" textLength="16.08" lengthAdjust="spacingAndGlyphs" transform="rotate(0.03 0 1.16)">Ankle boot</text>
</g>
<text x="113.58" y="170.3" font-size="3.42" text-anchor="start" textLength="35.18" lengthAdjust="spacingAndGlyphs" transform="rotate(0.03 113.58 170.3)">2-layer quantum circuit</text>
<text x="113.58" y="174.75" font-size="3.42" text-anchor="start" textLength="29.99" lengthAdjust="spacingAndGlyphs" transform="rotate(0.03 113.58 174.75)">only neural network</text>
<text x="113.58" y="179.2" font-size="3.42" text-anchor="start" textLength="50.22" lengthAdjust="spacingAndGlyphs" transform="rotate(0.03 113.58 179.2)">2-layer quantum+neural network</text>
<text x="183.3" y="303.03" font-size="3.42" text-anchor="end" textLength="4.77" lengthAdjust="spacingAndGlyphs" transform="rotate(0.03 183.3 303.03)">0.0</text>
<text x="183.3" y="276.82" font-size="3.42" text-anchor="end" textLength="4.77" lengthAdjust="spacingAndGlyphs" transform="rotate(0.03 183.3 276.82)">0.1</text>
<text x="183.3" y="250.61" font-size="3.42" text-anchor="end" textLength="4.77" lengthAdjust="spacingAndGlyphs" transform="rotate(0.03 183.3 250.61)">0.2</text>
<text x="183.3" y="224.4" font-size="3.42" text-anchor="end" textLength="4.77" lengthAdjust="spacingAndGlyphs" transform="rotate(0.03 183.3 224.4)">0.3</text>
<text x="183.3" y="198.19" font-size="3.42" text-anchor="end" textLength="4.77" lengthAdjust="spacingAndGlyphs" transform="rotate(0.03 183.3 198.19)">0.4</text>
<text x="183.3" y="171.97" font-size="3.42" text-anchor="end" textLength="4.77" lengthAdjust="spacingAndGlyphs" transform="rotate(0.03 183.3 171.97)">0.5</text>
<text x="176.81" y="233.65" font-size="4.1" text-anchor="middle" textLength="40.42" lengthAdjust="spacingAndGlyphs" transform="rotate(-90 176.81 233.65)">SSIM (higher is better)</text>
<g transform="translate(198.83 308.69) rotate(-45)">
<text x="0" y="1.16" font-size="3.42" text-anchor="middle" textLength="9.35" lengthAdjust="spacingAndGlyphs" transform="rotate(0.03 0 1.16)">T-shirt</text>
</g>
<g transform="translate(212.94 309.25) rotate(-45)">
<text x="0" y="1.16" font-size="3.42" text-anchor="middle" textLength="10.94" lengthAdjust="spacingAndGlyphs" transform="rotate(0.03 0 1.16)">Trouser</text>
</g>
<g transform="translate(227.05 309.63) rotate(-45)">
<text x="0" y="1.16" font-size="3.42" text-anchor="middle" textLength="12.01" lengthAdjust="spacingAndGlyphs" transform="rotate(0.03 0 1.16)">Pullover</text>
</g>
<g transform="translate(241.16 308.37) rotate(-45)">
<text x="0" y="1.16" font-size="3.42" text-anchor="middle" textLength="8.45" lengthAdjust="spacingAndGlyphs" transform="rotate(0.03 0 1.16)">Dress</text>
</g>
<g transform="translate(255.27 307.84) rotate(-45)">
<text x="0" y="1.16" font-size="3.42" text-anchor="middle" textLength="6.94" lengthAdjust="spacingAndGlyphs" transform="rotate(0.03 0 1.16)">Coat</text>
</g>
<g transform="translate(269.38 308.99) rotate(-45)">
<text x="0" y="1.16" font-size="3.42" text-anchor="middle" textLength="10.22" lengthAdjust="spacingAndGlyphs" transform="rotate(0.03 0 1.16)">Sandal</text>
</g>
<g transform="translate(283.49 307.87) rotate(-45)">
<text x="0" y="1.16" font-size="3.42" text-anchor="middle" textLength="7.05" lengthAdjust="spacingAndGlyphs" transform="rotate(0.03 0 1.16)">Shirt</text>
</g>
<g transform="translate(297.6 309.69) rotate(-45)">
<text x="0" y="1.16" font-size="3.42" text-anchor="middle" textLength="12.2" lengthAdjust="spacingAndGlyphs" transform="rotate(0.03 0 1.16)">Sneaker</text>
</g>
<g transform="translate(311.71 307.43) rotate(-45)">
<text x="0" y="1.16" font-size="3.42" text-anchor="middle" textLength="5.8" lengthAdjust="spacingAndGlyphs" transform="rotate(0.03 0 1.16)">Bag</text>
</g>
<g transform="translate(325.82 311.06) rotate(-45)">
<text x="0" y="1.16" font-size="3.42" text-anchor="middle" textLength="16.08" lengthAdjust="spacingAndGlyphs" transform="rotate(0.03 0 1.16)">Ankle boot</text>
</g>
<text x="286.23" y="170.3" font-size="3.42" text-anchor="start" textLength="35.18" lengthAdjust="spacingAndGlyphs" transform="rotate(0.03 286.23 170.3)">2-layer quantum circuit</text>
<text x="286.23" y="174.75" font-size="3.42" text-anchor="start" textLength="29.99" lengthAdjust="spacingAndGlyphs" transform="rotate(0.03 286.23 174.75)">only neural network</text>
<text x="286.23" y="179.2" font-size="3.42" text-anchor="start" textLength="50.22" lengthAdjust="spacingAndGlyphs" transform="rotate(0.03 286.23 179.2)">2-layer quantum+neural network</text>
<text x="356.1" y="303.03" font-size="3.42" text-anchor="end" textLength="6.68" lengthAdjust="spacingAndGlyphs" transform="rotate(0.03 356.1 303.03)">0.70</text>
<text x="356.1" y="285.99" font-size="3.42" text-anchor="end" textLength="6.68" lengthAdjust="spacingAndGlyphs" transform="rotate(0.03 356.1 285.99)">0.75</text>
<text x="356.1" y="268.96" font-size="3.42" text-anchor="end" textLength="6.68" lengthAdjust="spacingAndGlyphs" transform="rotate(0.03 356.1 268.96)">0.80</text>
<text x="356.1" y="251.92" font-size="3.42" text-anchor="end" textLength="6.68" lengthAdjust="spacingAndGlyphs" transform="rotate(0.03 356.1 251.92)">0.85</text>
<text x="356.1" y="234.88" font-size="3.42" text-anchor="end" textLength="6.68" lengthAdjust="spacingAndGlyphs" transform="rotate(0.03 356.1 234.88)">0.90</text>
<text x="356.1" y="217.84" font-size="3.42" text-anchor="end" textLength="6.68" lengthAdjust="spacingAndGlyphs" transform="rotate(0.03 356.1 217.84)">0.95</text>
<text x="356.1" y="200.81" font-size="3.42" text-anchor="end" textLength="6.68" lengthAdjust="spacingAndGlyphs" transform="rotate(0.03 356.1 200.81)">1.00</text>
<text x="356.1" y="183.77" font-size="3.42" text-anchor="end" textLength="6.68" lengthAdjust="spacingAndGlyphs" transform="rotate(0.03 356.1 183.77)">1.05</text>
<text x="356.1" y="166.73" font-size="3.42" text-anchor="end" textLength="6.68" lengthAdjust="spacingAndGlyphs" transform="rotate(0.03 356.1 166.73)">1.10</text>
<text x="347.7" y="233.65" font-size="4.1" text-anchor="middle" textLength="47.06" lengthAdjust="spacingAndGlyphs" transform="rotate(-90 347.7 233.65)">COS-SIM (higher is better)</text>
<g transform="translate(371.63 308.69) rotate(-45)">
<text x="0" y="1.16" font-size="3.42" text-anchor="middle" textLength="9.35" lengthAdjust="spacingAndGlyphs" transform="rotate(0.03 0 1.16)">T-shirt</text>
</g>
<g transform="translate(385.74 309.25) rotate(-45)">
<text x="0" y="1.16" font-size="3.42" text-anchor="middle" textLength="10.94" lengthAdjust="spacingAndGlyphs" transform="rotate(0.03 0 1.16)">Trouser</text>
</g>
<g transform="translate(399.85 309.63) rotate(-45)">
<text x="0" y="1.16" font-size="3.42" text-anchor="middle" textLength="12.01" lengthAdjust="spacingAndGlyphs" transform="rotate(0.03 0 1.16)">Pullover</text>
</g>
<g transform="translate(413.96 308.37) rotate(-45)">
<text x="0" y="1.16" font-size="3.42" text-anchor="middle" textLength="8.45" lengthAdjust="spacingAndGlyphs" transform="rotate(0.03 0 1.16)">Dress</text>
</g>
<g transform="translate(428.07 307.84) rotate(-45)">
<text x="0" y="1.16" font-size="3.42" text-anchor="middle" textLength="6.94" lengthAdjust="spacingAndGlyphs" transform="rotate(0.03 0 1.16)">Coat</text>
</g>
<g transform="translate(442.18 308.99) rotate(-45)">
<text x="0" y="1.16" font-size="3.42" text-anchor="middle" textLength="10.22" lengthAdjust="spacingAndGlyphs" transform="rotate(0.03 0 1.16)">Sandal</text>
</g>
<g transform="translate(456.29 307.87) rotate(-45)">
<text x="0" y="1.16" font-size="3.42" text-anchor="middle" textLength="7.05" lengthAdjust="spacingAndGlyphs" transform="rotate(0.03 0 1.16)">Shirt</text>
</g>
<g transform="translate(470.4 309.69) rotate(-45)">
<text x="0" y="1.16" font-size="3.42" text-anchor="middle" textLength="12.2" lengthAdjust="spacingAndGlyphs" transform="rotate(0.03 0 1.16)">Sneaker</text>
</g>
<g transform="translate(484.51 307.43) rotate(-45)">
<text x="0" y="1.16" font-size="3.42" text-anchor="middle" textLength="5.8" lengthAdjust="spacingAndGlyphs" transform="rotate(0.03 0 1.16)">Bag</text>
</g>
<g transform="translate(498.62 311.06) rotate(-45)">
<text x="0" y="1.16" font-size="3.42" text-anchor="middle" textLength="16.08" lengthAdjust="spacingAndGlyphs" transform="rotate(0.03 0 1.16)">Ankle boot</text>
</g>
<text x="459.03" y="170.3" font-size="3.42" text-anchor="start" textLength="35.18" lengthAdjust="spacingAndGlyphs" transform="rotate(0.03 459.03 170.3)">2-layer quantum circuit</text>
<text x="459.03" y="174.75" font-size="3.42" text-anchor="start" textLength="29.99" lengthAdjust="spacingAndGlyphs" transform="rotate(0.03 459.03 174.75)">only neural network</text>
<text x="459.03" y="179.2" font-size="3.42" text-anchor="start" textLength="50.22" lengthAdjust="spacingAndGlyphs" transform="rotate(0.03 459.03 179.2)">2-layer quantum+neural network</text>
<text x="528.8" y="303.03" font-size="3.42" text-anchor="end" textLength="1.91" lengthAdjust="spacingAndGlyphs" transform="rotate(0.03 528.8 303.03)">8</text>
<text x="528.8" y="275.77" font-size="3.42" text-anchor="end" textLength="3.82" lengthAdjust="spacingAndGlyphs" transform="rotate(0.03 528.8 275.77)">10</text>
<text x="528.8" y="248.51" font-size="3.42" text-anchor="end" textLength="3.82" lengthAdjust="spacingAndGlyphs" transform="rotate(0.03 528.8 248.51)">12</text>
<text x="528.8" y="221.25" font-size="3.42" text-anchor="end" textLength="3.82" lengthAdjust="spacingAndGlyphs" transform="rotate(0.03 528.8 221.25)">14</text>
<text x="528.8" y="193.99" font-size="3.42" text-anchor="end" textLength="3.82" lengthAdjust="spacingAndGlyphs" transform="rotate(0.03 528.8 193.99)">16</text>
<text x="528.8" y="166.73" font-size="3.42" text-anchor="end" textLength="3.82" lengthAdjust="spacingAndGlyphs" transform="rotate(0.03 528.8 166.73)">18</text>
<text x="523.26" y="233.65" font-size="4.1" text-anchor="middle" textLength="41.33" lengthAdjust="spacingAndGlyphs" transform="rotate(-90 523.26 233.65)">PSNR (higher is better)</text>
<g transform="translate(544.33 308.69) rotate(-45)">
<text x="0" y="1.16" font-size="3.42" text-anchor="middle" textLength="9.35" lengthAdjust="spacingAndGlyphs" transform="rotate(0.03 0 1.16)">T-shirt</text>
</g>
<g transform="translate(558.44 309.25) rotate(-45)">
<text x="0" y="1.16" font-size="3.42" text-anchor="middle" textLength="10.94" lengthAdjust="spacingAndGlyphs" transform="rotate(0.03 0 1.16)">Trouser</text>
</g>
<g transform="translate(572.55 309.63) rotate(-45)">
<text x="0" y="1.16" font-size="3.42" text-anchor="middle" textLength="12.01" lengthAdjust="spacingAndGlyphs" transform="rotate(0.03 0 1.16)">Pullover</text>
</g>
<g transform="translate(586.66 308.37) rotate(-45)">
<text x="0" y="1.16" font-size="3.42" text-anchor="middle" textLength="8.45" lengthAdjust="spacingAndGlyphs" transform="rotate(0.03 0 1.16)">Dress</text>
</g>
<g transform="translate(600.77 307.84) rotate(-45)">
<text x="0" y="1.16" font-size="3.42" text-anchor="middle" textLength="6.94" lengthAdjust="spacingAndGlyphs" transform="rotate(0.03 0 1.16)">Coat</text>
</g>
<g transform="translate(614.88 308.99) rotate(-45)">
<text x="0" y="1.16" font-size="3.42" text-anchor="middle" textLength="10.22" lengthAdjust="spacingAndGlyphs" transform="rotate(0.03 0 1.16)">Sandal</text>
</g>
<g transform="translate(628.99 307.87) rotate(-45)">
<text x="0" y="1.16" font-size="3.42" text-anchor="middle" textLength="7.05" lengthAdjust="spacingAndGlyphs" transform="rotate(0.03 0 1.16)">Shirt</text>
</g>
<g transform="translate(643.1 309.69) rotate(-45)">
<text x="0" y="1.16" font-size="3.42" text-anchor="middle" textLength="12.2" lengthAdjust="spacingAndGlyphs" transform="rotate(0.03 0 1.16)">Sneaker</text>
</g>
<g transform="translate(657.21 307.43) rotate(-45)">
<text x="0" y="1.16" font-size="3.42" text-anchor="middle" textLength="5.8" lengthAdjust="spacingAndGlyphs" transform="rotate(0.03 0 1.16)">Bag</text>
</g>
<g transform="translate(671.32 311.06) rotate(-45)">
<text x="0" y="1.16" font-size="3.42" text-anchor="middle" textLength="16.08" lengthAdjust="spacingAndGlyphs" transform="rotate(0.03 0 1.16)">Ankle boot</text>
</g>
<text x="631.73" y="170.3" font-size="3.42" text-anchor="start" textLength="35.18" lengthAdjust="spacingAndGlyphs" transform="rotate(0.03 631.73 170.3)">2-layer quantum circuit</text>
<text x="631.73" y="174.75" font-size="3.42" text-anchor="start" textLength="29.99" lengthAdjust="spacingAndGlyphs" transform="rotate(0.03 631.73 174.75)">only neural network</text>
<text x="631.73" y="179.2" font-size="3.42" text-anchor="start" textLength="50.22" lengthAdjust="spacingAndGlyphs" transform="rotate(0.03 631.73 179.2)">2-layer quantum+neural network</text>
<text x="10.65" y="440.66" font-size="3.42" text-anchor="end" textLength="5.73" lengthAdjust="spacingAndGlyphs" transform="rotate(0.03 10.65 440.66)">200</text>
<text x="10.65" y="412.25" font-size="3.42" text-anchor="end" textLength="5.73" lengthAdjust="spacingAndGlyphs" transform="rotate(0.03 10.65 412.25)">300</text>
<text x="10.65" y="383.84" font-size="3.42" text-anchor="end" textLength="5.73" lengthAdjust="spacingAndGlyphs" transform="rotate(0.03 10.65 383.84)">400</text>
<text x="10.65" y="355.44" font-size="3.42" text-anchor="end" textLength="5.73" lengthAdjust="spacingAndGlyphs" transform="rotate(0.03 10.65 355.44)">500</text>
<text x="10.65" y="327.03" font-size="3.42" text-anchor="end" textLength="5.73" lengthAdjust="spacingAndGlyphs" transform="rotate(0.03 10.65 327.03)">600</text>
<text x="3.2" y="393.98" font-size="4.1" text-anchor="middle" textLength="35.88" lengthAdjust="spacingAndGlyphs" transform="rotate(-90 3.2 393.98)">FID (lower is better)</text>
<g transform="translate(26.18 466.32) rotate(-45)">
<text x="0" y="1.16" font-size="3.42" text-anchor="middle" textLength="1.91" lengthAdjust="spacingAndGlyphs" transform="rotate(0.03 0 1.16)" font-weight="bold">L</text>
</g>
<g transform="translate(40.29 466.34) rotate(-45)">
<text x="0" y="1.16" font-size="3.42" text-anchor="middle" textLength="2" lengthAdjust="spacingAndGlyphs" transform="rotate(0.03 0 1.16)" font-weight="bold">k</text>
</g>
<g transform="translate(54.4 466.38) rotate(-45)">
<text x="0" y="1.16" font-size="3.42" text-anchor="middle" textLength="2.02" lengthAdjust="spacingAndGlyphs" transform="rotate(0.03 0 1.16)" font-weight="bold">a</text>
</g>
<g transform="translate(68.51 466.38) rotate(-45)">
<text x="0" y="1.16" font-size="3.42" text-anchor="middle" textLength="2.06" lengthAdjust="spacingAndGlyphs" transform="rotate(0.03 0 1.16)" font-weight="bold">o</text>
</g>
<g transform="translate(82.62 466.15) rotate(-45)">
<text x="0" y="1.16" font-size="3.42" text-anchor="middle" textLength="1.43" lengthAdjust="spacingAndGlyphs" transform="rotate(0.03 0 1.16)" font-weight="bold">t</text>
</g>
<g transform="translate(96.73 466.4) rotate(-45)">
<text x="0" y="1.16" font-size="3.42" text-anchor="middle" textLength="2.14" lengthAdjust="spacingAndGlyphs" transform="rotate(0.03 0 1.16)" font-weight="bold">n</text>
</g>
<g transform="translate(110.84 466.34) rotate(-45)">
<text x="0" y="1.16" font-size="3.42" text-anchor="middle" textLength="2" lengthAdjust="spacingAndGlyphs" transform="rotate(0.03 0 1.16)" font-weight="bold">k</text>
</g>
<g transform="translate(124.95 466.38) rotate(-45)">
<text x="0" y="1.16" font-size="3.42" text-anchor="middle" textLength="2.02" lengthAdjust="spacingAndGlyphs" transform="rotate(0.03 0 1.16)" font-weight="bold">a</text>
</g>
<g transform="translate(139.06 466.17) rotate(-45)">
<text x="0" y="1.16" font-size="3.42" text-anchor="middle" textLength="1.48" lengthAdjust="spacingAndGlyphs" transform="rotate(0.03 0 1.16)" font-weight="bold">r</text>
</g>
<g transform="translate(153.17 466.15) rotate(-45)">
<text x="0" y="1.16" font-size="3.42" text-anchor="middle" textLength="1.43" lengthAdjust="spacingAndGlyphs" transform="rotate(0.03 0 1.16)" font-weight="bold">t</text>
</g>
<text x="113.58" y="330.6" font-size="3.42" text-anchor="start" textLength="35.18" lengthAdjust="spacingAndGlyphs" transform="rotate(0.03 113.58 330.6)">2-layer quantum circuit</text>
<text x="113.58" y="335.05" font-size="3.42" text-anchor="start" textLength="29.99" lengthAdjust="spacingAndGlyphs" transform="rotate(0.03 113.58 335.05)">only neural network</text>
<text x="113.58" y="339.5" font-size="3.42" text-anchor="start" textLength="50.22" lengthAdjust="spacingAndGlyphs" transform="rotate(0.03 113.58 339.5)">2-layer quantum+neural network</text>
<text x="183.3" y="463.38" font-size="3.42" text-anchor="end" textLength="6.68" lengthAdjust="spacingAndGlyphs" transform="rotate(0.03 183.3 463.38)">0.00</text>
<text x="183.3" y="448.23" font-size="3.42" text-anchor="end" textLength="6.68" lengthAdjust="spacingAndGlyphs" transform="rotate(0.03 183.3 448.23)">0.05</text>
<text x="183.3" y="433.08" font-size="3.42" text-anchor="end" textLength="6.68" lengthAdjust="spacingAndGlyphs" transform="rotate(0.03 183.3 433.08)">0.10</text>
<text x="183.3" y="417.93" font-size="3.42" text-anchor="end" textLength="6.68" lengthAdjust="spacingAndGlyphs" transform="rotate(0.03 183.3 417.93)">0.15</text>
<text x="183.3" y="402.78" font-size="3.42" text-anchor="end" textLength="6.68" lengthAdjust="spacingAndGlyphs" transform="rotate(0.03 183.3 402.78)">0.20</text>
<text x="183.3" y="387.63" font-size="3.42" text-anchor="end" textLength="6.68" lengthAdjust="spacingAndGlyphs" transform="rotate(0.03 183.3 387.63)">0.25</text>
<text x="183.3" y="372.48" font-size="3.42" text-anchor="end" textLength="6.68" lengthAdjust="spacingAndGlyphs" transform="rotate(0.03 183.3 372.48)">0.30</text>
<text x="183.3" y="357.33" font-size="3.42" text-anchor="end" textLength="6.68" lengthAdjust="spacingAndGlyphs" transform="rotate(0.03 183.3 357.33)">0.35</text>
<text x="183.3" y="342.18" font-size="3.42" text-anchor="end" textLength="6.68" lengthAdjust="spacingAndGlyphs" transform="rotate(0.03 183.3 342.18)">0.40</text>
<text x="183.3" y="327.03" font-size="3.42" text-anchor="end" textLength="6.68" lengthAdjust="spacingAndGlyphs" transform="rotate(0.03 183.3 327.03)">0.45</text>
<text x="174.9" y="393.98" font-size="4.1" text-anchor="middle" textLength="40.42" lengthAdjust="spacingAndGlyphs" transform="rotate(-90 174.9 393.98)">SSIM (higher is better)</text>
<g transform="translate(198.83 466.32) rotate(-45)">
<text x="0" y="1.16" font-size="3.42" text-anchor="middle" textLength="1.91" lengthAdjust="spacingAndGlyphs" transform="rotate(0.03 0 1.16)" font-weight="bold">L</text>
</g>
<g transform="translate(212.94 466.34) rotate(-45)">
<text x="0" y="1.16" font-size="3.42" text-anchor="middle" textLength="2" lengthAdjust="spacingAndGlyphs" transform="rotate(0.03 0 1.16)" font-weight="bold">k</text>
</g>
<g transform="translate(227.05 466.38) rotate(-45)">
<text x="0" y="1.16" font-size="3.42" text-anchor="middle" textLength="2.02" lengthAdjust="spacingAndGlyphs" transform="rotate(0.03 0 1.16)" font-weight="bold">a</text>
</g>
<g transform="translate(241.16 466.38) rotate(-45)">
<text x="0" y="1.16" font-size="3.42" text-anchor="middle" textLength="2.06" lengthAdjust="spacingAndGlyphs" transform="rotate(0.03 0 1.16)" font-weight="bold">o</text>
</g>
<g transform="translate(255.27 466.15) rotate(-45)">
<text x="0" y="1.16" font-size="3.42" text-anchor="middle" textLength="1.43" lengthAdjust="spacingAndGlyphs" transform="rotate(0.03 0 1.16)" font-weight="bold">t</text>
</g>
<g transform="translate(269.38 466.4) rotate(-45)">
<text x="0" y="1.16" font-size="3.42" text-anchor="middle" textLength="2.14" lengthAdjust="spacingAndGlyphs" transform="rotate(0.03 0 1.16)" font-weight="bold">n</text>
</g>
<g transform="translate(283.49 466.34) rotate(-45)">
<text x="0" y="1.16" font-size="3.42" text-anchor="middle" textLength="2" lengthAdjust="spacingAndGlyphs" transform="rotate(0.03 0 1.16)" font-weight="bold">k</text>
</g>
<g transform="translate(297.6 466.38) rotate(-45)">
<text x="0" y="1.16" font-size="3.42" text-anchor="middle" textLength="2.02" lengthAdjust="spacingAndGlyphs" transform="rotate(0.03 0 1.16)" font-weight="bold">a</text>
</g>
<g transform="translate(311.71 466.17) rotate(-45)">
<text x="0" y="1.16" font-size="3.42" text-anchor="middle" textLength="1.48" lengthAdjust="spacingAndGlyphs" transform="rotate(0.03 0 1.16)" font-weight="bold">r</text>
</g>
<g transform="translate(325.82 466.15) rotate(-45)">
<text x="0" y="1.16" font-size="3.42" text-anchor="middle" textLength="1.43" lengthAdjust="spacingAndGlyphs" transform="rotate(0.03 0 1.16)" font-weight="bold">t</text>
</g>
<text x="286.23" y="330.6" font-size="3.42" text-anchor="start" textLength="35.18" lengthAdjust="spacingAndGlyphs" transform="rotate(0.03 286.23 330.6)">2-layer quantum circuit</text>
<text x="286.23" y="335.05" font-size="3.42" text-anchor="start" textLength="29.99" lengthAdjust="spacingAndGlyphs" transform="rotate(0.03 286.23 335.05)">only neural network</text>
<text x="286.23" y="339.5" font-size="3.42" text-anchor="start" textLength="50.22" lengthAdjust="spacingAndGlyphs" transform="rotate(0.03 286.23 339.5)">2-layer quantum+neural network</text>
<text x="356.1" y="463.38" font-size="3.42" text-anchor="end" textLength="8.59" lengthAdjust="spacingAndGlyphs" transform="rotate(0.03 356.1 463.38)">0.800</text>
<text x="356.1" y="447.89" font-size="3.42" text-anchor="end" textLength="8.59" lengthAdjust="spacingAndGlyphs" transform="rotate(0.03 356.1 447.89)">0.825</text>
<text x="356.1" y="432.39" font-size="3.42" text-anchor="end" textLength="8.59" lengthAdjust="spacingAndGlyphs" transform="rotate(0.03 356.1 432.39)">0.850</text>
<text x="356.1" y="416.9" font-size="3.42" text-anchor="end" textLength="8.59" lengthAdjust="spacingAndGlyphs" transform="rotate(0.03 356.1 416.9)">0.875</text>
<text x="356.1" y="401.4" font-size="3.42" text-anchor="end" textLength="8.59" lengthAdjust="spacingAndGlyphs" transform="rotate(0.03 356.1 401.4)">0.900</text>
<text x="356.1" y="385.91" font-size="3.42" text-anchor="end" textLength="8.59" lengthAdjust="spacingAndGlyphs" transform="rotate(0.03 356.1 385.91)">0.925</text>
<text x="356.1" y="370.42" font-size="3.42" text-anchor="end" textLength="8.59" lengthAdjust="spacingAndGlyphs" transform="rotate(0.03 356.1 370.42)">0.950</text>
<text x="356.1" y="354.92" font-size="3.42" text-anchor="end" textLength="8.59" lengthAdjust="spacingAndGlyphs" transform="rotate(0.03 356.1 354.92)">0.975</text>
<text x="356.1" y="339.43" font-size="3.42" text-anchor="end" textLength="8.59" lengthAdjust="spacingAndGlyphs" transform="rotate(0.03 356.1 339.43)">1.000</text>
<text x="345.79" y="393.98" font-size="4.1" text-anchor="middle" textLength="47.06" lengthAdjust="spacingAndGlyphs" transform="rotate(-90 345.79 393.98)">COS-SIM (higher is better)</text>
<g transform="translate(371.63 466.32) rotate(-45)">
<text x="0" y="1.16" font-size="3.42" text-anchor="middle" textLength="1.91" lengthAdjust="spacingAndGlyphs" transform="rotate(0.03 0 1.16)" font-weight="bold">L</text>
</g>
<g transform="translate(385.74 466.34) rotate(-45)">
<text x="0" y="1.16" font-size="3.42" text-anchor="middle" textLength="2" lengthAdjust="spacingAndGlyphs" transform="rotate(0.03 0 1.16)" font-weight="bold">k</text>
</g>
<g transform="translate(399.85 466.38) rotate(-45)">
<text x="0" y="1.16" font-size="3.42" text-anchor="middle" textLength="2.02" lengthAdjust="spacingAndGlyphs" transform="rotate(0.03 0 1.16)" font-weight="bold">a</text>
</g>
<g transform="translate(413.96 466.38) rotate(-45)">
<text x="0" y="1.16" font-size="3.42" text-anchor="middle" textLength="2.06" lengthAdjust="spacingAndGlyphs" transform="rotate(0.03 0 1.16)" font-weight="bold">o</text>
</g>
<g transform="translate(428.07 466.15) rotate(-45)">
<text x="0" y="1.16" font-size="3.42" text-anchor="middle" textLength="1.43" lengthAdjust="spacingAndGlyphs" transform="rotate(0.03 0 1.16)" font-weight="bold">t</text>
</g>
<g transform="translate(442.18 466.4) rotate(-45)">
<text x="0" y="1.16" font-size="3.42" text-anchor="middle" textLength="2.14" lengthAdjust="spacingAndGlyphs" transform="rotate(0.03 0 1.16)" font-weight="bold">n</text>
</g>
<g transform="translate(456.29 466.34) rotate(-45)">
<text x="0" y="1.16" font-size="3.42" text-anchor="middle" textLength="2" lengthAdjust="spacingAndGlyphs" transform="rotate(0.03 0 1.16)" font-weight="bold">k</text>
</g>
<g transform="translate(470.4 466.38) rotate(-45)">
<text x="0" y="1.16" font-size="3.42" text-anchor="middle" textLength="2.02" lengthAdjust="spacingAndGlyphs" transform="rotate(0.03 0 1.16)" font-weight="bold">a</text>
</g>
<g transform="translate(484.51 466.17) rotate(-45)">
<text x="0" y="1.16" font-size="3.42" text-anchor="middle" textLength="1.48" lengthAdjust="spacingAndGlyphs" transform="rotate(0.03 0 1.16)" font-weight="bold">r</text>
</g>
<g transform="translate(498.62 466.15) rotate(-45)">
<text x="0" y="1.16" font-size="3.42" text-anchor="middle" textLength="1.43" lengthAdjust="spacingAndGlyphs" transform="rotate(0.03 0 1.16)" font-weight="bold">t</text>
</g>
<text x="459.03" y="330.6" font-size="3.42" text-anchor="start" textLength="35.18" lengthAdjust="spacingAndGlyphs" transform="rotate(0.03 459.03 330.6)">2-layer quantum circuit</text>
<text x="459.03" y="335.05" font-size="3.42" text-anchor="start" textLength="29.99" lengthAdjust="spacingAndGlyphs" transform="rotate(0.03 459.03 335.05)">only neural network</text>
<text x="459.03" y="339.5" font-size="3.42" text-anchor="start" textLength="50.22" lengthAdjust="spacingAndGlyphs" transform="rotate(0.03 459.03 339.5)">2-layer quantum+neural network</text>
<text x="528.8" y="463.38" font-size="3.42" text-anchor="end" textLength="1.91" lengthAdjust="spacingAndGlyphs" transform="rotate(0.03 528.8 463.38)">8</text>
<text x="528.8" y="442.4" font-size="3.42" text-anchor="end" textLength="1.91" lengthAdjust="spacingAndGlyphs" transform="rotate(0.03 528.8 442.4)">9</text>
<text x="528.8" y="421.43" font-size="3.42" text-anchor="end" textLength="3.82" lengthAdjust="spacingAndGlyphs" transform="rotate(0.03 528.8 421.43)">10</text>
<text x="528.8" y="400.45" font-size="3.42" text-anchor="end" textLength="3.82" lengthAdjust="spacingAndGlyphs" transform="rotate(0.03 528.8 400.45)">11</text>
<text x="528.8" y="379.47" font-size="3.42" text-anchor="end" textLength="3.82" lengthAdjust="spacingAndGlyphs" transform="rotate(0.03 528.8 379.47)">12</text>
<text x="528.8" y="358.5" font-size="3.42" text-anchor="end" textLength="3.82" lengthAdjust="spacingAndGlyphs" transform="rotate(0.03 528.8 358.5)">13</text>
<text x="528.8" y="337.52" font-size="3.42" text-anchor="end" textLength="3.82" lengthAdjust="spacingAndGlyphs" transform="rotate(0.03 528.8 337.52)">14</text>
<text x="523.26" y="393.98" font-size="4.1" text-anchor="middle" textLength="41.33" lengthAdjust="spacingAndGlyphs" transform="rotate(-90 523.26 393.98)">PSNR (higher is better)</text>
<g transform="translate(544.33 466.32) rotate(-45)">
<text x="0" y="1.16" font-size="3.42" text-anchor="middle" textLength="1.91" lengthAdjust="spacingAndGlyphs" transform="rotate(0.03 0 1.16)" font-weight="bold">L</text>
</g>
<g transform="translate(558.44 466.34) rotate(-45)">
<text x="0" y="1.16" font-size="3.42" text-anchor="middle" textLength="2" lengthAdjust="spacingAndGlyphs" transform="rotate(0.03 0 1.16)" font-weight="bold">k</text>
</g>
<g transform="translate(572.55 466.38) rotate(-45)">
<text x="0" y="1.16" font-size="3.42" text-anchor="middle" textLength="2.02" lengthAdjust="spacingAndGlyphs" transform="rotate(0.03 0 1.16)" font-weight="bold">a</text>
</g>
<g transform="translate(586.66 466.38) rotate(-45)">
<text x="0" y="1.16" font-size="3.42" text-anchor="middle" textLength="2.06" lengthAdjust="spacingAndGlyphs" transform="rotate(0.03 0 1.16)" font-weight="bold">o</text>
</g>
<g transform="translate(600.77 466.15) rotate(-45)">
<text x="0" y="1.16" font-size="3.42" text-anchor="middle" textLength="1.43" lengthAdjust="spacingAndGlyphs" transform="rotate(0.03 0 1.16)" font-weight="bold">t</text>
</g>
<g transform="translate(614.88 466.4) rotate(-45)">
<text x="0" y="1.16" font-size="3.42" text-anchor="middle" textLength="2.14" lengthAdjust="spacingAndGlyphs" transform="rotate(0.03 0 1.16)" font-weight="bold">n</text>
</g>
<g transform="translate(628.99 466.34) rotate(-45)">
<text x="0" y="1.16" font-size="3.42" text-anchor="middle" textLength="2" lengthAdjust="spacingAndGlyphs" transform="rotate(0.03 0 1.16)" font-weight="bold">k</text>
</g>
<g transform="translate(643.1 466.38) rotate(-45)">
<text x="0" y="1.16" font-size="3.42" text-anchor="middle" textLength="2.02" lengthAdjust="spacingAndGlyphs" transform="rotate(0.03 0 1.16)" font-weight="bold">a</text>
</g>
<g transform="translate(657.21 466.17) rotate(-45)">
<text x="0" y="1.16" font-size="3.42" text-anchor="middle" textLength="1.48" lengthAdjust="spacingAndGlyphs" transform="rotate(0.03 0 1.16)" font-weight="bold">r</text>
</g>
<g transform="translate(671.32 466.15) rotate(-45)">
<text x="0" y="1.16" font-size="3.42" text-anchor="middle" textLength="1.43" lengthAdjust="spacingAndGlyphs" transform="rotate(0.03 0 1.16)" font-weight="bold">t</text>
</g>
<text x="631.73" y="330.6" font-size="3.42" text-anchor="start" textLength="35.18" lengthAdjust="spacingAndGlyphs" transform="rotate(0.03 631.73 330.6)">2-layer quantum circuit</text>
<text x="631.73" y="335.05" font-size="3.42" text-anchor="start" textLength="29.99" lengthAdjust="spacingAndGlyphs" transform="rotate(0.03 631.73 335.05)">only neural network</text>
<text x="631.73" y="339.5" font-size="3.42" text-anchor="start" textLength="50.22" lengthAdjust="spacingAndGlyphs" transform="rotate(0.03 631.73 339.5)">2-layer quantum+neural network</text>
</g>
</svg>
</body></html>
